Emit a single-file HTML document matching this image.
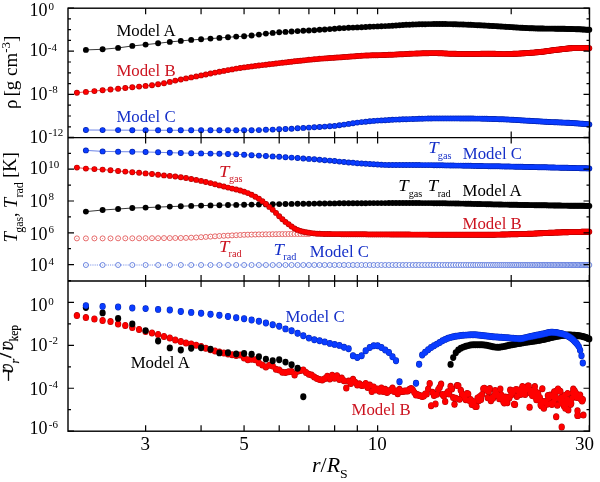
<!DOCTYPE html>
<html><head><meta charset="utf-8"><style>
html,body{margin:0;padding:0;background:#fff;}
body{width:600px;height:482px;position:relative;overflow:hidden;font-family:"Liberation Serif",serif;}
svg{position:absolute;left:0;top:0;}
.t{position:absolute;font-size:16.8px;line-height:1;white-space:nowrap;}
</style></head><body>
<svg width="600" height="482" viewBox="0 0 600 482">
<rect x="0" y="0" width="600" height="482" fill="#fff"/>
<polyline points="85.87,130.00 102.63,130.09 118.06,130.15 132.34,130.19 145.63,130.23 158.07,130.25 169.75,130.27 180.76,130.28 191.18,130.29 201.07,130.29 210.47,130.30 219.43,130.30 228.00,130.30 236.20,130.30 244.07,130.30 251.62,130.23 258.90,130.07 265.90,129.84 272.67,129.59 279.20,129.33 285.52,129.04 291.64,128.69 297.56,128.30 303.32,127.92 308.90,127.57 314.33,127.26 319.61,126.96 324.75,126.65 329.76,126.29 334.63,125.87 339.39,125.29 344.04,124.59 348.57,123.86 353.00,123.18 357.33,122.63 361.57,122.14 365.71,121.68 369.77,121.27 373.74,120.92 377.63,120.64 381.45,120.39 385.19,120.17 388.86,119.96 392.46,119.78 396.00,119.61 399.47,119.47 402.88,119.33 406.23,119.22 409.53,119.11 412.77,119.00 415.95,118.89 419.08,118.79 422.17,118.70 425.20,118.61 428.19,118.54 431.13,118.48 434.03,118.44 436.88,118.41 439.70,118.40 442.47,118.40 445.20,118.40 447.90,118.41 450.56,118.41 453.18,118.42 455.76,118.43 458.32,118.44 460.84,118.45 463.32,118.46 465.78,118.48 468.20,118.49 470.59,118.50 472.96,118.52 475.29,118.55 477.60,118.59 479.88,118.63 482.14,118.68 484.36,118.73 486.57,118.79 488.74,118.85 490.90,118.91 493.03,118.98 495.13,119.04 497.22,119.11 499.28,119.18 501.32,119.24 503.33,119.32 505.33,119.41 507.31,119.50 509.26,119.60 511.20,119.70 513.12,119.80 515.02,119.91 516.90,120.02 518.76,120.13 520.60,120.24 522.43,120.35 524.24,120.46 526.03,120.57 527.81,120.67 529.57,120.78 531.31,120.88 533.04,120.98 534.75,121.08 536.45,121.19 538.13,121.30 539.80,121.40 541.45,121.50 543.09,121.61 544.72,121.70 546.33,121.80 547.93,121.89 549.52,121.97 551.09,122.05 552.65,122.13 554.20,122.20 555.73,122.26 557.26,122.33 558.77,122.39 560.27,122.45 561.76,122.51 563.23,122.57 564.70,122.63 566.15,122.70 567.60,122.77 569.03,122.85 570.45,122.93 571.86,123.01 573.26,123.10 574.66,123.19 576.04,123.29 577.41,123.39 578.77,123.49 580.12,123.59 581.47,123.70 582.80,123.81 584.12,123.92 585.44,124.03 586.75,124.15 588.04,124.27 589.33,124.38" fill="none" stroke="#3355dd" stroke-width="0.9" opacity="0.8"/>
<g fill="#0022b0"><circle cx="85.9" cy="130.0" r="2.95"/><circle cx="102.6" cy="130.1" r="2.95"/><circle cx="118.1" cy="130.1" r="2.95"/><circle cx="132.3" cy="130.2" r="2.95"/><circle cx="145.6" cy="130.2" r="2.95"/><circle cx="158.1" cy="130.3" r="2.95"/><circle cx="169.8" cy="130.3" r="2.95"/><circle cx="180.8" cy="130.3" r="2.95"/><circle cx="191.2" cy="130.3" r="2.95"/><circle cx="201.1" cy="130.3" r="2.95"/><circle cx="210.5" cy="130.3" r="2.95"/><circle cx="219.4" cy="130.3" r="2.95"/><circle cx="228.0" cy="130.3" r="2.95"/><circle cx="236.2" cy="130.3" r="2.95"/><circle cx="244.1" cy="130.3" r="2.95"/><circle cx="251.6" cy="130.2" r="2.95"/><circle cx="258.9" cy="130.1" r="2.95"/><circle cx="265.9" cy="129.8" r="2.95"/><circle cx="272.7" cy="129.6" r="2.95"/><circle cx="279.2" cy="129.3" r="2.95"/><circle cx="285.5" cy="129.0" r="2.95"/><circle cx="291.6" cy="128.7" r="2.95"/><circle cx="297.6" cy="128.3" r="2.95"/><circle cx="303.3" cy="127.9" r="2.95"/><circle cx="308.9" cy="127.6" r="2.95"/><circle cx="314.3" cy="127.3" r="2.95"/><circle cx="319.6" cy="127.0" r="2.95"/><circle cx="324.7" cy="126.6" r="2.95"/><circle cx="329.8" cy="126.3" r="2.95"/><circle cx="334.6" cy="125.9" r="2.95"/><circle cx="339.4" cy="125.3" r="2.95"/><circle cx="344.0" cy="124.6" r="2.95"/><circle cx="348.6" cy="123.9" r="2.95"/><circle cx="353.0" cy="123.2" r="2.95"/><circle cx="357.3" cy="122.6" r="2.95"/><circle cx="361.6" cy="122.1" r="2.95"/><circle cx="365.7" cy="121.7" r="2.95"/><circle cx="369.8" cy="121.3" r="2.95"/><circle cx="373.7" cy="120.9" r="2.95"/><circle cx="377.6" cy="120.6" r="2.95"/><circle cx="381.4" cy="120.4" r="2.95"/><circle cx="385.2" cy="120.2" r="2.95"/><circle cx="388.9" cy="120.0" r="2.95"/><circle cx="392.5" cy="119.8" r="2.95"/><circle cx="396.0" cy="119.6" r="2.95"/><circle cx="399.5" cy="119.5" r="2.95"/><circle cx="402.9" cy="119.3" r="2.95"/><circle cx="406.2" cy="119.2" r="2.95"/><circle cx="409.5" cy="119.1" r="2.95"/><circle cx="412.8" cy="119.0" r="2.95"/><circle cx="416.0" cy="118.9" r="2.95"/><circle cx="419.1" cy="118.8" r="2.95"/><circle cx="422.2" cy="118.7" r="2.95"/><circle cx="425.2" cy="118.6" r="2.95"/><circle cx="428.2" cy="118.5" r="2.95"/><circle cx="431.1" cy="118.5" r="2.95"/><circle cx="434.0" cy="118.4" r="2.95"/><circle cx="436.9" cy="118.4" r="2.95"/><circle cx="439.7" cy="118.4" r="2.95"/><circle cx="442.5" cy="118.4" r="2.95"/><circle cx="445.2" cy="118.4" r="2.95"/><circle cx="447.9" cy="118.4" r="2.95"/><circle cx="450.6" cy="118.4" r="2.95"/><circle cx="453.2" cy="118.4" r="2.95"/><circle cx="455.8" cy="118.4" r="2.95"/><circle cx="458.3" cy="118.4" r="2.95"/><circle cx="460.8" cy="118.5" r="2.95"/><circle cx="463.3" cy="118.5" r="2.95"/><circle cx="465.8" cy="118.5" r="2.95"/><circle cx="468.2" cy="118.5" r="2.95"/><circle cx="470.6" cy="118.5" r="2.95"/><circle cx="473.0" cy="118.5" r="2.95"/><circle cx="475.3" cy="118.6" r="2.95"/><circle cx="477.6" cy="118.6" r="2.95"/><circle cx="479.9" cy="118.6" r="2.95"/><circle cx="482.1" cy="118.7" r="2.95"/><circle cx="484.4" cy="118.7" r="2.95"/><circle cx="486.6" cy="118.8" r="2.95"/><circle cx="488.7" cy="118.9" r="2.95"/><circle cx="490.9" cy="118.9" r="2.95"/><circle cx="493.0" cy="119.0" r="2.95"/><circle cx="495.1" cy="119.0" r="2.95"/><circle cx="497.2" cy="119.1" r="2.95"/><circle cx="499.3" cy="119.2" r="2.95"/><circle cx="501.3" cy="119.2" r="2.95"/><circle cx="503.3" cy="119.3" r="2.95"/><circle cx="505.3" cy="119.4" r="2.95"/><circle cx="507.3" cy="119.5" r="2.95"/><circle cx="509.3" cy="119.6" r="2.95"/><circle cx="511.2" cy="119.7" r="2.95"/><circle cx="513.1" cy="119.8" r="2.95"/><circle cx="515.0" cy="119.9" r="2.95"/><circle cx="516.9" cy="120.0" r="2.95"/><circle cx="518.8" cy="120.1" r="2.95"/><circle cx="520.6" cy="120.2" r="2.95"/><circle cx="522.4" cy="120.4" r="2.95"/><circle cx="524.2" cy="120.5" r="2.95"/><circle cx="526.0" cy="120.6" r="2.95"/><circle cx="527.8" cy="120.7" r="2.95"/><circle cx="529.6" cy="120.8" r="2.95"/><circle cx="531.3" cy="120.9" r="2.95"/><circle cx="533.0" cy="121.0" r="2.95"/><circle cx="534.8" cy="121.1" r="2.95"/><circle cx="536.4" cy="121.2" r="2.95"/><circle cx="538.1" cy="121.3" r="2.95"/><circle cx="539.8" cy="121.4" r="2.95"/><circle cx="541.5" cy="121.5" r="2.95"/><circle cx="543.1" cy="121.6" r="2.95"/><circle cx="544.7" cy="121.7" r="2.95"/><circle cx="546.3" cy="121.8" r="2.95"/><circle cx="547.9" cy="121.9" r="2.95"/><circle cx="549.5" cy="122.0" r="2.95"/><circle cx="551.1" cy="122.1" r="2.95"/><circle cx="552.7" cy="122.1" r="2.95"/><circle cx="554.2" cy="122.2" r="2.95"/><circle cx="555.7" cy="122.3" r="2.95"/><circle cx="557.3" cy="122.3" r="2.95"/><circle cx="558.8" cy="122.4" r="2.95"/><circle cx="560.3" cy="122.4" r="2.95"/><circle cx="561.8" cy="122.5" r="2.95"/><circle cx="563.2" cy="122.6" r="2.95"/><circle cx="564.7" cy="122.6" r="2.95"/><circle cx="566.2" cy="122.7" r="2.95"/><circle cx="567.6" cy="122.8" r="2.95"/><circle cx="569.0" cy="122.8" r="2.95"/><circle cx="570.5" cy="122.9" r="2.95"/><circle cx="571.9" cy="123.0" r="2.95"/><circle cx="573.3" cy="123.1" r="2.95"/><circle cx="574.7" cy="123.2" r="2.95"/><circle cx="576.0" cy="123.3" r="2.95"/><circle cx="577.4" cy="123.4" r="2.95"/><circle cx="578.8" cy="123.5" r="2.95"/><circle cx="580.1" cy="123.6" r="2.95"/><circle cx="581.5" cy="123.7" r="2.95"/><circle cx="582.8" cy="123.8" r="2.95"/><circle cx="584.1" cy="123.9" r="2.95"/><circle cx="585.4" cy="124.0" r="2.95"/><circle cx="586.7" cy="124.1" r="2.95"/><circle cx="588.0" cy="124.3" r="2.95"/><circle cx="589.3" cy="124.4" r="2.95"/></g>
<g fill="#0a3cff"><circle cx="85.9" cy="130.0" r="2.25"/><circle cx="102.6" cy="130.1" r="2.25"/><circle cx="118.1" cy="130.1" r="2.25"/><circle cx="132.3" cy="130.2" r="2.25"/><circle cx="145.6" cy="130.2" r="2.25"/><circle cx="158.1" cy="130.3" r="2.25"/><circle cx="169.8" cy="130.3" r="2.25"/><circle cx="180.8" cy="130.3" r="2.25"/><circle cx="191.2" cy="130.3" r="2.25"/><circle cx="201.1" cy="130.3" r="2.25"/><circle cx="210.5" cy="130.3" r="2.25"/><circle cx="219.4" cy="130.3" r="2.25"/><circle cx="228.0" cy="130.3" r="2.25"/><circle cx="236.2" cy="130.3" r="2.25"/><circle cx="244.1" cy="130.3" r="2.25"/><circle cx="251.6" cy="130.2" r="2.25"/><circle cx="258.9" cy="130.1" r="2.25"/><circle cx="265.9" cy="129.8" r="2.25"/><circle cx="272.7" cy="129.6" r="2.25"/><circle cx="279.2" cy="129.3" r="2.25"/><circle cx="285.5" cy="129.0" r="2.25"/><circle cx="291.6" cy="128.7" r="2.25"/><circle cx="297.6" cy="128.3" r="2.25"/><circle cx="303.3" cy="127.9" r="2.25"/><circle cx="308.9" cy="127.6" r="2.25"/><circle cx="314.3" cy="127.3" r="2.25"/><circle cx="319.6" cy="127.0" r="2.25"/><circle cx="324.7" cy="126.6" r="2.25"/><circle cx="329.8" cy="126.3" r="2.25"/><circle cx="334.6" cy="125.9" r="2.25"/><circle cx="339.4" cy="125.3" r="2.25"/><circle cx="344.0" cy="124.6" r="2.25"/><circle cx="348.6" cy="123.9" r="2.25"/><circle cx="353.0" cy="123.2" r="2.25"/><circle cx="357.3" cy="122.6" r="2.25"/><circle cx="361.6" cy="122.1" r="2.25"/><circle cx="365.7" cy="121.7" r="2.25"/><circle cx="369.8" cy="121.3" r="2.25"/><circle cx="373.7" cy="120.9" r="2.25"/><circle cx="377.6" cy="120.6" r="2.25"/><circle cx="381.4" cy="120.4" r="2.25"/><circle cx="385.2" cy="120.2" r="2.25"/><circle cx="388.9" cy="120.0" r="2.25"/><circle cx="392.5" cy="119.8" r="2.25"/><circle cx="396.0" cy="119.6" r="2.25"/><circle cx="399.5" cy="119.5" r="2.25"/><circle cx="402.9" cy="119.3" r="2.25"/><circle cx="406.2" cy="119.2" r="2.25"/><circle cx="409.5" cy="119.1" r="2.25"/><circle cx="412.8" cy="119.0" r="2.25"/><circle cx="416.0" cy="118.9" r="2.25"/><circle cx="419.1" cy="118.8" r="2.25"/><circle cx="422.2" cy="118.7" r="2.25"/><circle cx="425.2" cy="118.6" r="2.25"/><circle cx="428.2" cy="118.5" r="2.25"/><circle cx="431.1" cy="118.5" r="2.25"/><circle cx="434.0" cy="118.4" r="2.25"/><circle cx="436.9" cy="118.4" r="2.25"/><circle cx="439.7" cy="118.4" r="2.25"/><circle cx="442.5" cy="118.4" r="2.25"/><circle cx="445.2" cy="118.4" r="2.25"/><circle cx="447.9" cy="118.4" r="2.25"/><circle cx="450.6" cy="118.4" r="2.25"/><circle cx="453.2" cy="118.4" r="2.25"/><circle cx="455.8" cy="118.4" r="2.25"/><circle cx="458.3" cy="118.4" r="2.25"/><circle cx="460.8" cy="118.5" r="2.25"/><circle cx="463.3" cy="118.5" r="2.25"/><circle cx="465.8" cy="118.5" r="2.25"/><circle cx="468.2" cy="118.5" r="2.25"/><circle cx="470.6" cy="118.5" r="2.25"/><circle cx="473.0" cy="118.5" r="2.25"/><circle cx="475.3" cy="118.6" r="2.25"/><circle cx="477.6" cy="118.6" r="2.25"/><circle cx="479.9" cy="118.6" r="2.25"/><circle cx="482.1" cy="118.7" r="2.25"/><circle cx="484.4" cy="118.7" r="2.25"/><circle cx="486.6" cy="118.8" r="2.25"/><circle cx="488.7" cy="118.9" r="2.25"/><circle cx="490.9" cy="118.9" r="2.25"/><circle cx="493.0" cy="119.0" r="2.25"/><circle cx="495.1" cy="119.0" r="2.25"/><circle cx="497.2" cy="119.1" r="2.25"/><circle cx="499.3" cy="119.2" r="2.25"/><circle cx="501.3" cy="119.2" r="2.25"/><circle cx="503.3" cy="119.3" r="2.25"/><circle cx="505.3" cy="119.4" r="2.25"/><circle cx="507.3" cy="119.5" r="2.25"/><circle cx="509.3" cy="119.6" r="2.25"/><circle cx="511.2" cy="119.7" r="2.25"/><circle cx="513.1" cy="119.8" r="2.25"/><circle cx="515.0" cy="119.9" r="2.25"/><circle cx="516.9" cy="120.0" r="2.25"/><circle cx="518.8" cy="120.1" r="2.25"/><circle cx="520.6" cy="120.2" r="2.25"/><circle cx="522.4" cy="120.4" r="2.25"/><circle cx="524.2" cy="120.5" r="2.25"/><circle cx="526.0" cy="120.6" r="2.25"/><circle cx="527.8" cy="120.7" r="2.25"/><circle cx="529.6" cy="120.8" r="2.25"/><circle cx="531.3" cy="120.9" r="2.25"/><circle cx="533.0" cy="121.0" r="2.25"/><circle cx="534.8" cy="121.1" r="2.25"/><circle cx="536.4" cy="121.2" r="2.25"/><circle cx="538.1" cy="121.3" r="2.25"/><circle cx="539.8" cy="121.4" r="2.25"/><circle cx="541.5" cy="121.5" r="2.25"/><circle cx="543.1" cy="121.6" r="2.25"/><circle cx="544.7" cy="121.7" r="2.25"/><circle cx="546.3" cy="121.8" r="2.25"/><circle cx="547.9" cy="121.9" r="2.25"/><circle cx="549.5" cy="122.0" r="2.25"/><circle cx="551.1" cy="122.1" r="2.25"/><circle cx="552.7" cy="122.1" r="2.25"/><circle cx="554.2" cy="122.2" r="2.25"/><circle cx="555.7" cy="122.3" r="2.25"/><circle cx="557.3" cy="122.3" r="2.25"/><circle cx="558.8" cy="122.4" r="2.25"/><circle cx="560.3" cy="122.4" r="2.25"/><circle cx="561.8" cy="122.5" r="2.25"/><circle cx="563.2" cy="122.6" r="2.25"/><circle cx="564.7" cy="122.6" r="2.25"/><circle cx="566.2" cy="122.7" r="2.25"/><circle cx="567.6" cy="122.8" r="2.25"/><circle cx="569.0" cy="122.8" r="2.25"/><circle cx="570.5" cy="122.9" r="2.25"/><circle cx="571.9" cy="123.0" r="2.25"/><circle cx="573.3" cy="123.1" r="2.25"/><circle cx="574.7" cy="123.2" r="2.25"/><circle cx="576.0" cy="123.3" r="2.25"/><circle cx="577.4" cy="123.4" r="2.25"/><circle cx="578.8" cy="123.5" r="2.25"/><circle cx="580.1" cy="123.6" r="2.25"/><circle cx="581.5" cy="123.7" r="2.25"/><circle cx="582.8" cy="123.8" r="2.25"/><circle cx="584.1" cy="123.9" r="2.25"/><circle cx="585.4" cy="124.0" r="2.25"/><circle cx="586.7" cy="124.1" r="2.25"/><circle cx="588.0" cy="124.3" r="2.25"/><circle cx="589.3" cy="124.4" r="2.25"/></g>
<polyline points="76.90,92.68 85.87,91.86 94.43,91.05 102.63,90.26 110.50,89.48 118.06,88.72 125.33,88.01 132.34,87.32 139.10,86.61 145.63,85.91 151.95,85.18 158.07,84.34 164.00,83.24 169.75,81.94 175.34,80.64 180.76,79.49 186.04,78.43 191.18,77.41 196.19,76.42 201.07,75.44 205.83,74.48 210.47,73.54 215.00,72.64 219.43,71.78 223.76,70.94 228.00,70.13 232.14,69.36 236.20,68.65 240.17,68.00 244.07,67.42 247.88,66.89 251.62,66.39 255.29,65.92 258.90,65.48 262.43,65.06 265.90,64.66 269.31,64.27 272.67,63.87 275.96,63.49 279.20,63.10 282.38,62.72 285.52,62.36 288.60,62.00 291.64,61.65 294.62,61.32 297.56,61.01 300.46,60.70 303.32,60.40 306.13,60.11 308.90,59.83 311.64,59.56 314.33,59.30 316.99,59.06 319.61,58.83 322.20,58.62 324.75,58.42 327.27,58.23 329.76,58.05 332.21,57.87 334.63,57.70 337.03,57.54 339.39,57.37 341.73,57.21 344.04,57.05 346.32,56.88 348.57,56.71 350.80,56.54 353.00,56.37 355.18,56.20 357.33,56.05 359.46,55.90 361.57,55.77 363.65,55.65 365.71,55.54 367.75,55.46 369.77,55.38 371.76,55.32 373.74,55.26 375.70,55.20 377.63,55.15 379.55,55.11 381.45,55.06 383.33,55.01 385.19,54.96 387.03,54.90 388.86,54.84 390.67,54.77 392.46,54.70 394.24,54.62 396.00,54.53 397.74,54.44 399.47,54.34 401.18,54.25 402.88,54.15 404.56,54.06 406.23,53.96 407.89,53.88 409.53,53.79 411.15,53.71 412.77,53.64 414.36,53.58 415.95,53.52 417.52,53.48 419.08,53.43 420.63,53.38 422.17,53.33 423.69,53.29 425.20,53.25 426.70,53.21 428.19,53.18 429.67,53.15 431.13,53.13 432.59,53.11 434.03,53.10 435.46,53.10 436.88,53.12 438.30,53.15 439.70,53.20 441.09,53.26 442.47,53.32 443.84,53.39 445.20,53.47 446.56,53.54 447.90,53.61 449.23,53.67 450.56,53.72 451.87,53.77 453.18,53.80 454.48,53.82 455.76,53.84 457.05,53.86 458.32,53.88 459.58,53.90 460.84,53.92 462.08,53.93 463.32,53.95 464.55,53.96 465.78,53.97 466.99,53.98 468.20,53.99 469.40,54.00 470.59,54.00 471.78,54.00 472.96,54.00 474.13,53.99 475.29,53.97 476.45,53.95 477.60,53.93 478.75,53.90 479.88,53.87 481.01,53.85 482.14,53.82 483.25,53.79 484.36,53.77 485.47,53.75 486.57,53.73 487.66,53.71 488.74,53.70 489.82,53.70 490.90,53.71 491.96,53.72 493.03,53.75 494.08,53.79 495.13,53.83 496.18,53.88 497.22,53.93 498.25,53.97 499.28,54.01 500.30,54.05 501.32,54.08 502.33,54.09 503.33,54.10 504.33,54.10 505.33,54.09 506.32,54.07 507.31,54.05 508.29,54.02 509.26,53.99 510.23,53.96 511.20,53.92 512.16,53.88 513.12,53.84 514.07,53.79 515.02,53.75 515.96,53.70 516.90,53.65 517.83,53.60 518.76,53.55 519.68,53.50 520.60,53.46 521.52,53.41 522.43,53.36 523.34,53.31 524.24,53.26 525.14,53.21 526.03,53.15 526.92,53.09 527.81,53.03 528.69,52.97 529.57,52.90 530.44,52.84 531.31,52.77 532.18,52.70 533.04,52.63 533.90,52.56 534.75,52.48 535.60,52.41 536.45,52.33 537.29,52.26 538.13,52.18 538.97,52.10 539.80,52.02 540.63,51.94 541.45,51.85 542.28,51.76 543.09,51.66 543.91,51.55 544.72,51.45 545.53,51.34 546.33,51.22 547.13,51.11 547.93,51.00 548.73,50.88 549.52,50.76 550.31,50.65 551.09,50.53 551.87,50.42 552.65,50.31 553.43,50.20 554.20,50.10 554.97,49.99 555.73,49.90 556.50,49.80 557.26,49.71 558.01,49.63 558.77,49.55 559.52,49.47 560.27,49.38 561.01,49.30 561.76,49.21 562.50,49.13 563.23,49.04 563.97,48.95 564.70,48.87 565.43,48.79 566.15,48.70 566.88,48.63 567.60,48.55 568.31,48.48 569.03,48.41 569.74,48.34 570.45,48.28 571.16,48.23 571.86,48.18 572.56,48.13 573.26,48.09 573.96,48.06 574.66,48.03 575.35,48.02 576.04,48.00 576.72,48.00 577.41,48.00 578.09,48.00 578.77,48.00 579.45,48.00 580.12,48.00 580.80,48.01 581.47,48.01 582.13,48.02 582.80,48.02 583.46,48.03 584.12,48.04 584.78,48.05 585.44,48.06 586.09,48.08 586.75,48.10 587.40,48.12 588.04,48.14 588.69,48.16 589.33,48.19" fill="none" stroke="#ee3333" stroke-width="0.9" opacity="1"/>
<g fill="#b80000"><circle cx="76.9" cy="92.7" r="2.95"/><circle cx="85.9" cy="91.9" r="2.95"/><circle cx="94.4" cy="91.1" r="2.95"/><circle cx="102.6" cy="90.3" r="2.95"/><circle cx="110.5" cy="89.5" r="2.95"/><circle cx="118.1" cy="88.7" r="2.95"/><circle cx="125.3" cy="88.0" r="2.95"/><circle cx="132.3" cy="87.3" r="2.95"/><circle cx="139.1" cy="86.6" r="2.95"/><circle cx="145.6" cy="85.9" r="2.95"/><circle cx="152.0" cy="85.2" r="2.95"/><circle cx="158.1" cy="84.3" r="2.95"/><circle cx="164.0" cy="83.2" r="2.95"/><circle cx="169.8" cy="81.9" r="2.95"/><circle cx="175.3" cy="80.6" r="2.95"/><circle cx="180.8" cy="79.5" r="2.95"/><circle cx="186.0" cy="78.4" r="2.95"/><circle cx="191.2" cy="77.4" r="2.95"/><circle cx="196.2" cy="76.4" r="2.95"/><circle cx="201.1" cy="75.4" r="2.95"/><circle cx="205.8" cy="74.5" r="2.95"/><circle cx="210.5" cy="73.5" r="2.95"/><circle cx="215.0" cy="72.6" r="2.95"/><circle cx="219.4" cy="71.8" r="2.95"/><circle cx="223.8" cy="70.9" r="2.95"/><circle cx="228.0" cy="70.1" r="2.95"/><circle cx="232.1" cy="69.4" r="2.95"/><circle cx="236.2" cy="68.6" r="2.95"/><circle cx="240.2" cy="68.0" r="2.95"/><circle cx="244.1" cy="67.4" r="2.95"/><circle cx="247.9" cy="66.9" r="2.95"/><circle cx="251.6" cy="66.4" r="2.95"/><circle cx="255.3" cy="65.9" r="2.95"/><circle cx="258.9" cy="65.5" r="2.95"/><circle cx="262.4" cy="65.1" r="2.95"/><circle cx="265.9" cy="64.7" r="2.95"/><circle cx="269.3" cy="64.3" r="2.95"/><circle cx="272.7" cy="63.9" r="2.95"/><circle cx="276.0" cy="63.5" r="2.95"/><circle cx="279.2" cy="63.1" r="2.95"/><circle cx="282.4" cy="62.7" r="2.95"/><circle cx="285.5" cy="62.4" r="2.95"/><circle cx="288.6" cy="62.0" r="2.95"/><circle cx="291.6" cy="61.7" r="2.95"/><circle cx="294.6" cy="61.3" r="2.95"/><circle cx="297.6" cy="61.0" r="2.95"/><circle cx="300.5" cy="60.7" r="2.95"/><circle cx="303.3" cy="60.4" r="2.95"/><circle cx="306.1" cy="60.1" r="2.95"/><circle cx="308.9" cy="59.8" r="2.95"/><circle cx="311.6" cy="59.6" r="2.95"/><circle cx="314.3" cy="59.3" r="2.95"/><circle cx="317.0" cy="59.1" r="2.95"/><circle cx="319.6" cy="58.8" r="2.95"/><circle cx="322.2" cy="58.6" r="2.95"/><circle cx="324.7" cy="58.4" r="2.95"/><circle cx="327.3" cy="58.2" r="2.95"/><circle cx="329.8" cy="58.0" r="2.95"/><circle cx="332.2" cy="57.9" r="2.95"/><circle cx="334.6" cy="57.7" r="2.95"/><circle cx="337.0" cy="57.5" r="2.95"/><circle cx="339.4" cy="57.4" r="2.95"/><circle cx="341.7" cy="57.2" r="2.95"/><circle cx="344.0" cy="57.0" r="2.95"/><circle cx="346.3" cy="56.9" r="2.95"/><circle cx="348.6" cy="56.7" r="2.95"/><circle cx="350.8" cy="56.5" r="2.95"/><circle cx="353.0" cy="56.4" r="2.95"/><circle cx="355.2" cy="56.2" r="2.95"/><circle cx="357.3" cy="56.0" r="2.95"/><circle cx="359.5" cy="55.9" r="2.95"/><circle cx="361.6" cy="55.8" r="2.95"/><circle cx="363.6" cy="55.6" r="2.95"/><circle cx="365.7" cy="55.5" r="2.95"/><circle cx="367.7" cy="55.5" r="2.95"/><circle cx="369.8" cy="55.4" r="2.95"/><circle cx="371.8" cy="55.3" r="2.95"/><circle cx="373.7" cy="55.3" r="2.95"/><circle cx="375.7" cy="55.2" r="2.95"/><circle cx="377.6" cy="55.2" r="2.95"/><circle cx="379.6" cy="55.1" r="2.95"/><circle cx="381.4" cy="55.1" r="2.95"/><circle cx="383.3" cy="55.0" r="2.95"/><circle cx="385.2" cy="55.0" r="2.95"/><circle cx="387.0" cy="54.9" r="2.95"/><circle cx="388.9" cy="54.8" r="2.95"/><circle cx="390.7" cy="54.8" r="2.95"/><circle cx="392.5" cy="54.7" r="2.95"/><circle cx="394.2" cy="54.6" r="2.95"/><circle cx="396.0" cy="54.5" r="2.95"/><circle cx="397.7" cy="54.4" r="2.95"/><circle cx="399.5" cy="54.3" r="2.95"/><circle cx="401.2" cy="54.2" r="2.95"/><circle cx="402.9" cy="54.2" r="2.95"/><circle cx="404.6" cy="54.1" r="2.95"/><circle cx="406.2" cy="54.0" r="2.95"/><circle cx="407.9" cy="53.9" r="2.95"/><circle cx="409.5" cy="53.8" r="2.95"/><circle cx="411.2" cy="53.7" r="2.95"/><circle cx="412.8" cy="53.6" r="2.95"/><circle cx="414.4" cy="53.6" r="2.95"/><circle cx="416.0" cy="53.5" r="2.95"/><circle cx="417.5" cy="53.5" r="2.95"/><circle cx="419.1" cy="53.4" r="2.95"/><circle cx="420.6" cy="53.4" r="2.95"/><circle cx="422.2" cy="53.3" r="2.95"/><circle cx="423.7" cy="53.3" r="2.95"/><circle cx="425.2" cy="53.2" r="2.95"/><circle cx="426.7" cy="53.2" r="2.95"/><circle cx="428.2" cy="53.2" r="2.95"/><circle cx="429.7" cy="53.1" r="2.95"/><circle cx="431.1" cy="53.1" r="2.95"/><circle cx="432.6" cy="53.1" r="2.95"/><circle cx="434.0" cy="53.1" r="2.95"/><circle cx="435.5" cy="53.1" r="2.95"/><circle cx="436.9" cy="53.1" r="2.95"/><circle cx="438.3" cy="53.2" r="2.95"/><circle cx="439.7" cy="53.2" r="2.95"/><circle cx="441.1" cy="53.3" r="2.95"/><circle cx="442.5" cy="53.3" r="2.95"/><circle cx="443.8" cy="53.4" r="2.95"/><circle cx="445.2" cy="53.5" r="2.95"/><circle cx="446.6" cy="53.5" r="2.95"/><circle cx="447.9" cy="53.6" r="2.95"/><circle cx="449.2" cy="53.7" r="2.95"/><circle cx="450.6" cy="53.7" r="2.95"/><circle cx="451.9" cy="53.8" r="2.95"/><circle cx="453.2" cy="53.8" r="2.95"/><circle cx="454.5" cy="53.8" r="2.95"/><circle cx="455.8" cy="53.8" r="2.95"/><circle cx="457.0" cy="53.9" r="2.95"/><circle cx="458.3" cy="53.9" r="2.95"/><circle cx="459.6" cy="53.9" r="2.95"/><circle cx="460.8" cy="53.9" r="2.95"/><circle cx="462.1" cy="53.9" r="2.95"/><circle cx="463.3" cy="53.9" r="2.95"/><circle cx="464.6" cy="54.0" r="2.95"/><circle cx="465.8" cy="54.0" r="2.95"/><circle cx="467.0" cy="54.0" r="2.95"/><circle cx="468.2" cy="54.0" r="2.95"/><circle cx="469.4" cy="54.0" r="2.95"/><circle cx="470.6" cy="54.0" r="2.95"/><circle cx="471.8" cy="54.0" r="2.95"/><circle cx="473.0" cy="54.0" r="2.95"/><circle cx="474.1" cy="54.0" r="2.95"/><circle cx="475.3" cy="54.0" r="2.95"/><circle cx="476.5" cy="53.9" r="2.95"/><circle cx="477.6" cy="53.9" r="2.95"/><circle cx="478.7" cy="53.9" r="2.95"/><circle cx="479.9" cy="53.9" r="2.95"/><circle cx="481.0" cy="53.8" r="2.95"/><circle cx="482.1" cy="53.8" r="2.95"/><circle cx="483.3" cy="53.8" r="2.95"/><circle cx="484.4" cy="53.8" r="2.95"/><circle cx="485.5" cy="53.7" r="2.95"/><circle cx="486.6" cy="53.7" r="2.95"/><circle cx="487.7" cy="53.7" r="2.95"/><circle cx="488.7" cy="53.7" r="2.95"/><circle cx="489.8" cy="53.7" r="2.95"/><circle cx="490.9" cy="53.7" r="2.95"/><circle cx="492.0" cy="53.7" r="2.95"/><circle cx="493.0" cy="53.8" r="2.95"/><circle cx="494.1" cy="53.8" r="2.95"/><circle cx="495.1" cy="53.8" r="2.95"/><circle cx="496.2" cy="53.9" r="2.95"/><circle cx="497.2" cy="53.9" r="2.95"/><circle cx="498.2" cy="54.0" r="2.95"/><circle cx="499.3" cy="54.0" r="2.95"/><circle cx="500.3" cy="54.0" r="2.95"/><circle cx="501.3" cy="54.1" r="2.95"/><circle cx="502.3" cy="54.1" r="2.95"/><circle cx="503.3" cy="54.1" r="2.95"/><circle cx="504.3" cy="54.1" r="2.95"/><circle cx="505.3" cy="54.1" r="2.95"/><circle cx="506.3" cy="54.1" r="2.95"/><circle cx="507.3" cy="54.0" r="2.95"/><circle cx="508.3" cy="54.0" r="2.95"/><circle cx="509.3" cy="54.0" r="2.95"/><circle cx="510.2" cy="54.0" r="2.95"/><circle cx="511.2" cy="53.9" r="2.95"/><circle cx="512.2" cy="53.9" r="2.95"/><circle cx="513.1" cy="53.8" r="2.95"/><circle cx="514.1" cy="53.8" r="2.95"/><circle cx="515.0" cy="53.7" r="2.95"/><circle cx="516.0" cy="53.7" r="2.95"/><circle cx="516.9" cy="53.7" r="2.95"/><circle cx="517.8" cy="53.6" r="2.95"/><circle cx="518.8" cy="53.6" r="2.95"/><circle cx="519.7" cy="53.5" r="2.95"/><circle cx="520.6" cy="53.5" r="2.95"/><circle cx="521.5" cy="53.4" r="2.95"/><circle cx="522.4" cy="53.4" r="2.95"/><circle cx="523.3" cy="53.3" r="2.95"/><circle cx="524.2" cy="53.3" r="2.95"/><circle cx="525.1" cy="53.2" r="2.95"/><circle cx="526.0" cy="53.1" r="2.95"/><circle cx="526.9" cy="53.1" r="2.95"/><circle cx="527.8" cy="53.0" r="2.95"/><circle cx="528.7" cy="53.0" r="2.95"/><circle cx="529.6" cy="52.9" r="2.95"/><circle cx="530.4" cy="52.8" r="2.95"/><circle cx="531.3" cy="52.8" r="2.95"/><circle cx="532.2" cy="52.7" r="2.95"/><circle cx="533.0" cy="52.6" r="2.95"/><circle cx="533.9" cy="52.6" r="2.95"/><circle cx="534.8" cy="52.5" r="2.95"/><circle cx="535.6" cy="52.4" r="2.95"/><circle cx="536.4" cy="52.3" r="2.95"/><circle cx="537.3" cy="52.3" r="2.95"/><circle cx="538.1" cy="52.2" r="2.95"/><circle cx="539.0" cy="52.1" r="2.95"/><circle cx="539.8" cy="52.0" r="2.95"/><circle cx="540.6" cy="51.9" r="2.95"/><circle cx="541.5" cy="51.8" r="2.95"/><circle cx="542.3" cy="51.8" r="2.95"/><circle cx="543.1" cy="51.7" r="2.95"/><circle cx="543.9" cy="51.6" r="2.95"/><circle cx="544.7" cy="51.4" r="2.95"/><circle cx="545.5" cy="51.3" r="2.95"/><circle cx="546.3" cy="51.2" r="2.95"/><circle cx="547.1" cy="51.1" r="2.95"/><circle cx="547.9" cy="51.0" r="2.95"/><circle cx="548.7" cy="50.9" r="2.95"/><circle cx="549.5" cy="50.8" r="2.95"/><circle cx="550.3" cy="50.6" r="2.95"/><circle cx="551.1" cy="50.5" r="2.95"/><circle cx="551.9" cy="50.4" r="2.95"/><circle cx="552.7" cy="50.3" r="2.95"/><circle cx="553.4" cy="50.2" r="2.95"/><circle cx="554.2" cy="50.1" r="2.95"/><circle cx="555.0" cy="50.0" r="2.95"/><circle cx="555.7" cy="49.9" r="2.95"/><circle cx="556.5" cy="49.8" r="2.95"/><circle cx="557.3" cy="49.7" r="2.95"/><circle cx="558.0" cy="49.6" r="2.95"/><circle cx="558.8" cy="49.6" r="2.95"/><circle cx="559.5" cy="49.5" r="2.95"/><circle cx="560.3" cy="49.4" r="2.95"/><circle cx="561.0" cy="49.3" r="2.95"/><circle cx="561.8" cy="49.2" r="2.95"/><circle cx="562.5" cy="49.1" r="2.95"/><circle cx="563.2" cy="49.0" r="2.95"/><circle cx="564.0" cy="49.0" r="2.95"/><circle cx="564.7" cy="48.9" r="2.95"/><circle cx="565.4" cy="48.8" r="2.95"/><circle cx="566.2" cy="48.7" r="2.95"/><circle cx="566.9" cy="48.6" r="2.95"/><circle cx="567.6" cy="48.5" r="2.95"/><circle cx="568.3" cy="48.5" r="2.95"/><circle cx="569.0" cy="48.4" r="2.95"/><circle cx="569.7" cy="48.3" r="2.95"/><circle cx="570.5" cy="48.3" r="2.95"/><circle cx="571.2" cy="48.2" r="2.95"/><circle cx="571.9" cy="48.2" r="2.95"/><circle cx="572.6" cy="48.1" r="2.95"/><circle cx="573.3" cy="48.1" r="2.95"/><circle cx="574.0" cy="48.1" r="2.95"/><circle cx="574.7" cy="48.0" r="2.95"/><circle cx="575.3" cy="48.0" r="2.95"/><circle cx="576.0" cy="48.0" r="2.95"/><circle cx="576.7" cy="48.0" r="2.95"/><circle cx="577.4" cy="48.0" r="2.95"/><circle cx="578.1" cy="48.0" r="2.95"/><circle cx="578.8" cy="48.0" r="2.95"/><circle cx="579.4" cy="48.0" r="2.95"/><circle cx="580.1" cy="48.0" r="2.95"/><circle cx="580.8" cy="48.0" r="2.95"/><circle cx="581.5" cy="48.0" r="2.95"/><circle cx="582.1" cy="48.0" r="2.95"/><circle cx="582.8" cy="48.0" r="2.95"/><circle cx="583.5" cy="48.0" r="2.95"/><circle cx="584.1" cy="48.0" r="2.95"/><circle cx="584.8" cy="48.1" r="2.95"/><circle cx="585.4" cy="48.1" r="2.95"/><circle cx="586.1" cy="48.1" r="2.95"/><circle cx="586.7" cy="48.1" r="2.95"/><circle cx="587.4" cy="48.1" r="2.95"/><circle cx="588.0" cy="48.1" r="2.95"/><circle cx="588.7" cy="48.2" r="2.95"/><circle cx="589.3" cy="48.2" r="2.95"/></g>
<g fill="#ff0000"><circle cx="76.9" cy="92.7" r="2.25"/><circle cx="85.9" cy="91.9" r="2.25"/><circle cx="94.4" cy="91.1" r="2.25"/><circle cx="102.6" cy="90.3" r="2.25"/><circle cx="110.5" cy="89.5" r="2.25"/><circle cx="118.1" cy="88.7" r="2.25"/><circle cx="125.3" cy="88.0" r="2.25"/><circle cx="132.3" cy="87.3" r="2.25"/><circle cx="139.1" cy="86.6" r="2.25"/><circle cx="145.6" cy="85.9" r="2.25"/><circle cx="152.0" cy="85.2" r="2.25"/><circle cx="158.1" cy="84.3" r="2.25"/><circle cx="164.0" cy="83.2" r="2.25"/><circle cx="169.8" cy="81.9" r="2.25"/><circle cx="175.3" cy="80.6" r="2.25"/><circle cx="180.8" cy="79.5" r="2.25"/><circle cx="186.0" cy="78.4" r="2.25"/><circle cx="191.2" cy="77.4" r="2.25"/><circle cx="196.2" cy="76.4" r="2.25"/><circle cx="201.1" cy="75.4" r="2.25"/><circle cx="205.8" cy="74.5" r="2.25"/><circle cx="210.5" cy="73.5" r="2.25"/><circle cx="215.0" cy="72.6" r="2.25"/><circle cx="219.4" cy="71.8" r="2.25"/><circle cx="223.8" cy="70.9" r="2.25"/><circle cx="228.0" cy="70.1" r="2.25"/><circle cx="232.1" cy="69.4" r="2.25"/><circle cx="236.2" cy="68.6" r="2.25"/><circle cx="240.2" cy="68.0" r="2.25"/><circle cx="244.1" cy="67.4" r="2.25"/><circle cx="247.9" cy="66.9" r="2.25"/><circle cx="251.6" cy="66.4" r="2.25"/><circle cx="255.3" cy="65.9" r="2.25"/><circle cx="258.9" cy="65.5" r="2.25"/><circle cx="262.4" cy="65.1" r="2.25"/><circle cx="265.9" cy="64.7" r="2.25"/><circle cx="269.3" cy="64.3" r="2.25"/><circle cx="272.7" cy="63.9" r="2.25"/><circle cx="276.0" cy="63.5" r="2.25"/><circle cx="279.2" cy="63.1" r="2.25"/><circle cx="282.4" cy="62.7" r="2.25"/><circle cx="285.5" cy="62.4" r="2.25"/><circle cx="288.6" cy="62.0" r="2.25"/><circle cx="291.6" cy="61.7" r="2.25"/><circle cx="294.6" cy="61.3" r="2.25"/><circle cx="297.6" cy="61.0" r="2.25"/><circle cx="300.5" cy="60.7" r="2.25"/><circle cx="303.3" cy="60.4" r="2.25"/><circle cx="306.1" cy="60.1" r="2.25"/><circle cx="308.9" cy="59.8" r="2.25"/><circle cx="311.6" cy="59.6" r="2.25"/><circle cx="314.3" cy="59.3" r="2.25"/><circle cx="317.0" cy="59.1" r="2.25"/><circle cx="319.6" cy="58.8" r="2.25"/><circle cx="322.2" cy="58.6" r="2.25"/><circle cx="324.7" cy="58.4" r="2.25"/><circle cx="327.3" cy="58.2" r="2.25"/><circle cx="329.8" cy="58.0" r="2.25"/><circle cx="332.2" cy="57.9" r="2.25"/><circle cx="334.6" cy="57.7" r="2.25"/><circle cx="337.0" cy="57.5" r="2.25"/><circle cx="339.4" cy="57.4" r="2.25"/><circle cx="341.7" cy="57.2" r="2.25"/><circle cx="344.0" cy="57.0" r="2.25"/><circle cx="346.3" cy="56.9" r="2.25"/><circle cx="348.6" cy="56.7" r="2.25"/><circle cx="350.8" cy="56.5" r="2.25"/><circle cx="353.0" cy="56.4" r="2.25"/><circle cx="355.2" cy="56.2" r="2.25"/><circle cx="357.3" cy="56.0" r="2.25"/><circle cx="359.5" cy="55.9" r="2.25"/><circle cx="361.6" cy="55.8" r="2.25"/><circle cx="363.6" cy="55.6" r="2.25"/><circle cx="365.7" cy="55.5" r="2.25"/><circle cx="367.7" cy="55.5" r="2.25"/><circle cx="369.8" cy="55.4" r="2.25"/><circle cx="371.8" cy="55.3" r="2.25"/><circle cx="373.7" cy="55.3" r="2.25"/><circle cx="375.7" cy="55.2" r="2.25"/><circle cx="377.6" cy="55.2" r="2.25"/><circle cx="379.6" cy="55.1" r="2.25"/><circle cx="381.4" cy="55.1" r="2.25"/><circle cx="383.3" cy="55.0" r="2.25"/><circle cx="385.2" cy="55.0" r="2.25"/><circle cx="387.0" cy="54.9" r="2.25"/><circle cx="388.9" cy="54.8" r="2.25"/><circle cx="390.7" cy="54.8" r="2.25"/><circle cx="392.5" cy="54.7" r="2.25"/><circle cx="394.2" cy="54.6" r="2.25"/><circle cx="396.0" cy="54.5" r="2.25"/><circle cx="397.7" cy="54.4" r="2.25"/><circle cx="399.5" cy="54.3" r="2.25"/><circle cx="401.2" cy="54.2" r="2.25"/><circle cx="402.9" cy="54.2" r="2.25"/><circle cx="404.6" cy="54.1" r="2.25"/><circle cx="406.2" cy="54.0" r="2.25"/><circle cx="407.9" cy="53.9" r="2.25"/><circle cx="409.5" cy="53.8" r="2.25"/><circle cx="411.2" cy="53.7" r="2.25"/><circle cx="412.8" cy="53.6" r="2.25"/><circle cx="414.4" cy="53.6" r="2.25"/><circle cx="416.0" cy="53.5" r="2.25"/><circle cx="417.5" cy="53.5" r="2.25"/><circle cx="419.1" cy="53.4" r="2.25"/><circle cx="420.6" cy="53.4" r="2.25"/><circle cx="422.2" cy="53.3" r="2.25"/><circle cx="423.7" cy="53.3" r="2.25"/><circle cx="425.2" cy="53.2" r="2.25"/><circle cx="426.7" cy="53.2" r="2.25"/><circle cx="428.2" cy="53.2" r="2.25"/><circle cx="429.7" cy="53.1" r="2.25"/><circle cx="431.1" cy="53.1" r="2.25"/><circle cx="432.6" cy="53.1" r="2.25"/><circle cx="434.0" cy="53.1" r="2.25"/><circle cx="435.5" cy="53.1" r="2.25"/><circle cx="436.9" cy="53.1" r="2.25"/><circle cx="438.3" cy="53.2" r="2.25"/><circle cx="439.7" cy="53.2" r="2.25"/><circle cx="441.1" cy="53.3" r="2.25"/><circle cx="442.5" cy="53.3" r="2.25"/><circle cx="443.8" cy="53.4" r="2.25"/><circle cx="445.2" cy="53.5" r="2.25"/><circle cx="446.6" cy="53.5" r="2.25"/><circle cx="447.9" cy="53.6" r="2.25"/><circle cx="449.2" cy="53.7" r="2.25"/><circle cx="450.6" cy="53.7" r="2.25"/><circle cx="451.9" cy="53.8" r="2.25"/><circle cx="453.2" cy="53.8" r="2.25"/><circle cx="454.5" cy="53.8" r="2.25"/><circle cx="455.8" cy="53.8" r="2.25"/><circle cx="457.0" cy="53.9" r="2.25"/><circle cx="458.3" cy="53.9" r="2.25"/><circle cx="459.6" cy="53.9" r="2.25"/><circle cx="460.8" cy="53.9" r="2.25"/><circle cx="462.1" cy="53.9" r="2.25"/><circle cx="463.3" cy="53.9" r="2.25"/><circle cx="464.6" cy="54.0" r="2.25"/><circle cx="465.8" cy="54.0" r="2.25"/><circle cx="467.0" cy="54.0" r="2.25"/><circle cx="468.2" cy="54.0" r="2.25"/><circle cx="469.4" cy="54.0" r="2.25"/><circle cx="470.6" cy="54.0" r="2.25"/><circle cx="471.8" cy="54.0" r="2.25"/><circle cx="473.0" cy="54.0" r="2.25"/><circle cx="474.1" cy="54.0" r="2.25"/><circle cx="475.3" cy="54.0" r="2.25"/><circle cx="476.5" cy="53.9" r="2.25"/><circle cx="477.6" cy="53.9" r="2.25"/><circle cx="478.7" cy="53.9" r="2.25"/><circle cx="479.9" cy="53.9" r="2.25"/><circle cx="481.0" cy="53.8" r="2.25"/><circle cx="482.1" cy="53.8" r="2.25"/><circle cx="483.3" cy="53.8" r="2.25"/><circle cx="484.4" cy="53.8" r="2.25"/><circle cx="485.5" cy="53.7" r="2.25"/><circle cx="486.6" cy="53.7" r="2.25"/><circle cx="487.7" cy="53.7" r="2.25"/><circle cx="488.7" cy="53.7" r="2.25"/><circle cx="489.8" cy="53.7" r="2.25"/><circle cx="490.9" cy="53.7" r="2.25"/><circle cx="492.0" cy="53.7" r="2.25"/><circle cx="493.0" cy="53.8" r="2.25"/><circle cx="494.1" cy="53.8" r="2.25"/><circle cx="495.1" cy="53.8" r="2.25"/><circle cx="496.2" cy="53.9" r="2.25"/><circle cx="497.2" cy="53.9" r="2.25"/><circle cx="498.2" cy="54.0" r="2.25"/><circle cx="499.3" cy="54.0" r="2.25"/><circle cx="500.3" cy="54.0" r="2.25"/><circle cx="501.3" cy="54.1" r="2.25"/><circle cx="502.3" cy="54.1" r="2.25"/><circle cx="503.3" cy="54.1" r="2.25"/><circle cx="504.3" cy="54.1" r="2.25"/><circle cx="505.3" cy="54.1" r="2.25"/><circle cx="506.3" cy="54.1" r="2.25"/><circle cx="507.3" cy="54.0" r="2.25"/><circle cx="508.3" cy="54.0" r="2.25"/><circle cx="509.3" cy="54.0" r="2.25"/><circle cx="510.2" cy="54.0" r="2.25"/><circle cx="511.2" cy="53.9" r="2.25"/><circle cx="512.2" cy="53.9" r="2.25"/><circle cx="513.1" cy="53.8" r="2.25"/><circle cx="514.1" cy="53.8" r="2.25"/><circle cx="515.0" cy="53.7" r="2.25"/><circle cx="516.0" cy="53.7" r="2.25"/><circle cx="516.9" cy="53.7" r="2.25"/><circle cx="517.8" cy="53.6" r="2.25"/><circle cx="518.8" cy="53.6" r="2.25"/><circle cx="519.7" cy="53.5" r="2.25"/><circle cx="520.6" cy="53.5" r="2.25"/><circle cx="521.5" cy="53.4" r="2.25"/><circle cx="522.4" cy="53.4" r="2.25"/><circle cx="523.3" cy="53.3" r="2.25"/><circle cx="524.2" cy="53.3" r="2.25"/><circle cx="525.1" cy="53.2" r="2.25"/><circle cx="526.0" cy="53.1" r="2.25"/><circle cx="526.9" cy="53.1" r="2.25"/><circle cx="527.8" cy="53.0" r="2.25"/><circle cx="528.7" cy="53.0" r="2.25"/><circle cx="529.6" cy="52.9" r="2.25"/><circle cx="530.4" cy="52.8" r="2.25"/><circle cx="531.3" cy="52.8" r="2.25"/><circle cx="532.2" cy="52.7" r="2.25"/><circle cx="533.0" cy="52.6" r="2.25"/><circle cx="533.9" cy="52.6" r="2.25"/><circle cx="534.8" cy="52.5" r="2.25"/><circle cx="535.6" cy="52.4" r="2.25"/><circle cx="536.4" cy="52.3" r="2.25"/><circle cx="537.3" cy="52.3" r="2.25"/><circle cx="538.1" cy="52.2" r="2.25"/><circle cx="539.0" cy="52.1" r="2.25"/><circle cx="539.8" cy="52.0" r="2.25"/><circle cx="540.6" cy="51.9" r="2.25"/><circle cx="541.5" cy="51.8" r="2.25"/><circle cx="542.3" cy="51.8" r="2.25"/><circle cx="543.1" cy="51.7" r="2.25"/><circle cx="543.9" cy="51.6" r="2.25"/><circle cx="544.7" cy="51.4" r="2.25"/><circle cx="545.5" cy="51.3" r="2.25"/><circle cx="546.3" cy="51.2" r="2.25"/><circle cx="547.1" cy="51.1" r="2.25"/><circle cx="547.9" cy="51.0" r="2.25"/><circle cx="548.7" cy="50.9" r="2.25"/><circle cx="549.5" cy="50.8" r="2.25"/><circle cx="550.3" cy="50.6" r="2.25"/><circle cx="551.1" cy="50.5" r="2.25"/><circle cx="551.9" cy="50.4" r="2.25"/><circle cx="552.7" cy="50.3" r="2.25"/><circle cx="553.4" cy="50.2" r="2.25"/><circle cx="554.2" cy="50.1" r="2.25"/><circle cx="555.0" cy="50.0" r="2.25"/><circle cx="555.7" cy="49.9" r="2.25"/><circle cx="556.5" cy="49.8" r="2.25"/><circle cx="557.3" cy="49.7" r="2.25"/><circle cx="558.0" cy="49.6" r="2.25"/><circle cx="558.8" cy="49.6" r="2.25"/><circle cx="559.5" cy="49.5" r="2.25"/><circle cx="560.3" cy="49.4" r="2.25"/><circle cx="561.0" cy="49.3" r="2.25"/><circle cx="561.8" cy="49.2" r="2.25"/><circle cx="562.5" cy="49.1" r="2.25"/><circle cx="563.2" cy="49.0" r="2.25"/><circle cx="564.0" cy="49.0" r="2.25"/><circle cx="564.7" cy="48.9" r="2.25"/><circle cx="565.4" cy="48.8" r="2.25"/><circle cx="566.2" cy="48.7" r="2.25"/><circle cx="566.9" cy="48.6" r="2.25"/><circle cx="567.6" cy="48.5" r="2.25"/><circle cx="568.3" cy="48.5" r="2.25"/><circle cx="569.0" cy="48.4" r="2.25"/><circle cx="569.7" cy="48.3" r="2.25"/><circle cx="570.5" cy="48.3" r="2.25"/><circle cx="571.2" cy="48.2" r="2.25"/><circle cx="571.9" cy="48.2" r="2.25"/><circle cx="572.6" cy="48.1" r="2.25"/><circle cx="573.3" cy="48.1" r="2.25"/><circle cx="574.0" cy="48.1" r="2.25"/><circle cx="574.7" cy="48.0" r="2.25"/><circle cx="575.3" cy="48.0" r="2.25"/><circle cx="576.0" cy="48.0" r="2.25"/><circle cx="576.7" cy="48.0" r="2.25"/><circle cx="577.4" cy="48.0" r="2.25"/><circle cx="578.1" cy="48.0" r="2.25"/><circle cx="578.8" cy="48.0" r="2.25"/><circle cx="579.4" cy="48.0" r="2.25"/><circle cx="580.1" cy="48.0" r="2.25"/><circle cx="580.8" cy="48.0" r="2.25"/><circle cx="581.5" cy="48.0" r="2.25"/><circle cx="582.1" cy="48.0" r="2.25"/><circle cx="582.8" cy="48.0" r="2.25"/><circle cx="583.5" cy="48.0" r="2.25"/><circle cx="584.1" cy="48.0" r="2.25"/><circle cx="584.8" cy="48.1" r="2.25"/><circle cx="585.4" cy="48.1" r="2.25"/><circle cx="586.1" cy="48.1" r="2.25"/><circle cx="586.7" cy="48.1" r="2.25"/><circle cx="587.4" cy="48.1" r="2.25"/><circle cx="588.0" cy="48.1" r="2.25"/><circle cx="588.7" cy="48.2" r="2.25"/><circle cx="589.3" cy="48.2" r="2.25"/></g>
<polyline points="85.87,49.90 102.63,49.30 118.06,47.93 132.34,45.94 145.63,44.64 158.07,43.33 169.75,41.93 180.76,40.92 191.18,39.94 201.07,39.34 210.47,38.64 219.43,37.94 228.00,37.32 236.20,36.64 244.07,36.17 251.62,35.47 258.90,34.59 265.90,33.64 272.67,32.86 279.20,32.33 285.52,31.89 291.64,31.52 297.56,31.15 303.32,30.80 308.90,30.47 314.33,30.16 319.61,29.83 324.75,29.46 329.76,29.07 334.63,28.69 339.39,28.35 344.04,28.06 348.57,27.82 353.00,27.62 357.33,27.42 361.57,27.24 365.71,27.05 369.77,26.85 373.74,26.65 377.63,26.45 381.45,26.25 385.19,26.05 388.86,25.86 392.46,25.67 396.00,25.46 399.47,25.25 402.88,25.04 406.23,24.85 409.53,24.67 412.77,24.53 415.95,24.42 419.08,24.34 422.17,24.26 425.20,24.19 428.19,24.13 431.13,24.08 434.03,24.04 436.88,24.01 439.70,24.00 442.47,24.01 445.20,24.04 447.90,24.09 450.56,24.14 453.18,24.21 455.76,24.28 458.32,24.35 460.84,24.42 463.32,24.51 465.78,24.60 468.20,24.71 470.59,24.82 472.96,24.94 475.29,25.06 477.60,25.18 479.88,25.29 482.14,25.41 484.36,25.52 486.57,25.64 488.74,25.76 490.90,25.88 493.03,26.00 495.13,26.12 497.22,26.24 499.28,26.36 501.32,26.48 503.33,26.60 505.33,26.73 507.31,26.86 509.26,27.00 511.20,27.14 513.12,27.27 515.02,27.40 516.90,27.53 518.76,27.64 520.60,27.74 522.43,27.84 524.24,27.92 526.03,28.01 527.81,28.09 529.57,28.17 531.31,28.24 533.04,28.31 534.75,28.37 536.45,28.42 538.13,28.46 539.80,28.50 541.45,28.52 543.09,28.54 544.72,28.56 546.33,28.58 547.93,28.59 549.52,28.61 551.09,28.62 552.65,28.63 554.20,28.65 555.73,28.67 557.26,28.68 558.77,28.71 560.27,28.73 561.76,28.76 563.23,28.80 564.70,28.83 566.15,28.87 567.60,28.91 569.03,28.95 570.45,28.99 571.86,29.04 573.26,29.08 574.66,29.13 576.04,29.18 577.41,29.23 578.77,29.28 580.12,29.33 581.47,29.39 582.80,29.45 584.12,29.52 585.44,29.58 586.75,29.65 588.04,29.72 589.33,29.79" fill="none" stroke="#222" stroke-width="0.9" opacity="1"/>
<g fill="#000000"><circle cx="85.9" cy="49.9" r="2.95"/><circle cx="102.6" cy="49.3" r="2.95"/><circle cx="118.1" cy="47.9" r="2.95"/><circle cx="132.3" cy="45.9" r="2.95"/><circle cx="145.6" cy="44.6" r="2.95"/><circle cx="158.1" cy="43.3" r="2.95"/><circle cx="169.8" cy="41.9" r="2.95"/><circle cx="180.8" cy="40.9" r="2.95"/><circle cx="191.2" cy="39.9" r="2.95"/><circle cx="201.1" cy="39.3" r="2.95"/><circle cx="210.5" cy="38.6" r="2.95"/><circle cx="219.4" cy="37.9" r="2.95"/><circle cx="228.0" cy="37.3" r="2.95"/><circle cx="236.2" cy="36.6" r="2.95"/><circle cx="244.1" cy="36.2" r="2.95"/><circle cx="251.6" cy="35.5" r="2.95"/><circle cx="258.9" cy="34.6" r="2.95"/><circle cx="265.9" cy="33.6" r="2.95"/><circle cx="272.7" cy="32.9" r="2.95"/><circle cx="279.2" cy="32.3" r="2.95"/><circle cx="285.5" cy="31.9" r="2.95"/><circle cx="291.6" cy="31.5" r="2.95"/><circle cx="297.6" cy="31.1" r="2.95"/><circle cx="303.3" cy="30.8" r="2.95"/><circle cx="308.9" cy="30.5" r="2.95"/><circle cx="314.3" cy="30.2" r="2.95"/><circle cx="319.6" cy="29.8" r="2.95"/><circle cx="324.7" cy="29.5" r="2.95"/><circle cx="329.8" cy="29.1" r="2.95"/><circle cx="334.6" cy="28.7" r="2.95"/><circle cx="339.4" cy="28.3" r="2.95"/><circle cx="344.0" cy="28.1" r="2.95"/><circle cx="348.6" cy="27.8" r="2.95"/><circle cx="353.0" cy="27.6" r="2.95"/><circle cx="357.3" cy="27.4" r="2.95"/><circle cx="361.6" cy="27.2" r="2.95"/><circle cx="365.7" cy="27.0" r="2.95"/><circle cx="369.8" cy="26.8" r="2.95"/><circle cx="373.7" cy="26.6" r="2.95"/><circle cx="377.6" cy="26.4" r="2.95"/><circle cx="381.4" cy="26.2" r="2.95"/><circle cx="385.2" cy="26.1" r="2.95"/><circle cx="388.9" cy="25.9" r="2.95"/><circle cx="392.5" cy="25.7" r="2.95"/><circle cx="396.0" cy="25.5" r="2.95"/><circle cx="399.5" cy="25.2" r="2.95"/><circle cx="402.9" cy="25.0" r="2.95"/><circle cx="406.2" cy="24.8" r="2.95"/><circle cx="409.5" cy="24.7" r="2.95"/><circle cx="412.8" cy="24.5" r="2.95"/><circle cx="416.0" cy="24.4" r="2.95"/><circle cx="419.1" cy="24.3" r="2.95"/><circle cx="422.2" cy="24.3" r="2.95"/><circle cx="425.2" cy="24.2" r="2.95"/><circle cx="428.2" cy="24.1" r="2.95"/><circle cx="431.1" cy="24.1" r="2.95"/><circle cx="434.0" cy="24.0" r="2.95"/><circle cx="436.9" cy="24.0" r="2.95"/><circle cx="439.7" cy="24.0" r="2.95"/><circle cx="442.5" cy="24.0" r="2.95"/><circle cx="445.2" cy="24.0" r="2.95"/><circle cx="447.9" cy="24.1" r="2.95"/><circle cx="450.6" cy="24.1" r="2.95"/><circle cx="453.2" cy="24.2" r="2.95"/><circle cx="455.8" cy="24.3" r="2.95"/><circle cx="458.3" cy="24.4" r="2.95"/><circle cx="460.8" cy="24.4" r="2.95"/><circle cx="463.3" cy="24.5" r="2.95"/><circle cx="465.8" cy="24.6" r="2.95"/><circle cx="468.2" cy="24.7" r="2.95"/><circle cx="470.6" cy="24.8" r="2.95"/><circle cx="473.0" cy="24.9" r="2.95"/><circle cx="475.3" cy="25.1" r="2.95"/><circle cx="477.6" cy="25.2" r="2.95"/><circle cx="479.9" cy="25.3" r="2.95"/><circle cx="482.1" cy="25.4" r="2.95"/><circle cx="484.4" cy="25.5" r="2.95"/><circle cx="486.6" cy="25.6" r="2.95"/><circle cx="488.7" cy="25.8" r="2.95"/><circle cx="490.9" cy="25.9" r="2.95"/><circle cx="493.0" cy="26.0" r="2.95"/><circle cx="495.1" cy="26.1" r="2.95"/><circle cx="497.2" cy="26.2" r="2.95"/><circle cx="499.3" cy="26.4" r="2.95"/><circle cx="501.3" cy="26.5" r="2.95"/><circle cx="503.3" cy="26.6" r="2.95"/><circle cx="505.3" cy="26.7" r="2.95"/><circle cx="507.3" cy="26.9" r="2.95"/><circle cx="509.3" cy="27.0" r="2.95"/><circle cx="511.2" cy="27.1" r="2.95"/><circle cx="513.1" cy="27.3" r="2.95"/><circle cx="515.0" cy="27.4" r="2.95"/><circle cx="516.9" cy="27.5" r="2.95"/><circle cx="518.8" cy="27.6" r="2.95"/><circle cx="520.6" cy="27.7" r="2.95"/><circle cx="522.4" cy="27.8" r="2.95"/><circle cx="524.2" cy="27.9" r="2.95"/><circle cx="526.0" cy="28.0" r="2.95"/><circle cx="527.8" cy="28.1" r="2.95"/><circle cx="529.6" cy="28.2" r="2.95"/><circle cx="531.3" cy="28.2" r="2.95"/><circle cx="533.0" cy="28.3" r="2.95"/><circle cx="534.8" cy="28.4" r="2.95"/><circle cx="536.4" cy="28.4" r="2.95"/><circle cx="538.1" cy="28.5" r="2.95"/><circle cx="539.8" cy="28.5" r="2.95"/><circle cx="541.5" cy="28.5" r="2.95"/><circle cx="543.1" cy="28.5" r="2.95"/><circle cx="544.7" cy="28.6" r="2.95"/><circle cx="546.3" cy="28.6" r="2.95"/><circle cx="547.9" cy="28.6" r="2.95"/><circle cx="549.5" cy="28.6" r="2.95"/><circle cx="551.1" cy="28.6" r="2.95"/><circle cx="552.7" cy="28.6" r="2.95"/><circle cx="554.2" cy="28.6" r="2.95"/><circle cx="555.7" cy="28.7" r="2.95"/><circle cx="557.3" cy="28.7" r="2.95"/><circle cx="558.8" cy="28.7" r="2.95"/><circle cx="560.3" cy="28.7" r="2.95"/><circle cx="561.8" cy="28.8" r="2.95"/><circle cx="563.2" cy="28.8" r="2.95"/><circle cx="564.7" cy="28.8" r="2.95"/><circle cx="566.2" cy="28.9" r="2.95"/><circle cx="567.6" cy="28.9" r="2.95"/><circle cx="569.0" cy="28.9" r="2.95"/><circle cx="570.5" cy="29.0" r="2.95"/><circle cx="571.9" cy="29.0" r="2.95"/><circle cx="573.3" cy="29.1" r="2.95"/><circle cx="574.7" cy="29.1" r="2.95"/><circle cx="576.0" cy="29.2" r="2.95"/><circle cx="577.4" cy="29.2" r="2.95"/><circle cx="578.8" cy="29.3" r="2.95"/><circle cx="580.1" cy="29.3" r="2.95"/><circle cx="581.5" cy="29.4" r="2.95"/><circle cx="582.8" cy="29.5" r="2.95"/><circle cx="584.1" cy="29.5" r="2.95"/><circle cx="585.4" cy="29.6" r="2.95"/><circle cx="586.7" cy="29.7" r="2.95"/><circle cx="588.0" cy="29.7" r="2.95"/><circle cx="589.3" cy="29.8" r="2.95"/></g>
<polyline points="85.87,265.00 102.63,265.00 118.06,265.00 132.34,265.00 145.63,265.00 158.07,265.00 169.75,265.00 180.76,265.00 191.18,265.00 201.07,265.00 210.47,265.00 219.43,265.00 228.00,265.00 236.20,265.00 244.07,265.00 251.62,265.00 258.90,265.00 265.90,265.00 272.67,265.00 279.20,265.00 285.52,265.00 291.64,265.00 297.56,265.00 303.32,265.00 308.90,265.00 314.33,265.00 319.61,265.00 324.75,265.00 329.76,265.00 334.63,265.00 339.39,265.00 344.04,265.00 348.57,265.00 353.00,265.00 357.33,265.00 361.57,265.00 365.71,265.00 369.77,265.00 373.74,265.00 377.63,265.00 381.45,265.00 385.19,265.00 388.86,265.00 392.46,265.00 396.00,265.00 399.47,265.00 402.88,265.00 406.23,265.00 409.53,265.00 412.77,265.00 415.95,265.00 419.08,265.00 422.17,265.00 425.20,265.00 428.19,265.00 431.13,265.00 434.03,265.00 436.88,265.00 439.70,265.00 442.47,265.00 445.20,265.00 447.90,265.00 450.56,265.00 453.18,265.00 455.76,265.00 458.32,265.00 460.84,265.00 463.32,265.00 465.78,265.00 468.20,265.00 470.59,265.00 472.96,265.00 475.29,265.00 477.60,265.00 479.88,265.00 482.14,265.00 484.36,265.00 486.57,265.00 488.74,265.00 490.90,265.00 493.03,265.00 495.13,265.00 497.22,265.00 499.28,265.00 501.32,265.00 503.33,265.00 505.33,265.00 507.31,265.00 509.26,265.00 511.20,265.00 513.12,265.00 515.02,265.00 516.90,265.00 518.76,265.00 520.60,265.00 522.43,265.00 524.24,265.00 526.03,265.00 527.81,265.00 529.57,265.00 531.31,265.00 533.04,265.00 534.75,265.00 536.45,265.00 538.13,265.00 539.80,265.00 541.45,265.00 543.09,265.00 544.72,265.00 546.33,265.00 547.93,265.00 549.52,265.00 551.09,265.00 552.65,265.00 554.20,265.00 555.73,265.00 557.26,265.00 558.77,265.00 560.27,265.00 561.76,265.00 563.23,265.00 564.70,265.00 566.15,265.00 567.60,265.00 569.03,265.00 570.45,265.00 571.86,265.00 573.26,265.00 574.66,265.00 576.04,265.00 577.41,265.00 578.77,265.00 580.12,265.00 581.47,265.00 582.80,265.00 584.12,265.00 585.44,265.00 586.75,265.00 588.04,265.00 589.33,265.00" fill="none" stroke="#4466dd" stroke-width="0.8" opacity="1" stroke-dasharray="1,1.2"/>
<g fill="#fff" stroke="#4a6ad8" stroke-width="0.8"><circle cx="85.9" cy="265.0" r="2.5"/><circle cx="102.6" cy="265.0" r="2.5"/><circle cx="118.1" cy="265.0" r="2.5"/><circle cx="132.3" cy="265.0" r="2.5"/><circle cx="145.6" cy="265.0" r="2.5"/><circle cx="158.1" cy="265.0" r="2.5"/><circle cx="169.8" cy="265.0" r="2.5"/><circle cx="180.8" cy="265.0" r="2.5"/><circle cx="191.2" cy="265.0" r="2.5"/><circle cx="201.1" cy="265.0" r="2.5"/><circle cx="210.5" cy="265.0" r="2.5"/><circle cx="219.4" cy="265.0" r="2.5"/><circle cx="228.0" cy="265.0" r="2.5"/><circle cx="236.2" cy="265.0" r="2.5"/><circle cx="244.1" cy="265.0" r="2.5"/><circle cx="251.6" cy="265.0" r="2.5"/><circle cx="258.9" cy="265.0" r="2.5"/><circle cx="265.9" cy="265.0" r="2.5"/><circle cx="272.7" cy="265.0" r="2.5"/><circle cx="279.2" cy="265.0" r="2.5"/><circle cx="285.5" cy="265.0" r="2.5"/><circle cx="291.6" cy="265.0" r="2.5"/><circle cx="297.6" cy="265.0" r="2.5"/><circle cx="303.3" cy="265.0" r="2.5"/><circle cx="308.9" cy="265.0" r="2.5"/><circle cx="314.3" cy="265.0" r="2.5"/><circle cx="319.6" cy="265.0" r="2.5"/><circle cx="324.7" cy="265.0" r="2.5"/><circle cx="329.8" cy="265.0" r="2.5"/><circle cx="334.6" cy="265.0" r="2.5"/><circle cx="339.4" cy="265.0" r="2.5"/><circle cx="344.0" cy="265.0" r="2.5"/><circle cx="348.6" cy="265.0" r="2.5"/><circle cx="353.0" cy="265.0" r="2.5"/><circle cx="357.3" cy="265.0" r="2.5"/><circle cx="361.6" cy="265.0" r="2.5"/><circle cx="365.7" cy="265.0" r="2.5"/><circle cx="369.8" cy="265.0" r="2.5"/><circle cx="373.7" cy="265.0" r="2.5"/><circle cx="377.6" cy="265.0" r="2.5"/><circle cx="381.4" cy="265.0" r="2.5"/><circle cx="385.2" cy="265.0" r="2.5"/><circle cx="388.9" cy="265.0" r="2.5"/><circle cx="392.5" cy="265.0" r="2.5"/><circle cx="396.0" cy="265.0" r="2.5"/><circle cx="399.5" cy="265.0" r="2.5"/><circle cx="402.9" cy="265.0" r="2.5"/><circle cx="406.2" cy="265.0" r="2.5"/><circle cx="409.5" cy="265.0" r="2.5"/><circle cx="412.8" cy="265.0" r="2.5"/><circle cx="416.0" cy="265.0" r="2.5"/><circle cx="419.1" cy="265.0" r="2.5"/><circle cx="422.2" cy="265.0" r="2.5"/><circle cx="425.2" cy="265.0" r="2.5"/><circle cx="428.2" cy="265.0" r="2.5"/><circle cx="431.1" cy="265.0" r="2.5"/><circle cx="434.0" cy="265.0" r="2.5"/><circle cx="436.9" cy="265.0" r="2.5"/><circle cx="439.7" cy="265.0" r="2.5"/><circle cx="442.5" cy="265.0" r="2.5"/><circle cx="445.2" cy="265.0" r="2.5"/><circle cx="447.9" cy="265.0" r="2.5"/><circle cx="450.6" cy="265.0" r="2.5"/><circle cx="453.2" cy="265.0" r="2.5"/><circle cx="455.8" cy="265.0" r="2.5"/><circle cx="458.3" cy="265.0" r="2.5"/><circle cx="460.8" cy="265.0" r="2.5"/><circle cx="463.3" cy="265.0" r="2.5"/><circle cx="465.8" cy="265.0" r="2.5"/><circle cx="468.2" cy="265.0" r="2.5"/><circle cx="470.6" cy="265.0" r="2.5"/><circle cx="473.0" cy="265.0" r="2.5"/><circle cx="475.3" cy="265.0" r="2.5"/><circle cx="477.6" cy="265.0" r="2.5"/><circle cx="479.9" cy="265.0" r="2.5"/><circle cx="482.1" cy="265.0" r="2.5"/><circle cx="484.4" cy="265.0" r="2.5"/><circle cx="486.6" cy="265.0" r="2.5"/><circle cx="488.7" cy="265.0" r="2.5"/><circle cx="490.9" cy="265.0" r="2.5"/><circle cx="493.0" cy="265.0" r="2.5"/><circle cx="495.1" cy="265.0" r="2.5"/><circle cx="497.2" cy="265.0" r="2.5"/><circle cx="499.3" cy="265.0" r="2.5"/><circle cx="501.3" cy="265.0" r="2.5"/><circle cx="503.3" cy="265.0" r="2.5"/><circle cx="505.3" cy="265.0" r="2.5"/><circle cx="507.3" cy="265.0" r="2.5"/><circle cx="509.3" cy="265.0" r="2.5"/><circle cx="511.2" cy="265.0" r="2.5"/><circle cx="513.1" cy="265.0" r="2.5"/><circle cx="515.0" cy="265.0" r="2.5"/><circle cx="516.9" cy="265.0" r="2.5"/><circle cx="518.8" cy="265.0" r="2.5"/><circle cx="520.6" cy="265.0" r="2.5"/><circle cx="522.4" cy="265.0" r="2.5"/><circle cx="524.2" cy="265.0" r="2.5"/><circle cx="526.0" cy="265.0" r="2.5"/><circle cx="527.8" cy="265.0" r="2.5"/><circle cx="529.6" cy="265.0" r="2.5"/><circle cx="531.3" cy="265.0" r="2.5"/><circle cx="533.0" cy="265.0" r="2.5"/><circle cx="534.8" cy="265.0" r="2.5"/><circle cx="536.4" cy="265.0" r="2.5"/><circle cx="538.1" cy="265.0" r="2.5"/><circle cx="539.8" cy="265.0" r="2.5"/><circle cx="541.5" cy="265.0" r="2.5"/><circle cx="543.1" cy="265.0" r="2.5"/><circle cx="544.7" cy="265.0" r="2.5"/><circle cx="546.3" cy="265.0" r="2.5"/><circle cx="547.9" cy="265.0" r="2.5"/><circle cx="549.5" cy="265.0" r="2.5"/><circle cx="551.1" cy="265.0" r="2.5"/><circle cx="552.7" cy="265.0" r="2.5"/><circle cx="554.2" cy="265.0" r="2.5"/><circle cx="555.7" cy="265.0" r="2.5"/><circle cx="557.3" cy="265.0" r="2.5"/><circle cx="558.8" cy="265.0" r="2.5"/><circle cx="560.3" cy="265.0" r="2.5"/><circle cx="561.8" cy="265.0" r="2.5"/><circle cx="563.2" cy="265.0" r="2.5"/><circle cx="564.7" cy="265.0" r="2.5"/><circle cx="566.2" cy="265.0" r="2.5"/><circle cx="567.6" cy="265.0" r="2.5"/><circle cx="569.0" cy="265.0" r="2.5"/><circle cx="570.5" cy="265.0" r="2.5"/><circle cx="571.9" cy="265.0" r="2.5"/><circle cx="573.3" cy="265.0" r="2.5"/><circle cx="574.7" cy="265.0" r="2.5"/><circle cx="576.0" cy="265.0" r="2.5"/><circle cx="577.4" cy="265.0" r="2.5"/><circle cx="578.8" cy="265.0" r="2.5"/><circle cx="580.1" cy="265.0" r="2.5"/><circle cx="581.5" cy="265.0" r="2.5"/><circle cx="582.8" cy="265.0" r="2.5"/><circle cx="584.1" cy="265.0" r="2.5"/><circle cx="585.4" cy="265.0" r="2.5"/><circle cx="586.7" cy="265.0" r="2.5"/><circle cx="588.0" cy="265.0" r="2.5"/><circle cx="589.3" cy="265.0" r="2.5"/></g>
<g fill="#6a86e0"><circle cx="85.9" cy="265.0" r="0.5"/><circle cx="102.6" cy="265.0" r="0.5"/><circle cx="118.1" cy="265.0" r="0.5"/><circle cx="132.3" cy="265.0" r="0.5"/><circle cx="145.6" cy="265.0" r="0.5"/><circle cx="158.1" cy="265.0" r="0.5"/><circle cx="169.8" cy="265.0" r="0.5"/><circle cx="180.8" cy="265.0" r="0.5"/><circle cx="191.2" cy="265.0" r="0.5"/><circle cx="201.1" cy="265.0" r="0.5"/><circle cx="210.5" cy="265.0" r="0.5"/><circle cx="219.4" cy="265.0" r="0.5"/><circle cx="228.0" cy="265.0" r="0.5"/><circle cx="236.2" cy="265.0" r="0.5"/><circle cx="244.1" cy="265.0" r="0.5"/><circle cx="251.6" cy="265.0" r="0.5"/><circle cx="258.9" cy="265.0" r="0.5"/><circle cx="265.9" cy="265.0" r="0.5"/><circle cx="272.7" cy="265.0" r="0.5"/><circle cx="279.2" cy="265.0" r="0.5"/><circle cx="285.5" cy="265.0" r="0.5"/><circle cx="291.6" cy="265.0" r="0.5"/><circle cx="297.6" cy="265.0" r="0.5"/><circle cx="303.3" cy="265.0" r="0.5"/><circle cx="308.9" cy="265.0" r="0.5"/><circle cx="314.3" cy="265.0" r="0.5"/><circle cx="319.6" cy="265.0" r="0.5"/><circle cx="324.7" cy="265.0" r="0.5"/><circle cx="329.8" cy="265.0" r="0.5"/><circle cx="334.6" cy="265.0" r="0.5"/><circle cx="339.4" cy="265.0" r="0.5"/><circle cx="344.0" cy="265.0" r="0.5"/><circle cx="348.6" cy="265.0" r="0.5"/><circle cx="353.0" cy="265.0" r="0.5"/><circle cx="357.3" cy="265.0" r="0.5"/><circle cx="361.6" cy="265.0" r="0.5"/><circle cx="365.7" cy="265.0" r="0.5"/><circle cx="369.8" cy="265.0" r="0.5"/><circle cx="373.7" cy="265.0" r="0.5"/><circle cx="377.6" cy="265.0" r="0.5"/><circle cx="381.4" cy="265.0" r="0.5"/><circle cx="385.2" cy="265.0" r="0.5"/><circle cx="388.9" cy="265.0" r="0.5"/><circle cx="392.5" cy="265.0" r="0.5"/><circle cx="396.0" cy="265.0" r="0.5"/><circle cx="399.5" cy="265.0" r="0.5"/><circle cx="402.9" cy="265.0" r="0.5"/><circle cx="406.2" cy="265.0" r="0.5"/><circle cx="409.5" cy="265.0" r="0.5"/><circle cx="412.8" cy="265.0" r="0.5"/><circle cx="416.0" cy="265.0" r="0.5"/><circle cx="419.1" cy="265.0" r="0.5"/><circle cx="422.2" cy="265.0" r="0.5"/><circle cx="425.2" cy="265.0" r="0.5"/><circle cx="428.2" cy="265.0" r="0.5"/><circle cx="431.1" cy="265.0" r="0.5"/><circle cx="434.0" cy="265.0" r="0.5"/><circle cx="436.9" cy="265.0" r="0.5"/><circle cx="439.7" cy="265.0" r="0.5"/><circle cx="442.5" cy="265.0" r="0.5"/><circle cx="445.2" cy="265.0" r="0.5"/><circle cx="447.9" cy="265.0" r="0.5"/><circle cx="450.6" cy="265.0" r="0.5"/><circle cx="453.2" cy="265.0" r="0.5"/><circle cx="455.8" cy="265.0" r="0.5"/><circle cx="458.3" cy="265.0" r="0.5"/><circle cx="460.8" cy="265.0" r="0.5"/><circle cx="463.3" cy="265.0" r="0.5"/><circle cx="465.8" cy="265.0" r="0.5"/><circle cx="468.2" cy="265.0" r="0.5"/><circle cx="470.6" cy="265.0" r="0.5"/><circle cx="473.0" cy="265.0" r="0.5"/><circle cx="475.3" cy="265.0" r="0.5"/><circle cx="477.6" cy="265.0" r="0.5"/><circle cx="479.9" cy="265.0" r="0.5"/><circle cx="482.1" cy="265.0" r="0.5"/><circle cx="484.4" cy="265.0" r="0.5"/><circle cx="486.6" cy="265.0" r="0.5"/><circle cx="488.7" cy="265.0" r="0.5"/><circle cx="490.9" cy="265.0" r="0.5"/><circle cx="493.0" cy="265.0" r="0.5"/><circle cx="495.1" cy="265.0" r="0.5"/><circle cx="497.2" cy="265.0" r="0.5"/><circle cx="499.3" cy="265.0" r="0.5"/><circle cx="501.3" cy="265.0" r="0.5"/><circle cx="503.3" cy="265.0" r="0.5"/><circle cx="505.3" cy="265.0" r="0.5"/><circle cx="507.3" cy="265.0" r="0.5"/><circle cx="509.3" cy="265.0" r="0.5"/><circle cx="511.2" cy="265.0" r="0.5"/><circle cx="513.1" cy="265.0" r="0.5"/><circle cx="515.0" cy="265.0" r="0.5"/><circle cx="516.9" cy="265.0" r="0.5"/><circle cx="518.8" cy="265.0" r="0.5"/><circle cx="520.6" cy="265.0" r="0.5"/><circle cx="522.4" cy="265.0" r="0.5"/><circle cx="524.2" cy="265.0" r="0.5"/><circle cx="526.0" cy="265.0" r="0.5"/><circle cx="527.8" cy="265.0" r="0.5"/><circle cx="529.6" cy="265.0" r="0.5"/><circle cx="531.3" cy="265.0" r="0.5"/><circle cx="533.0" cy="265.0" r="0.5"/><circle cx="534.8" cy="265.0" r="0.5"/><circle cx="536.4" cy="265.0" r="0.5"/><circle cx="538.1" cy="265.0" r="0.5"/><circle cx="539.8" cy="265.0" r="0.5"/><circle cx="541.5" cy="265.0" r="0.5"/><circle cx="543.1" cy="265.0" r="0.5"/><circle cx="544.7" cy="265.0" r="0.5"/><circle cx="546.3" cy="265.0" r="0.5"/><circle cx="547.9" cy="265.0" r="0.5"/><circle cx="549.5" cy="265.0" r="0.5"/><circle cx="551.1" cy="265.0" r="0.5"/><circle cx="552.7" cy="265.0" r="0.5"/><circle cx="554.2" cy="265.0" r="0.5"/><circle cx="555.7" cy="265.0" r="0.5"/><circle cx="557.3" cy="265.0" r="0.5"/><circle cx="558.8" cy="265.0" r="0.5"/><circle cx="560.3" cy="265.0" r="0.5"/><circle cx="561.8" cy="265.0" r="0.5"/><circle cx="563.2" cy="265.0" r="0.5"/><circle cx="564.7" cy="265.0" r="0.5"/><circle cx="566.2" cy="265.0" r="0.5"/><circle cx="567.6" cy="265.0" r="0.5"/><circle cx="569.0" cy="265.0" r="0.5"/><circle cx="570.5" cy="265.0" r="0.5"/><circle cx="571.9" cy="265.0" r="0.5"/><circle cx="573.3" cy="265.0" r="0.5"/><circle cx="574.7" cy="265.0" r="0.5"/><circle cx="576.0" cy="265.0" r="0.5"/><circle cx="577.4" cy="265.0" r="0.5"/><circle cx="578.8" cy="265.0" r="0.5"/><circle cx="580.1" cy="265.0" r="0.5"/><circle cx="581.5" cy="265.0" r="0.5"/><circle cx="582.8" cy="265.0" r="0.5"/><circle cx="584.1" cy="265.0" r="0.5"/><circle cx="585.4" cy="265.0" r="0.5"/><circle cx="586.7" cy="265.0" r="0.5"/><circle cx="588.0" cy="265.0" r="0.5"/><circle cx="589.3" cy="265.0" r="0.5"/></g>
<g fill="#fff" stroke="#e04545" stroke-width="0.8"><circle cx="76.9" cy="238.4" r="2.5"/><circle cx="85.9" cy="238.4" r="2.5"/><circle cx="94.4" cy="238.4" r="2.5"/><circle cx="102.6" cy="238.4" r="2.5"/><circle cx="110.5" cy="238.4" r="2.5"/><circle cx="118.1" cy="238.3" r="2.5"/><circle cx="125.3" cy="238.3" r="2.5"/><circle cx="132.3" cy="238.3" r="2.5"/><circle cx="139.1" cy="238.3" r="2.5"/><circle cx="145.6" cy="238.2" r="2.5"/><circle cx="152.0" cy="238.2" r="2.5"/><circle cx="158.1" cy="238.2" r="2.5"/><circle cx="164.0" cy="238.1" r="2.5"/><circle cx="169.8" cy="238.1" r="2.5"/><circle cx="175.3" cy="238.0" r="2.5"/><circle cx="180.8" cy="238.0" r="2.5"/><circle cx="186.0" cy="237.9" r="2.5"/><circle cx="191.2" cy="237.7" r="2.5"/><circle cx="196.2" cy="237.5" r="2.5"/><circle cx="201.1" cy="237.2" r="2.5"/><circle cx="205.8" cy="236.9" r="2.5"/><circle cx="210.5" cy="236.6" r="2.5"/><circle cx="215.0" cy="236.3" r="2.5"/><circle cx="219.4" cy="236.0" r="2.5"/><circle cx="223.8" cy="235.8" r="2.5"/><circle cx="228.0" cy="235.6" r="2.5"/><circle cx="232.1" cy="235.4" r="2.5"/><circle cx="236.2" cy="235.2" r="2.5"/><circle cx="240.2" cy="235.0" r="2.5"/><circle cx="244.1" cy="234.8" r="2.5"/><circle cx="247.9" cy="234.7" r="2.5"/><circle cx="251.6" cy="234.6" r="2.5"/><circle cx="255.3" cy="234.5" r="2.5"/><circle cx="258.9" cy="234.4" r="2.5"/><circle cx="262.4" cy="234.4" r="2.5"/><circle cx="265.9" cy="234.3" r="2.5"/><circle cx="269.3" cy="234.3" r="2.5"/><circle cx="272.7" cy="234.2" r="2.5"/><circle cx="276.0" cy="234.2" r="2.5"/><circle cx="279.2" cy="234.1" r="2.5"/><circle cx="282.4" cy="234.1" r="2.5"/><circle cx="285.5" cy="234.1" r="2.5"/><circle cx="288.6" cy="234.0" r="2.5"/><circle cx="291.6" cy="234.0" r="2.5"/><circle cx="294.6" cy="234.0" r="2.5"/><circle cx="297.6" cy="234.0" r="2.5"/><circle cx="300.5" cy="234.0" r="2.5"/><circle cx="303.3" cy="234.0" r="2.5"/><circle cx="306.1" cy="234.0" r="2.5"/><circle cx="308.9" cy="234.0" r="2.5"/></g>
<g fill="#e87070"><circle cx="76.9" cy="238.4" r="0.5"/><circle cx="85.9" cy="238.4" r="0.5"/><circle cx="94.4" cy="238.4" r="0.5"/><circle cx="102.6" cy="238.4" r="0.5"/><circle cx="110.5" cy="238.4" r="0.5"/><circle cx="118.1" cy="238.3" r="0.5"/><circle cx="125.3" cy="238.3" r="0.5"/><circle cx="132.3" cy="238.3" r="0.5"/><circle cx="139.1" cy="238.3" r="0.5"/><circle cx="145.6" cy="238.2" r="0.5"/><circle cx="152.0" cy="238.2" r="0.5"/><circle cx="158.1" cy="238.2" r="0.5"/><circle cx="164.0" cy="238.1" r="0.5"/><circle cx="169.8" cy="238.1" r="0.5"/><circle cx="175.3" cy="238.0" r="0.5"/><circle cx="180.8" cy="238.0" r="0.5"/><circle cx="186.0" cy="237.9" r="0.5"/><circle cx="191.2" cy="237.7" r="0.5"/><circle cx="196.2" cy="237.5" r="0.5"/><circle cx="201.1" cy="237.2" r="0.5"/><circle cx="205.8" cy="236.9" r="0.5"/><circle cx="210.5" cy="236.6" r="0.5"/><circle cx="215.0" cy="236.3" r="0.5"/><circle cx="219.4" cy="236.0" r="0.5"/><circle cx="223.8" cy="235.8" r="0.5"/><circle cx="228.0" cy="235.6" r="0.5"/><circle cx="232.1" cy="235.4" r="0.5"/><circle cx="236.2" cy="235.2" r="0.5"/><circle cx="240.2" cy="235.0" r="0.5"/><circle cx="244.1" cy="234.8" r="0.5"/><circle cx="247.9" cy="234.7" r="0.5"/><circle cx="251.6" cy="234.6" r="0.5"/><circle cx="255.3" cy="234.5" r="0.5"/><circle cx="258.9" cy="234.4" r="0.5"/><circle cx="262.4" cy="234.4" r="0.5"/><circle cx="265.9" cy="234.3" r="0.5"/><circle cx="269.3" cy="234.3" r="0.5"/><circle cx="272.7" cy="234.2" r="0.5"/><circle cx="276.0" cy="234.2" r="0.5"/><circle cx="279.2" cy="234.1" r="0.5"/><circle cx="282.4" cy="234.1" r="0.5"/><circle cx="285.5" cy="234.1" r="0.5"/><circle cx="288.6" cy="234.0" r="0.5"/><circle cx="291.6" cy="234.0" r="0.5"/><circle cx="294.6" cy="234.0" r="0.5"/><circle cx="297.6" cy="234.0" r="0.5"/><circle cx="300.5" cy="234.0" r="0.5"/><circle cx="303.3" cy="234.0" r="0.5"/><circle cx="306.1" cy="234.0" r="0.5"/><circle cx="308.9" cy="234.0" r="0.5"/></g>
<polyline points="85.87,150.39 102.63,151.39 118.06,151.66 132.34,151.81 145.63,151.99 158.07,152.31 169.75,152.68 180.76,152.99 191.18,153.22 201.07,153.40 210.47,153.57 219.43,153.77 228.00,154.00 236.20,154.32 244.07,154.72 251.62,155.15 258.90,155.57 265.90,155.97 272.67,156.36 279.20,156.76 285.52,157.16 291.64,157.57 297.56,158.01 303.32,158.46 308.90,158.91 314.33,159.34 319.61,159.74 324.75,160.15 329.76,160.58 334.63,161.05 339.39,161.55 344.04,162.04 348.57,162.48 353.00,162.84 357.33,163.17 361.57,163.47 365.71,163.74 369.77,163.99 373.74,164.24 377.63,164.50 381.45,164.73 385.19,164.91 388.86,164.99 392.46,165.00 396.00,165.00 399.47,165.00 402.88,165.00 406.23,165.00 409.53,165.00 412.77,165.00 415.95,165.01 419.08,165.03 422.17,165.05 425.20,165.08 428.19,165.11 431.13,165.14 434.03,165.18 436.88,165.22 439.70,165.27 442.47,165.31 445.20,165.36 447.90,165.40 450.56,165.45 453.18,165.50 455.76,165.55 458.32,165.60 460.84,165.65 463.32,165.69 465.78,165.74 468.20,165.79 470.59,165.83 472.96,165.88 475.29,165.92 477.60,165.96 479.88,166.00 482.14,166.04 484.36,166.07 486.57,166.11 488.74,166.15 490.90,166.19 493.03,166.23 495.13,166.27 497.22,166.31 499.28,166.35 501.32,166.39 503.33,166.43 505.33,166.47 507.31,166.51 509.26,166.55 511.20,166.59 513.12,166.62 515.02,166.66 516.90,166.70 518.76,166.74 520.60,166.78 522.43,166.82 524.24,166.86 526.03,166.90 527.81,166.93 529.57,166.97 531.31,167.01 533.04,167.05 534.75,167.08 536.45,167.12 538.13,167.16 539.80,167.20 541.45,167.23 543.09,167.27 544.72,167.30 546.33,167.34 547.93,167.38 549.52,167.41 551.09,167.45 552.65,167.49 554.20,167.52 555.73,167.56 557.26,167.59 558.77,167.63 560.27,167.67 561.76,167.70 563.23,167.74 564.70,167.77 566.15,167.81 567.60,167.84 569.03,167.88 570.45,167.91 571.86,167.95 573.26,167.98 574.66,168.02 576.04,168.05 577.41,168.09 578.77,168.12 580.12,168.16 581.47,168.19 582.80,168.23 584.12,168.26 585.44,168.29 586.75,168.33 588.04,168.36 589.33,168.40" fill="none" stroke="#3355dd" stroke-width="0.9" opacity="0.8"/>
<g fill="#0022b0"><circle cx="85.9" cy="150.4" r="2.95"/><circle cx="102.6" cy="151.4" r="2.95"/><circle cx="118.1" cy="151.7" r="2.95"/><circle cx="132.3" cy="151.8" r="2.95"/><circle cx="145.6" cy="152.0" r="2.95"/><circle cx="158.1" cy="152.3" r="2.95"/><circle cx="169.8" cy="152.7" r="2.95"/><circle cx="180.8" cy="153.0" r="2.95"/><circle cx="191.2" cy="153.2" r="2.95"/><circle cx="201.1" cy="153.4" r="2.95"/><circle cx="210.5" cy="153.6" r="2.95"/><circle cx="219.4" cy="153.8" r="2.95"/><circle cx="228.0" cy="154.0" r="2.95"/><circle cx="236.2" cy="154.3" r="2.95"/><circle cx="244.1" cy="154.7" r="2.95"/><circle cx="251.6" cy="155.2" r="2.95"/><circle cx="258.9" cy="155.6" r="2.95"/><circle cx="265.9" cy="156.0" r="2.95"/><circle cx="272.7" cy="156.4" r="2.95"/><circle cx="279.2" cy="156.8" r="2.95"/><circle cx="285.5" cy="157.2" r="2.95"/><circle cx="291.6" cy="157.6" r="2.95"/><circle cx="297.6" cy="158.0" r="2.95"/><circle cx="303.3" cy="158.5" r="2.95"/><circle cx="308.9" cy="158.9" r="2.95"/><circle cx="314.3" cy="159.3" r="2.95"/><circle cx="319.6" cy="159.7" r="2.95"/><circle cx="324.7" cy="160.2" r="2.95"/><circle cx="329.8" cy="160.6" r="2.95"/><circle cx="334.6" cy="161.0" r="2.95"/><circle cx="339.4" cy="161.6" r="2.95"/><circle cx="344.0" cy="162.0" r="2.95"/><circle cx="348.6" cy="162.5" r="2.95"/><circle cx="353.0" cy="162.8" r="2.95"/><circle cx="357.3" cy="163.2" r="2.95"/><circle cx="361.6" cy="163.5" r="2.95"/><circle cx="365.7" cy="163.7" r="2.95"/><circle cx="369.8" cy="164.0" r="2.95"/><circle cx="373.7" cy="164.2" r="2.95"/><circle cx="377.6" cy="164.5" r="2.95"/><circle cx="381.4" cy="164.7" r="2.95"/><circle cx="385.2" cy="164.9" r="2.95"/><circle cx="388.9" cy="165.0" r="2.95"/><circle cx="392.5" cy="165.0" r="2.95"/><circle cx="396.0" cy="165.0" r="2.95"/><circle cx="399.5" cy="165.0" r="2.95"/><circle cx="402.9" cy="165.0" r="2.95"/><circle cx="406.2" cy="165.0" r="2.95"/><circle cx="409.5" cy="165.0" r="2.95"/><circle cx="412.8" cy="165.0" r="2.95"/><circle cx="416.0" cy="165.0" r="2.95"/><circle cx="419.1" cy="165.0" r="2.95"/><circle cx="422.2" cy="165.1" r="2.95"/><circle cx="425.2" cy="165.1" r="2.95"/><circle cx="428.2" cy="165.1" r="2.95"/><circle cx="431.1" cy="165.1" r="2.95"/><circle cx="434.0" cy="165.2" r="2.95"/><circle cx="436.9" cy="165.2" r="2.95"/><circle cx="439.7" cy="165.3" r="2.95"/><circle cx="442.5" cy="165.3" r="2.95"/><circle cx="445.2" cy="165.4" r="2.95"/><circle cx="447.9" cy="165.4" r="2.95"/><circle cx="450.6" cy="165.5" r="2.95"/><circle cx="453.2" cy="165.5" r="2.95"/><circle cx="455.8" cy="165.6" r="2.95"/><circle cx="458.3" cy="165.6" r="2.95"/><circle cx="460.8" cy="165.6" r="2.95"/><circle cx="463.3" cy="165.7" r="2.95"/><circle cx="465.8" cy="165.7" r="2.95"/><circle cx="468.2" cy="165.8" r="2.95"/><circle cx="470.6" cy="165.8" r="2.95"/><circle cx="473.0" cy="165.9" r="2.95"/><circle cx="475.3" cy="165.9" r="2.95"/><circle cx="477.6" cy="166.0" r="2.95"/><circle cx="479.9" cy="166.0" r="2.95"/><circle cx="482.1" cy="166.0" r="2.95"/><circle cx="484.4" cy="166.1" r="2.95"/><circle cx="486.6" cy="166.1" r="2.95"/><circle cx="488.7" cy="166.2" r="2.95"/><circle cx="490.9" cy="166.2" r="2.95"/><circle cx="493.0" cy="166.2" r="2.95"/><circle cx="495.1" cy="166.3" r="2.95"/><circle cx="497.2" cy="166.3" r="2.95"/><circle cx="499.3" cy="166.3" r="2.95"/><circle cx="501.3" cy="166.4" r="2.95"/><circle cx="503.3" cy="166.4" r="2.95"/><circle cx="505.3" cy="166.5" r="2.95"/><circle cx="507.3" cy="166.5" r="2.95"/><circle cx="509.3" cy="166.5" r="2.95"/><circle cx="511.2" cy="166.6" r="2.95"/><circle cx="513.1" cy="166.6" r="2.95"/><circle cx="515.0" cy="166.7" r="2.95"/><circle cx="516.9" cy="166.7" r="2.95"/><circle cx="518.8" cy="166.7" r="2.95"/><circle cx="520.6" cy="166.8" r="2.95"/><circle cx="522.4" cy="166.8" r="2.95"/><circle cx="524.2" cy="166.9" r="2.95"/><circle cx="526.0" cy="166.9" r="2.95"/><circle cx="527.8" cy="166.9" r="2.95"/><circle cx="529.6" cy="167.0" r="2.95"/><circle cx="531.3" cy="167.0" r="2.95"/><circle cx="533.0" cy="167.0" r="2.95"/><circle cx="534.8" cy="167.1" r="2.95"/><circle cx="536.4" cy="167.1" r="2.95"/><circle cx="538.1" cy="167.2" r="2.95"/><circle cx="539.8" cy="167.2" r="2.95"/><circle cx="541.5" cy="167.2" r="2.95"/><circle cx="543.1" cy="167.3" r="2.95"/><circle cx="544.7" cy="167.3" r="2.95"/><circle cx="546.3" cy="167.3" r="2.95"/><circle cx="547.9" cy="167.4" r="2.95"/><circle cx="549.5" cy="167.4" r="2.95"/><circle cx="551.1" cy="167.5" r="2.95"/><circle cx="552.7" cy="167.5" r="2.95"/><circle cx="554.2" cy="167.5" r="2.95"/><circle cx="555.7" cy="167.6" r="2.95"/><circle cx="557.3" cy="167.6" r="2.95"/><circle cx="558.8" cy="167.6" r="2.95"/><circle cx="560.3" cy="167.7" r="2.95"/><circle cx="561.8" cy="167.7" r="2.95"/><circle cx="563.2" cy="167.7" r="2.95"/><circle cx="564.7" cy="167.8" r="2.95"/><circle cx="566.2" cy="167.8" r="2.95"/><circle cx="567.6" cy="167.8" r="2.95"/><circle cx="569.0" cy="167.9" r="2.95"/><circle cx="570.5" cy="167.9" r="2.95"/><circle cx="571.9" cy="167.9" r="2.95"/><circle cx="573.3" cy="168.0" r="2.95"/><circle cx="574.7" cy="168.0" r="2.95"/><circle cx="576.0" cy="168.1" r="2.95"/><circle cx="577.4" cy="168.1" r="2.95"/><circle cx="578.8" cy="168.1" r="2.95"/><circle cx="580.1" cy="168.2" r="2.95"/><circle cx="581.5" cy="168.2" r="2.95"/><circle cx="582.8" cy="168.2" r="2.95"/><circle cx="584.1" cy="168.3" r="2.95"/><circle cx="585.4" cy="168.3" r="2.95"/><circle cx="586.7" cy="168.3" r="2.95"/><circle cx="588.0" cy="168.4" r="2.95"/><circle cx="589.3" cy="168.4" r="2.95"/></g>
<g fill="#0a3cff"><circle cx="85.9" cy="150.4" r="2.25"/><circle cx="102.6" cy="151.4" r="2.25"/><circle cx="118.1" cy="151.7" r="2.25"/><circle cx="132.3" cy="151.8" r="2.25"/><circle cx="145.6" cy="152.0" r="2.25"/><circle cx="158.1" cy="152.3" r="2.25"/><circle cx="169.8" cy="152.7" r="2.25"/><circle cx="180.8" cy="153.0" r="2.25"/><circle cx="191.2" cy="153.2" r="2.25"/><circle cx="201.1" cy="153.4" r="2.25"/><circle cx="210.5" cy="153.6" r="2.25"/><circle cx="219.4" cy="153.8" r="2.25"/><circle cx="228.0" cy="154.0" r="2.25"/><circle cx="236.2" cy="154.3" r="2.25"/><circle cx="244.1" cy="154.7" r="2.25"/><circle cx="251.6" cy="155.2" r="2.25"/><circle cx="258.9" cy="155.6" r="2.25"/><circle cx="265.9" cy="156.0" r="2.25"/><circle cx="272.7" cy="156.4" r="2.25"/><circle cx="279.2" cy="156.8" r="2.25"/><circle cx="285.5" cy="157.2" r="2.25"/><circle cx="291.6" cy="157.6" r="2.25"/><circle cx="297.6" cy="158.0" r="2.25"/><circle cx="303.3" cy="158.5" r="2.25"/><circle cx="308.9" cy="158.9" r="2.25"/><circle cx="314.3" cy="159.3" r="2.25"/><circle cx="319.6" cy="159.7" r="2.25"/><circle cx="324.7" cy="160.2" r="2.25"/><circle cx="329.8" cy="160.6" r="2.25"/><circle cx="334.6" cy="161.0" r="2.25"/><circle cx="339.4" cy="161.6" r="2.25"/><circle cx="344.0" cy="162.0" r="2.25"/><circle cx="348.6" cy="162.5" r="2.25"/><circle cx="353.0" cy="162.8" r="2.25"/><circle cx="357.3" cy="163.2" r="2.25"/><circle cx="361.6" cy="163.5" r="2.25"/><circle cx="365.7" cy="163.7" r="2.25"/><circle cx="369.8" cy="164.0" r="2.25"/><circle cx="373.7" cy="164.2" r="2.25"/><circle cx="377.6" cy="164.5" r="2.25"/><circle cx="381.4" cy="164.7" r="2.25"/><circle cx="385.2" cy="164.9" r="2.25"/><circle cx="388.9" cy="165.0" r="2.25"/><circle cx="392.5" cy="165.0" r="2.25"/><circle cx="396.0" cy="165.0" r="2.25"/><circle cx="399.5" cy="165.0" r="2.25"/><circle cx="402.9" cy="165.0" r="2.25"/><circle cx="406.2" cy="165.0" r="2.25"/><circle cx="409.5" cy="165.0" r="2.25"/><circle cx="412.8" cy="165.0" r="2.25"/><circle cx="416.0" cy="165.0" r="2.25"/><circle cx="419.1" cy="165.0" r="2.25"/><circle cx="422.2" cy="165.1" r="2.25"/><circle cx="425.2" cy="165.1" r="2.25"/><circle cx="428.2" cy="165.1" r="2.25"/><circle cx="431.1" cy="165.1" r="2.25"/><circle cx="434.0" cy="165.2" r="2.25"/><circle cx="436.9" cy="165.2" r="2.25"/><circle cx="439.7" cy="165.3" r="2.25"/><circle cx="442.5" cy="165.3" r="2.25"/><circle cx="445.2" cy="165.4" r="2.25"/><circle cx="447.9" cy="165.4" r="2.25"/><circle cx="450.6" cy="165.5" r="2.25"/><circle cx="453.2" cy="165.5" r="2.25"/><circle cx="455.8" cy="165.6" r="2.25"/><circle cx="458.3" cy="165.6" r="2.25"/><circle cx="460.8" cy="165.6" r="2.25"/><circle cx="463.3" cy="165.7" r="2.25"/><circle cx="465.8" cy="165.7" r="2.25"/><circle cx="468.2" cy="165.8" r="2.25"/><circle cx="470.6" cy="165.8" r="2.25"/><circle cx="473.0" cy="165.9" r="2.25"/><circle cx="475.3" cy="165.9" r="2.25"/><circle cx="477.6" cy="166.0" r="2.25"/><circle cx="479.9" cy="166.0" r="2.25"/><circle cx="482.1" cy="166.0" r="2.25"/><circle cx="484.4" cy="166.1" r="2.25"/><circle cx="486.6" cy="166.1" r="2.25"/><circle cx="488.7" cy="166.2" r="2.25"/><circle cx="490.9" cy="166.2" r="2.25"/><circle cx="493.0" cy="166.2" r="2.25"/><circle cx="495.1" cy="166.3" r="2.25"/><circle cx="497.2" cy="166.3" r="2.25"/><circle cx="499.3" cy="166.3" r="2.25"/><circle cx="501.3" cy="166.4" r="2.25"/><circle cx="503.3" cy="166.4" r="2.25"/><circle cx="505.3" cy="166.5" r="2.25"/><circle cx="507.3" cy="166.5" r="2.25"/><circle cx="509.3" cy="166.5" r="2.25"/><circle cx="511.2" cy="166.6" r="2.25"/><circle cx="513.1" cy="166.6" r="2.25"/><circle cx="515.0" cy="166.7" r="2.25"/><circle cx="516.9" cy="166.7" r="2.25"/><circle cx="518.8" cy="166.7" r="2.25"/><circle cx="520.6" cy="166.8" r="2.25"/><circle cx="522.4" cy="166.8" r="2.25"/><circle cx="524.2" cy="166.9" r="2.25"/><circle cx="526.0" cy="166.9" r="2.25"/><circle cx="527.8" cy="166.9" r="2.25"/><circle cx="529.6" cy="167.0" r="2.25"/><circle cx="531.3" cy="167.0" r="2.25"/><circle cx="533.0" cy="167.0" r="2.25"/><circle cx="534.8" cy="167.1" r="2.25"/><circle cx="536.4" cy="167.1" r="2.25"/><circle cx="538.1" cy="167.2" r="2.25"/><circle cx="539.8" cy="167.2" r="2.25"/><circle cx="541.5" cy="167.2" r="2.25"/><circle cx="543.1" cy="167.3" r="2.25"/><circle cx="544.7" cy="167.3" r="2.25"/><circle cx="546.3" cy="167.3" r="2.25"/><circle cx="547.9" cy="167.4" r="2.25"/><circle cx="549.5" cy="167.4" r="2.25"/><circle cx="551.1" cy="167.5" r="2.25"/><circle cx="552.7" cy="167.5" r="2.25"/><circle cx="554.2" cy="167.5" r="2.25"/><circle cx="555.7" cy="167.6" r="2.25"/><circle cx="557.3" cy="167.6" r="2.25"/><circle cx="558.8" cy="167.6" r="2.25"/><circle cx="560.3" cy="167.7" r="2.25"/><circle cx="561.8" cy="167.7" r="2.25"/><circle cx="563.2" cy="167.7" r="2.25"/><circle cx="564.7" cy="167.8" r="2.25"/><circle cx="566.2" cy="167.8" r="2.25"/><circle cx="567.6" cy="167.8" r="2.25"/><circle cx="569.0" cy="167.9" r="2.25"/><circle cx="570.5" cy="167.9" r="2.25"/><circle cx="571.9" cy="167.9" r="2.25"/><circle cx="573.3" cy="168.0" r="2.25"/><circle cx="574.7" cy="168.0" r="2.25"/><circle cx="576.0" cy="168.1" r="2.25"/><circle cx="577.4" cy="168.1" r="2.25"/><circle cx="578.8" cy="168.1" r="2.25"/><circle cx="580.1" cy="168.2" r="2.25"/><circle cx="581.5" cy="168.2" r="2.25"/><circle cx="582.8" cy="168.2" r="2.25"/><circle cx="584.1" cy="168.3" r="2.25"/><circle cx="585.4" cy="168.3" r="2.25"/><circle cx="586.7" cy="168.3" r="2.25"/><circle cx="588.0" cy="168.4" r="2.25"/><circle cx="589.3" cy="168.4" r="2.25"/></g>
<polyline points="85.87,211.61 102.63,210.03 118.06,209.00 132.34,208.03 145.63,207.61 158.07,207.10 169.75,206.61 180.76,206.21 191.18,205.87 201.07,205.60 210.47,205.38 219.43,205.20 228.00,205.04 236.20,204.90 244.07,204.76 251.62,204.63 258.90,204.50 265.90,204.37 272.67,204.24 279.20,204.11 285.52,203.99 291.64,203.89 297.56,203.81 303.32,203.73 308.90,203.66 314.33,203.60 319.61,203.54 324.75,203.49 329.76,203.44 334.63,203.39 339.39,203.35 344.04,203.31 348.57,203.27 353.00,203.24 357.33,203.22 361.57,203.19 365.71,203.17 369.77,203.14 373.74,203.12 377.63,203.10 381.45,203.08 385.19,203.06 388.86,203.05 392.46,203.03 396.00,203.02 399.47,203.01 402.88,203.01 406.23,203.00 409.53,203.00 412.77,203.00 415.95,203.01 419.08,203.03 422.17,203.05 425.20,203.08 428.19,203.11 431.13,203.15 434.03,203.18 436.88,203.22 439.70,203.26 442.47,203.30 445.20,203.33 447.90,203.37 450.56,203.41 453.18,203.45 455.76,203.49 458.32,203.54 460.84,203.59 463.32,203.64 465.78,203.69 468.20,203.75 470.59,203.80 472.96,203.86 475.29,203.92 477.60,203.98 479.88,204.03 482.14,204.09 484.36,204.14 486.57,204.20 488.74,204.25 490.90,204.30 493.03,204.35 495.13,204.40 497.22,204.44 499.28,204.49 501.32,204.53 503.33,204.57 505.33,204.61 507.31,204.64 509.26,204.68 511.20,204.72 513.12,204.76 515.02,204.79 516.90,204.83 518.76,204.87 520.60,204.90 522.43,204.93 524.24,204.97 526.03,205.00 527.81,205.03 529.57,205.06 531.31,205.10 533.04,205.13 534.75,205.16 536.45,205.18 538.13,205.21 539.80,205.24 541.45,205.27 543.09,205.29 544.72,205.32 546.33,205.34 547.93,205.37 549.52,205.39 551.09,205.42 552.65,205.44 554.20,205.46 555.73,205.48 557.26,205.50 558.77,205.53 560.27,205.55 561.76,205.57 563.23,205.59 564.70,205.61 566.15,205.63 567.60,205.64 569.03,205.66 570.45,205.68 571.86,205.70 573.26,205.72 574.66,205.73 576.04,205.75 577.41,205.77 578.77,205.78 580.12,205.80 581.47,205.81 582.80,205.83 584.12,205.84 585.44,205.86 586.75,205.87 588.04,205.88 589.33,205.90" fill="none" stroke="#222" stroke-width="0.9" opacity="1"/>
<g fill="#000000"><circle cx="85.9" cy="211.6" r="2.95"/><circle cx="102.6" cy="210.0" r="2.95"/><circle cx="118.1" cy="209.0" r="2.95"/><circle cx="132.3" cy="208.0" r="2.95"/><circle cx="145.6" cy="207.6" r="2.95"/><circle cx="158.1" cy="207.1" r="2.95"/><circle cx="169.8" cy="206.6" r="2.95"/><circle cx="180.8" cy="206.2" r="2.95"/><circle cx="191.2" cy="205.9" r="2.95"/><circle cx="201.1" cy="205.6" r="2.95"/><circle cx="210.5" cy="205.4" r="2.95"/><circle cx="219.4" cy="205.2" r="2.95"/><circle cx="228.0" cy="205.0" r="2.95"/><circle cx="236.2" cy="204.9" r="2.95"/><circle cx="244.1" cy="204.8" r="2.95"/><circle cx="251.6" cy="204.6" r="2.95"/><circle cx="258.9" cy="204.5" r="2.95"/><circle cx="265.9" cy="204.4" r="2.95"/><circle cx="272.7" cy="204.2" r="2.95"/><circle cx="279.2" cy="204.1" r="2.95"/><circle cx="285.5" cy="204.0" r="2.95"/><circle cx="291.6" cy="203.9" r="2.95"/><circle cx="297.6" cy="203.8" r="2.95"/><circle cx="303.3" cy="203.7" r="2.95"/><circle cx="308.9" cy="203.7" r="2.95"/><circle cx="314.3" cy="203.6" r="2.95"/><circle cx="319.6" cy="203.5" r="2.95"/><circle cx="324.7" cy="203.5" r="2.95"/><circle cx="329.8" cy="203.4" r="2.95"/><circle cx="334.6" cy="203.4" r="2.95"/><circle cx="339.4" cy="203.3" r="2.95"/><circle cx="344.0" cy="203.3" r="2.95"/><circle cx="348.6" cy="203.3" r="2.95"/><circle cx="353.0" cy="203.2" r="2.95"/><circle cx="357.3" cy="203.2" r="2.95"/><circle cx="361.6" cy="203.2" r="2.95"/><circle cx="365.7" cy="203.2" r="2.95"/><circle cx="369.8" cy="203.1" r="2.95"/><circle cx="373.7" cy="203.1" r="2.95"/><circle cx="377.6" cy="203.1" r="2.95"/><circle cx="381.4" cy="203.1" r="2.95"/><circle cx="385.2" cy="203.1" r="2.95"/><circle cx="388.9" cy="203.0" r="2.95"/><circle cx="392.5" cy="203.0" r="2.95"/><circle cx="396.0" cy="203.0" r="2.95"/><circle cx="399.5" cy="203.0" r="2.95"/><circle cx="402.9" cy="203.0" r="2.95"/><circle cx="406.2" cy="203.0" r="2.95"/><circle cx="409.5" cy="203.0" r="2.95"/><circle cx="412.8" cy="203.0" r="2.95"/><circle cx="416.0" cy="203.0" r="2.95"/><circle cx="419.1" cy="203.0" r="2.95"/><circle cx="422.2" cy="203.1" r="2.95"/><circle cx="425.2" cy="203.1" r="2.95"/><circle cx="428.2" cy="203.1" r="2.95"/><circle cx="431.1" cy="203.1" r="2.95"/><circle cx="434.0" cy="203.2" r="2.95"/><circle cx="436.9" cy="203.2" r="2.95"/><circle cx="439.7" cy="203.3" r="2.95"/><circle cx="442.5" cy="203.3" r="2.95"/><circle cx="445.2" cy="203.3" r="2.95"/><circle cx="447.9" cy="203.4" r="2.95"/><circle cx="450.6" cy="203.4" r="2.95"/><circle cx="453.2" cy="203.4" r="2.95"/><circle cx="455.8" cy="203.5" r="2.95"/><circle cx="458.3" cy="203.5" r="2.95"/><circle cx="460.8" cy="203.6" r="2.95"/><circle cx="463.3" cy="203.6" r="2.95"/><circle cx="465.8" cy="203.7" r="2.95"/><circle cx="468.2" cy="203.7" r="2.95"/><circle cx="470.6" cy="203.8" r="2.95"/><circle cx="473.0" cy="203.9" r="2.95"/><circle cx="475.3" cy="203.9" r="2.95"/><circle cx="477.6" cy="204.0" r="2.95"/><circle cx="479.9" cy="204.0" r="2.95"/><circle cx="482.1" cy="204.1" r="2.95"/><circle cx="484.4" cy="204.1" r="2.95"/><circle cx="486.6" cy="204.2" r="2.95"/><circle cx="488.7" cy="204.3" r="2.95"/><circle cx="490.9" cy="204.3" r="2.95"/><circle cx="493.0" cy="204.4" r="2.95"/><circle cx="495.1" cy="204.4" r="2.95"/><circle cx="497.2" cy="204.4" r="2.95"/><circle cx="499.3" cy="204.5" r="2.95"/><circle cx="501.3" cy="204.5" r="2.95"/><circle cx="503.3" cy="204.6" r="2.95"/><circle cx="505.3" cy="204.6" r="2.95"/><circle cx="507.3" cy="204.6" r="2.95"/><circle cx="509.3" cy="204.7" r="2.95"/><circle cx="511.2" cy="204.7" r="2.95"/><circle cx="513.1" cy="204.8" r="2.95"/><circle cx="515.0" cy="204.8" r="2.95"/><circle cx="516.9" cy="204.8" r="2.95"/><circle cx="518.8" cy="204.9" r="2.95"/><circle cx="520.6" cy="204.9" r="2.95"/><circle cx="522.4" cy="204.9" r="2.95"/><circle cx="524.2" cy="205.0" r="2.95"/><circle cx="526.0" cy="205.0" r="2.95"/><circle cx="527.8" cy="205.0" r="2.95"/><circle cx="529.6" cy="205.1" r="2.95"/><circle cx="531.3" cy="205.1" r="2.95"/><circle cx="533.0" cy="205.1" r="2.95"/><circle cx="534.8" cy="205.2" r="2.95"/><circle cx="536.4" cy="205.2" r="2.95"/><circle cx="538.1" cy="205.2" r="2.95"/><circle cx="539.8" cy="205.2" r="2.95"/><circle cx="541.5" cy="205.3" r="2.95"/><circle cx="543.1" cy="205.3" r="2.95"/><circle cx="544.7" cy="205.3" r="2.95"/><circle cx="546.3" cy="205.3" r="2.95"/><circle cx="547.9" cy="205.4" r="2.95"/><circle cx="549.5" cy="205.4" r="2.95"/><circle cx="551.1" cy="205.4" r="2.95"/><circle cx="552.7" cy="205.4" r="2.95"/><circle cx="554.2" cy="205.5" r="2.95"/><circle cx="555.7" cy="205.5" r="2.95"/><circle cx="557.3" cy="205.5" r="2.95"/><circle cx="558.8" cy="205.5" r="2.95"/><circle cx="560.3" cy="205.5" r="2.95"/><circle cx="561.8" cy="205.6" r="2.95"/><circle cx="563.2" cy="205.6" r="2.95"/><circle cx="564.7" cy="205.6" r="2.95"/><circle cx="566.2" cy="205.6" r="2.95"/><circle cx="567.6" cy="205.6" r="2.95"/><circle cx="569.0" cy="205.7" r="2.95"/><circle cx="570.5" cy="205.7" r="2.95"/><circle cx="571.9" cy="205.7" r="2.95"/><circle cx="573.3" cy="205.7" r="2.95"/><circle cx="574.7" cy="205.7" r="2.95"/><circle cx="576.0" cy="205.7" r="2.95"/><circle cx="577.4" cy="205.8" r="2.95"/><circle cx="578.8" cy="205.8" r="2.95"/><circle cx="580.1" cy="205.8" r="2.95"/><circle cx="581.5" cy="205.8" r="2.95"/><circle cx="582.8" cy="205.8" r="2.95"/><circle cx="584.1" cy="205.8" r="2.95"/><circle cx="585.4" cy="205.9" r="2.95"/><circle cx="586.7" cy="205.9" r="2.95"/><circle cx="588.0" cy="205.9" r="2.95"/><circle cx="589.3" cy="205.9" r="2.95"/></g>
<polyline points="76.90,167.59 85.87,168.59 94.43,169.11 102.63,169.57 110.50,170.27 118.06,171.01 125.33,171.63 132.34,172.20 139.10,172.77 145.63,173.36 151.95,174.01 158.07,174.69 164.00,175.36 169.75,175.95 175.34,176.52 180.76,177.17 186.04,178.02 191.18,178.98 196.19,179.94 201.07,180.95 205.83,182.01 210.47,183.11 215.00,184.23 219.43,185.37 223.76,186.52 228.00,187.62 232.14,188.60 236.20,189.52 240.17,190.55 244.07,191.75 247.88,193.13 251.62,194.74 255.29,196.67 258.90,198.85 262.43,201.21 265.90,203.96 269.31,206.87 272.67,209.84 275.96,212.93 279.20,216.27 282.38,219.30 285.52,221.88 288.60,224.23 291.64,226.55 294.62,228.50 297.56,229.87 300.46,230.93 303.32,231.72 306.13,232.35 308.90,232.78 311.64,233.12 314.33,233.42 316.99,233.67 319.61,233.83 322.20,233.91 324.75,233.95 327.27,233.99 329.76,234.03 332.21,234.06 334.63,234.09 337.03,234.12 339.39,234.15 341.73,234.17 344.04,234.20 346.32,234.22 348.57,234.24 350.80,234.26 353.00,234.27 355.18,234.29 357.33,234.30 359.46,234.31 361.57,234.33 363.65,234.34 365.71,234.35 367.75,234.36 369.77,234.37 371.76,234.38 373.74,234.39 375.70,234.40 377.63,234.40 379.55,234.41 381.45,234.42 383.33,234.43 385.19,234.43 387.03,234.44 388.86,234.45 390.67,234.46 392.46,234.46 394.24,234.47 396.00,234.48 397.74,234.49 399.47,234.50 401.18,234.51 402.88,234.51 404.56,234.52 406.23,234.53 407.89,234.54 409.53,234.55 411.15,234.56 412.77,234.57 414.36,234.57 415.95,234.58 417.52,234.59 419.08,234.60 420.63,234.61 422.17,234.61 423.69,234.62 425.20,234.63 426.70,234.64 428.19,234.65 429.67,234.65 431.13,234.66 432.59,234.67 434.03,234.67 435.46,234.68 436.88,234.69 438.30,234.69 439.70,234.70 441.09,234.71 442.47,234.71 443.84,234.72 445.20,234.72 446.56,234.73 447.90,234.73 449.23,234.74 450.56,234.74 451.87,234.75 453.18,234.75 454.48,234.76 455.76,234.76 457.05,234.76 458.32,234.77 459.58,234.77 460.84,234.77 462.08,234.78 463.32,234.78 464.55,234.78 465.78,234.79 466.99,234.79 468.20,234.79 469.40,234.79 470.59,234.79 471.78,234.79 472.96,234.80 474.13,234.80 475.29,234.80 476.45,234.80 477.60,234.80 478.75,234.80 479.88,234.80 481.01,234.80 482.14,234.80 483.25,234.79 484.36,234.79 485.47,234.78 486.57,234.77 487.66,234.76 488.74,234.75 489.82,234.74 490.90,234.73 491.96,234.71 493.03,234.70 494.08,234.68 495.13,234.66 496.18,234.65 497.22,234.63 498.25,234.61 499.28,234.59 500.30,234.57 501.32,234.55 502.33,234.53 503.33,234.50 504.33,234.48 505.33,234.46 506.32,234.44 507.31,234.41 508.29,234.39 509.26,234.37 510.23,234.34 511.20,234.32 512.16,234.30 513.12,234.27 514.07,234.25 515.02,234.22 515.96,234.20 516.90,234.18 517.83,234.15 518.76,234.13 519.68,234.11 520.60,234.08 521.52,234.06 522.43,234.03 523.34,234.00 524.24,233.97 525.14,233.94 526.03,233.91 526.92,233.88 527.81,233.84 528.69,233.81 529.57,233.77 530.44,233.73 531.31,233.69 532.18,233.65 533.04,233.62 533.90,233.57 534.75,233.53 535.60,233.49 536.45,233.45 537.29,233.41 538.13,233.37 538.97,233.33 539.80,233.29 540.63,233.24 541.45,233.20 542.28,233.16 543.09,233.12 543.91,233.08 544.72,233.04 545.53,233.00 546.33,232.96 547.13,232.92 547.93,232.88 548.73,232.85 549.52,232.81 550.31,232.77 551.09,232.74 551.87,232.70 552.65,232.67 553.43,232.64 554.20,232.61 554.97,232.58 555.73,232.55 556.50,232.52 557.26,232.49 558.01,232.46 558.77,232.44 559.52,232.41 560.27,232.39 561.01,232.37 561.76,232.35 562.50,232.33 563.23,232.30 563.97,232.28 564.70,232.26 565.43,232.24 566.15,232.22 566.88,232.20 567.60,232.18 568.31,232.16 569.03,232.14 569.74,232.12 570.45,232.11 571.16,232.09 571.86,232.07 572.56,232.05 573.26,232.03 573.96,232.02 574.66,232.00 575.35,231.98 576.04,231.97 576.72,231.95 577.41,231.93 578.09,231.92 578.77,231.90 579.45,231.89 580.12,231.87 580.80,231.86 581.47,231.85 582.13,231.83 582.80,231.82 583.46,231.81 584.12,231.79 584.78,231.78 585.44,231.77 586.09,231.76 586.75,231.75 587.40,231.73 588.04,231.72 588.69,231.71 589.33,231.70" fill="none" stroke="#ee3333" stroke-width="0.9" opacity="1"/>
<g fill="#b80000"><circle cx="76.9" cy="167.6" r="2.95"/><circle cx="85.9" cy="168.6" r="2.95"/><circle cx="94.4" cy="169.1" r="2.95"/><circle cx="102.6" cy="169.6" r="2.95"/><circle cx="110.5" cy="170.3" r="2.95"/><circle cx="118.1" cy="171.0" r="2.95"/><circle cx="125.3" cy="171.6" r="2.95"/><circle cx="132.3" cy="172.2" r="2.95"/><circle cx="139.1" cy="172.8" r="2.95"/><circle cx="145.6" cy="173.4" r="2.95"/><circle cx="152.0" cy="174.0" r="2.95"/><circle cx="158.1" cy="174.7" r="2.95"/><circle cx="164.0" cy="175.4" r="2.95"/><circle cx="169.8" cy="175.9" r="2.95"/><circle cx="175.3" cy="176.5" r="2.95"/><circle cx="180.8" cy="177.2" r="2.95"/><circle cx="186.0" cy="178.0" r="2.95"/><circle cx="191.2" cy="179.0" r="2.95"/><circle cx="196.2" cy="179.9" r="2.95"/><circle cx="201.1" cy="180.9" r="2.95"/><circle cx="205.8" cy="182.0" r="2.95"/><circle cx="210.5" cy="183.1" r="2.95"/><circle cx="215.0" cy="184.2" r="2.95"/><circle cx="219.4" cy="185.4" r="2.95"/><circle cx="223.8" cy="186.5" r="2.95"/><circle cx="228.0" cy="187.6" r="2.95"/><circle cx="232.1" cy="188.6" r="2.95"/><circle cx="236.2" cy="189.5" r="2.95"/><circle cx="240.2" cy="190.5" r="2.95"/><circle cx="244.1" cy="191.8" r="2.95"/><circle cx="247.9" cy="193.1" r="2.95"/><circle cx="251.6" cy="194.7" r="2.95"/><circle cx="255.3" cy="196.7" r="2.95"/><circle cx="258.9" cy="198.8" r="2.95"/><circle cx="262.4" cy="201.2" r="2.95"/><circle cx="265.9" cy="204.0" r="2.95"/><circle cx="269.3" cy="206.9" r="2.95"/><circle cx="272.7" cy="209.8" r="2.95"/><circle cx="276.0" cy="212.9" r="2.95"/><circle cx="279.2" cy="216.3" r="2.95"/><circle cx="282.4" cy="219.3" r="2.95"/><circle cx="285.5" cy="221.9" r="2.95"/><circle cx="288.6" cy="224.2" r="2.95"/><circle cx="291.6" cy="226.5" r="2.95"/><circle cx="294.6" cy="228.5" r="2.95"/><circle cx="297.6" cy="229.9" r="2.95"/><circle cx="300.5" cy="230.9" r="2.95"/><circle cx="303.3" cy="231.7" r="2.95"/><circle cx="306.1" cy="232.3" r="2.95"/><circle cx="308.9" cy="232.8" r="2.95"/><circle cx="311.6" cy="233.1" r="2.95"/><circle cx="314.3" cy="233.4" r="2.95"/><circle cx="317.0" cy="233.7" r="2.95"/><circle cx="319.6" cy="233.8" r="2.95"/><circle cx="322.2" cy="233.9" r="2.95"/><circle cx="324.7" cy="234.0" r="2.95"/><circle cx="327.3" cy="234.0" r="2.95"/><circle cx="329.8" cy="234.0" r="2.95"/><circle cx="332.2" cy="234.1" r="2.95"/><circle cx="334.6" cy="234.1" r="2.95"/><circle cx="337.0" cy="234.1" r="2.95"/><circle cx="339.4" cy="234.1" r="2.95"/><circle cx="341.7" cy="234.2" r="2.95"/><circle cx="344.0" cy="234.2" r="2.95"/><circle cx="346.3" cy="234.2" r="2.95"/><circle cx="348.6" cy="234.2" r="2.95"/><circle cx="350.8" cy="234.3" r="2.95"/><circle cx="353.0" cy="234.3" r="2.95"/><circle cx="355.2" cy="234.3" r="2.95"/><circle cx="357.3" cy="234.3" r="2.95"/><circle cx="359.5" cy="234.3" r="2.95"/><circle cx="361.6" cy="234.3" r="2.95"/><circle cx="363.6" cy="234.3" r="2.95"/><circle cx="365.7" cy="234.3" r="2.95"/><circle cx="367.7" cy="234.4" r="2.95"/><circle cx="369.8" cy="234.4" r="2.95"/><circle cx="371.8" cy="234.4" r="2.95"/><circle cx="373.7" cy="234.4" r="2.95"/><circle cx="375.7" cy="234.4" r="2.95"/><circle cx="377.6" cy="234.4" r="2.95"/><circle cx="379.6" cy="234.4" r="2.95"/><circle cx="381.4" cy="234.4" r="2.95"/><circle cx="383.3" cy="234.4" r="2.95"/><circle cx="385.2" cy="234.4" r="2.95"/><circle cx="387.0" cy="234.4" r="2.95"/><circle cx="388.9" cy="234.4" r="2.95"/><circle cx="390.7" cy="234.5" r="2.95"/><circle cx="392.5" cy="234.5" r="2.95"/><circle cx="394.2" cy="234.5" r="2.95"/><circle cx="396.0" cy="234.5" r="2.95"/><circle cx="397.7" cy="234.5" r="2.95"/><circle cx="399.5" cy="234.5" r="2.95"/><circle cx="401.2" cy="234.5" r="2.95"/><circle cx="402.9" cy="234.5" r="2.95"/><circle cx="404.6" cy="234.5" r="2.95"/><circle cx="406.2" cy="234.5" r="2.95"/><circle cx="407.9" cy="234.5" r="2.95"/><circle cx="409.5" cy="234.5" r="2.95"/><circle cx="411.2" cy="234.6" r="2.95"/><circle cx="412.8" cy="234.6" r="2.95"/><circle cx="414.4" cy="234.6" r="2.95"/><circle cx="416.0" cy="234.6" r="2.95"/><circle cx="417.5" cy="234.6" r="2.95"/><circle cx="419.1" cy="234.6" r="2.95"/><circle cx="420.6" cy="234.6" r="2.95"/><circle cx="422.2" cy="234.6" r="2.95"/><circle cx="423.7" cy="234.6" r="2.95"/><circle cx="425.2" cy="234.6" r="2.95"/><circle cx="426.7" cy="234.6" r="2.95"/><circle cx="428.2" cy="234.6" r="2.95"/><circle cx="429.7" cy="234.7" r="2.95"/><circle cx="431.1" cy="234.7" r="2.95"/><circle cx="432.6" cy="234.7" r="2.95"/><circle cx="434.0" cy="234.7" r="2.95"/><circle cx="435.5" cy="234.7" r="2.95"/><circle cx="436.9" cy="234.7" r="2.95"/><circle cx="438.3" cy="234.7" r="2.95"/><circle cx="439.7" cy="234.7" r="2.95"/><circle cx="441.1" cy="234.7" r="2.95"/><circle cx="442.5" cy="234.7" r="2.95"/><circle cx="443.8" cy="234.7" r="2.95"/><circle cx="445.2" cy="234.7" r="2.95"/><circle cx="446.6" cy="234.7" r="2.95"/><circle cx="447.9" cy="234.7" r="2.95"/><circle cx="449.2" cy="234.7" r="2.95"/><circle cx="450.6" cy="234.7" r="2.95"/><circle cx="451.9" cy="234.7" r="2.95"/><circle cx="453.2" cy="234.8" r="2.95"/><circle cx="454.5" cy="234.8" r="2.95"/><circle cx="455.8" cy="234.8" r="2.95"/><circle cx="457.0" cy="234.8" r="2.95"/><circle cx="458.3" cy="234.8" r="2.95"/><circle cx="459.6" cy="234.8" r="2.95"/><circle cx="460.8" cy="234.8" r="2.95"/><circle cx="462.1" cy="234.8" r="2.95"/><circle cx="463.3" cy="234.8" r="2.95"/><circle cx="464.6" cy="234.8" r="2.95"/><circle cx="465.8" cy="234.8" r="2.95"/><circle cx="467.0" cy="234.8" r="2.95"/><circle cx="468.2" cy="234.8" r="2.95"/><circle cx="469.4" cy="234.8" r="2.95"/><circle cx="470.6" cy="234.8" r="2.95"/><circle cx="471.8" cy="234.8" r="2.95"/><circle cx="473.0" cy="234.8" r="2.95"/><circle cx="474.1" cy="234.8" r="2.95"/><circle cx="475.3" cy="234.8" r="2.95"/><circle cx="476.5" cy="234.8" r="2.95"/><circle cx="477.6" cy="234.8" r="2.95"/><circle cx="478.7" cy="234.8" r="2.95"/><circle cx="479.9" cy="234.8" r="2.95"/><circle cx="481.0" cy="234.8" r="2.95"/><circle cx="482.1" cy="234.8" r="2.95"/><circle cx="483.3" cy="234.8" r="2.95"/><circle cx="484.4" cy="234.8" r="2.95"/><circle cx="485.5" cy="234.8" r="2.95"/><circle cx="486.6" cy="234.8" r="2.95"/><circle cx="487.7" cy="234.8" r="2.95"/><circle cx="488.7" cy="234.8" r="2.95"/><circle cx="489.8" cy="234.7" r="2.95"/><circle cx="490.9" cy="234.7" r="2.95"/><circle cx="492.0" cy="234.7" r="2.95"/><circle cx="493.0" cy="234.7" r="2.95"/><circle cx="494.1" cy="234.7" r="2.95"/><circle cx="495.1" cy="234.7" r="2.95"/><circle cx="496.2" cy="234.6" r="2.95"/><circle cx="497.2" cy="234.6" r="2.95"/><circle cx="498.2" cy="234.6" r="2.95"/><circle cx="499.3" cy="234.6" r="2.95"/><circle cx="500.3" cy="234.6" r="2.95"/><circle cx="501.3" cy="234.5" r="2.95"/><circle cx="502.3" cy="234.5" r="2.95"/><circle cx="503.3" cy="234.5" r="2.95"/><circle cx="504.3" cy="234.5" r="2.95"/><circle cx="505.3" cy="234.5" r="2.95"/><circle cx="506.3" cy="234.4" r="2.95"/><circle cx="507.3" cy="234.4" r="2.95"/><circle cx="508.3" cy="234.4" r="2.95"/><circle cx="509.3" cy="234.4" r="2.95"/><circle cx="510.2" cy="234.3" r="2.95"/><circle cx="511.2" cy="234.3" r="2.95"/><circle cx="512.2" cy="234.3" r="2.95"/><circle cx="513.1" cy="234.3" r="2.95"/><circle cx="514.1" cy="234.2" r="2.95"/><circle cx="515.0" cy="234.2" r="2.95"/><circle cx="516.0" cy="234.2" r="2.95"/><circle cx="516.9" cy="234.2" r="2.95"/><circle cx="517.8" cy="234.2" r="2.95"/><circle cx="518.8" cy="234.1" r="2.95"/><circle cx="519.7" cy="234.1" r="2.95"/><circle cx="520.6" cy="234.1" r="2.95"/><circle cx="521.5" cy="234.1" r="2.95"/><circle cx="522.4" cy="234.0" r="2.95"/><circle cx="523.3" cy="234.0" r="2.95"/><circle cx="524.2" cy="234.0" r="2.95"/><circle cx="525.1" cy="233.9" r="2.95"/><circle cx="526.0" cy="233.9" r="2.95"/><circle cx="526.9" cy="233.9" r="2.95"/><circle cx="527.8" cy="233.8" r="2.95"/><circle cx="528.7" cy="233.8" r="2.95"/><circle cx="529.6" cy="233.8" r="2.95"/><circle cx="530.4" cy="233.7" r="2.95"/><circle cx="531.3" cy="233.7" r="2.95"/><circle cx="532.2" cy="233.7" r="2.95"/><circle cx="533.0" cy="233.6" r="2.95"/><circle cx="533.9" cy="233.6" r="2.95"/><circle cx="534.8" cy="233.5" r="2.95"/><circle cx="535.6" cy="233.5" r="2.95"/><circle cx="536.4" cy="233.5" r="2.95"/><circle cx="537.3" cy="233.4" r="2.95"/><circle cx="538.1" cy="233.4" r="2.95"/><circle cx="539.0" cy="233.3" r="2.95"/><circle cx="539.8" cy="233.3" r="2.95"/><circle cx="540.6" cy="233.2" r="2.95"/><circle cx="541.5" cy="233.2" r="2.95"/><circle cx="542.3" cy="233.2" r="2.95"/><circle cx="543.1" cy="233.1" r="2.95"/><circle cx="543.9" cy="233.1" r="2.95"/><circle cx="544.7" cy="233.0" r="2.95"/><circle cx="545.5" cy="233.0" r="2.95"/><circle cx="546.3" cy="233.0" r="2.95"/><circle cx="547.1" cy="232.9" r="2.95"/><circle cx="547.9" cy="232.9" r="2.95"/><circle cx="548.7" cy="232.8" r="2.95"/><circle cx="549.5" cy="232.8" r="2.95"/><circle cx="550.3" cy="232.8" r="2.95"/><circle cx="551.1" cy="232.7" r="2.95"/><circle cx="551.9" cy="232.7" r="2.95"/><circle cx="552.7" cy="232.7" r="2.95"/><circle cx="553.4" cy="232.6" r="2.95"/><circle cx="554.2" cy="232.6" r="2.95"/><circle cx="555.0" cy="232.6" r="2.95"/><circle cx="555.7" cy="232.5" r="2.95"/><circle cx="556.5" cy="232.5" r="2.95"/><circle cx="557.3" cy="232.5" r="2.95"/><circle cx="558.0" cy="232.5" r="2.95"/><circle cx="558.8" cy="232.4" r="2.95"/><circle cx="559.5" cy="232.4" r="2.95"/><circle cx="560.3" cy="232.4" r="2.95"/><circle cx="561.0" cy="232.4" r="2.95"/><circle cx="561.8" cy="232.3" r="2.95"/><circle cx="562.5" cy="232.3" r="2.95"/><circle cx="563.2" cy="232.3" r="2.95"/><circle cx="564.0" cy="232.3" r="2.95"/><circle cx="564.7" cy="232.3" r="2.95"/><circle cx="565.4" cy="232.2" r="2.95"/><circle cx="566.2" cy="232.2" r="2.95"/><circle cx="566.9" cy="232.2" r="2.95"/><circle cx="567.6" cy="232.2" r="2.95"/><circle cx="568.3" cy="232.2" r="2.95"/><circle cx="569.0" cy="232.1" r="2.95"/><circle cx="569.7" cy="232.1" r="2.95"/><circle cx="570.5" cy="232.1" r="2.95"/><circle cx="571.2" cy="232.1" r="2.95"/><circle cx="571.9" cy="232.1" r="2.95"/><circle cx="572.6" cy="232.1" r="2.95"/><circle cx="573.3" cy="232.0" r="2.95"/><circle cx="574.0" cy="232.0" r="2.95"/><circle cx="574.7" cy="232.0" r="2.95"/><circle cx="575.3" cy="232.0" r="2.95"/><circle cx="576.0" cy="232.0" r="2.95"/><circle cx="576.7" cy="232.0" r="2.95"/><circle cx="577.4" cy="231.9" r="2.95"/><circle cx="578.1" cy="231.9" r="2.95"/><circle cx="578.8" cy="231.9" r="2.95"/><circle cx="579.4" cy="231.9" r="2.95"/><circle cx="580.1" cy="231.9" r="2.95"/><circle cx="580.8" cy="231.9" r="2.95"/><circle cx="581.5" cy="231.8" r="2.95"/><circle cx="582.1" cy="231.8" r="2.95"/><circle cx="582.8" cy="231.8" r="2.95"/><circle cx="583.5" cy="231.8" r="2.95"/><circle cx="584.1" cy="231.8" r="2.95"/><circle cx="584.8" cy="231.8" r="2.95"/><circle cx="585.4" cy="231.8" r="2.95"/><circle cx="586.1" cy="231.8" r="2.95"/><circle cx="586.7" cy="231.7" r="2.95"/><circle cx="587.4" cy="231.7" r="2.95"/><circle cx="588.0" cy="231.7" r="2.95"/><circle cx="588.7" cy="231.7" r="2.95"/><circle cx="589.3" cy="231.7" r="2.95"/></g>
<g fill="#ff0000"><circle cx="76.9" cy="167.6" r="2.25"/><circle cx="85.9" cy="168.6" r="2.25"/><circle cx="94.4" cy="169.1" r="2.25"/><circle cx="102.6" cy="169.6" r="2.25"/><circle cx="110.5" cy="170.3" r="2.25"/><circle cx="118.1" cy="171.0" r="2.25"/><circle cx="125.3" cy="171.6" r="2.25"/><circle cx="132.3" cy="172.2" r="2.25"/><circle cx="139.1" cy="172.8" r="2.25"/><circle cx="145.6" cy="173.4" r="2.25"/><circle cx="152.0" cy="174.0" r="2.25"/><circle cx="158.1" cy="174.7" r="2.25"/><circle cx="164.0" cy="175.4" r="2.25"/><circle cx="169.8" cy="175.9" r="2.25"/><circle cx="175.3" cy="176.5" r="2.25"/><circle cx="180.8" cy="177.2" r="2.25"/><circle cx="186.0" cy="178.0" r="2.25"/><circle cx="191.2" cy="179.0" r="2.25"/><circle cx="196.2" cy="179.9" r="2.25"/><circle cx="201.1" cy="180.9" r="2.25"/><circle cx="205.8" cy="182.0" r="2.25"/><circle cx="210.5" cy="183.1" r="2.25"/><circle cx="215.0" cy="184.2" r="2.25"/><circle cx="219.4" cy="185.4" r="2.25"/><circle cx="223.8" cy="186.5" r="2.25"/><circle cx="228.0" cy="187.6" r="2.25"/><circle cx="232.1" cy="188.6" r="2.25"/><circle cx="236.2" cy="189.5" r="2.25"/><circle cx="240.2" cy="190.5" r="2.25"/><circle cx="244.1" cy="191.8" r="2.25"/><circle cx="247.9" cy="193.1" r="2.25"/><circle cx="251.6" cy="194.7" r="2.25"/><circle cx="255.3" cy="196.7" r="2.25"/><circle cx="258.9" cy="198.8" r="2.25"/><circle cx="262.4" cy="201.2" r="2.25"/><circle cx="265.9" cy="204.0" r="2.25"/><circle cx="269.3" cy="206.9" r="2.25"/><circle cx="272.7" cy="209.8" r="2.25"/><circle cx="276.0" cy="212.9" r="2.25"/><circle cx="279.2" cy="216.3" r="2.25"/><circle cx="282.4" cy="219.3" r="2.25"/><circle cx="285.5" cy="221.9" r="2.25"/><circle cx="288.6" cy="224.2" r="2.25"/><circle cx="291.6" cy="226.5" r="2.25"/><circle cx="294.6" cy="228.5" r="2.25"/><circle cx="297.6" cy="229.9" r="2.25"/><circle cx="300.5" cy="230.9" r="2.25"/><circle cx="303.3" cy="231.7" r="2.25"/><circle cx="306.1" cy="232.3" r="2.25"/><circle cx="308.9" cy="232.8" r="2.25"/><circle cx="311.6" cy="233.1" r="2.25"/><circle cx="314.3" cy="233.4" r="2.25"/><circle cx="317.0" cy="233.7" r="2.25"/><circle cx="319.6" cy="233.8" r="2.25"/><circle cx="322.2" cy="233.9" r="2.25"/><circle cx="324.7" cy="234.0" r="2.25"/><circle cx="327.3" cy="234.0" r="2.25"/><circle cx="329.8" cy="234.0" r="2.25"/><circle cx="332.2" cy="234.1" r="2.25"/><circle cx="334.6" cy="234.1" r="2.25"/><circle cx="337.0" cy="234.1" r="2.25"/><circle cx="339.4" cy="234.1" r="2.25"/><circle cx="341.7" cy="234.2" r="2.25"/><circle cx="344.0" cy="234.2" r="2.25"/><circle cx="346.3" cy="234.2" r="2.25"/><circle cx="348.6" cy="234.2" r="2.25"/><circle cx="350.8" cy="234.3" r="2.25"/><circle cx="353.0" cy="234.3" r="2.25"/><circle cx="355.2" cy="234.3" r="2.25"/><circle cx="357.3" cy="234.3" r="2.25"/><circle cx="359.5" cy="234.3" r="2.25"/><circle cx="361.6" cy="234.3" r="2.25"/><circle cx="363.6" cy="234.3" r="2.25"/><circle cx="365.7" cy="234.3" r="2.25"/><circle cx="367.7" cy="234.4" r="2.25"/><circle cx="369.8" cy="234.4" r="2.25"/><circle cx="371.8" cy="234.4" r="2.25"/><circle cx="373.7" cy="234.4" r="2.25"/><circle cx="375.7" cy="234.4" r="2.25"/><circle cx="377.6" cy="234.4" r="2.25"/><circle cx="379.6" cy="234.4" r="2.25"/><circle cx="381.4" cy="234.4" r="2.25"/><circle cx="383.3" cy="234.4" r="2.25"/><circle cx="385.2" cy="234.4" r="2.25"/><circle cx="387.0" cy="234.4" r="2.25"/><circle cx="388.9" cy="234.4" r="2.25"/><circle cx="390.7" cy="234.5" r="2.25"/><circle cx="392.5" cy="234.5" r="2.25"/><circle cx="394.2" cy="234.5" r="2.25"/><circle cx="396.0" cy="234.5" r="2.25"/><circle cx="397.7" cy="234.5" r="2.25"/><circle cx="399.5" cy="234.5" r="2.25"/><circle cx="401.2" cy="234.5" r="2.25"/><circle cx="402.9" cy="234.5" r="2.25"/><circle cx="404.6" cy="234.5" r="2.25"/><circle cx="406.2" cy="234.5" r="2.25"/><circle cx="407.9" cy="234.5" r="2.25"/><circle cx="409.5" cy="234.5" r="2.25"/><circle cx="411.2" cy="234.6" r="2.25"/><circle cx="412.8" cy="234.6" r="2.25"/><circle cx="414.4" cy="234.6" r="2.25"/><circle cx="416.0" cy="234.6" r="2.25"/><circle cx="417.5" cy="234.6" r="2.25"/><circle cx="419.1" cy="234.6" r="2.25"/><circle cx="420.6" cy="234.6" r="2.25"/><circle cx="422.2" cy="234.6" r="2.25"/><circle cx="423.7" cy="234.6" r="2.25"/><circle cx="425.2" cy="234.6" r="2.25"/><circle cx="426.7" cy="234.6" r="2.25"/><circle cx="428.2" cy="234.6" r="2.25"/><circle cx="429.7" cy="234.7" r="2.25"/><circle cx="431.1" cy="234.7" r="2.25"/><circle cx="432.6" cy="234.7" r="2.25"/><circle cx="434.0" cy="234.7" r="2.25"/><circle cx="435.5" cy="234.7" r="2.25"/><circle cx="436.9" cy="234.7" r="2.25"/><circle cx="438.3" cy="234.7" r="2.25"/><circle cx="439.7" cy="234.7" r="2.25"/><circle cx="441.1" cy="234.7" r="2.25"/><circle cx="442.5" cy="234.7" r="2.25"/><circle cx="443.8" cy="234.7" r="2.25"/><circle cx="445.2" cy="234.7" r="2.25"/><circle cx="446.6" cy="234.7" r="2.25"/><circle cx="447.9" cy="234.7" r="2.25"/><circle cx="449.2" cy="234.7" r="2.25"/><circle cx="450.6" cy="234.7" r="2.25"/><circle cx="451.9" cy="234.7" r="2.25"/><circle cx="453.2" cy="234.8" r="2.25"/><circle cx="454.5" cy="234.8" r="2.25"/><circle cx="455.8" cy="234.8" r="2.25"/><circle cx="457.0" cy="234.8" r="2.25"/><circle cx="458.3" cy="234.8" r="2.25"/><circle cx="459.6" cy="234.8" r="2.25"/><circle cx="460.8" cy="234.8" r="2.25"/><circle cx="462.1" cy="234.8" r="2.25"/><circle cx="463.3" cy="234.8" r="2.25"/><circle cx="464.6" cy="234.8" r="2.25"/><circle cx="465.8" cy="234.8" r="2.25"/><circle cx="467.0" cy="234.8" r="2.25"/><circle cx="468.2" cy="234.8" r="2.25"/><circle cx="469.4" cy="234.8" r="2.25"/><circle cx="470.6" cy="234.8" r="2.25"/><circle cx="471.8" cy="234.8" r="2.25"/><circle cx="473.0" cy="234.8" r="2.25"/><circle cx="474.1" cy="234.8" r="2.25"/><circle cx="475.3" cy="234.8" r="2.25"/><circle cx="476.5" cy="234.8" r="2.25"/><circle cx="477.6" cy="234.8" r="2.25"/><circle cx="478.7" cy="234.8" r="2.25"/><circle cx="479.9" cy="234.8" r="2.25"/><circle cx="481.0" cy="234.8" r="2.25"/><circle cx="482.1" cy="234.8" r="2.25"/><circle cx="483.3" cy="234.8" r="2.25"/><circle cx="484.4" cy="234.8" r="2.25"/><circle cx="485.5" cy="234.8" r="2.25"/><circle cx="486.6" cy="234.8" r="2.25"/><circle cx="487.7" cy="234.8" r="2.25"/><circle cx="488.7" cy="234.8" r="2.25"/><circle cx="489.8" cy="234.7" r="2.25"/><circle cx="490.9" cy="234.7" r="2.25"/><circle cx="492.0" cy="234.7" r="2.25"/><circle cx="493.0" cy="234.7" r="2.25"/><circle cx="494.1" cy="234.7" r="2.25"/><circle cx="495.1" cy="234.7" r="2.25"/><circle cx="496.2" cy="234.6" r="2.25"/><circle cx="497.2" cy="234.6" r="2.25"/><circle cx="498.2" cy="234.6" r="2.25"/><circle cx="499.3" cy="234.6" r="2.25"/><circle cx="500.3" cy="234.6" r="2.25"/><circle cx="501.3" cy="234.5" r="2.25"/><circle cx="502.3" cy="234.5" r="2.25"/><circle cx="503.3" cy="234.5" r="2.25"/><circle cx="504.3" cy="234.5" r="2.25"/><circle cx="505.3" cy="234.5" r="2.25"/><circle cx="506.3" cy="234.4" r="2.25"/><circle cx="507.3" cy="234.4" r="2.25"/><circle cx="508.3" cy="234.4" r="2.25"/><circle cx="509.3" cy="234.4" r="2.25"/><circle cx="510.2" cy="234.3" r="2.25"/><circle cx="511.2" cy="234.3" r="2.25"/><circle cx="512.2" cy="234.3" r="2.25"/><circle cx="513.1" cy="234.3" r="2.25"/><circle cx="514.1" cy="234.2" r="2.25"/><circle cx="515.0" cy="234.2" r="2.25"/><circle cx="516.0" cy="234.2" r="2.25"/><circle cx="516.9" cy="234.2" r="2.25"/><circle cx="517.8" cy="234.2" r="2.25"/><circle cx="518.8" cy="234.1" r="2.25"/><circle cx="519.7" cy="234.1" r="2.25"/><circle cx="520.6" cy="234.1" r="2.25"/><circle cx="521.5" cy="234.1" r="2.25"/><circle cx="522.4" cy="234.0" r="2.25"/><circle cx="523.3" cy="234.0" r="2.25"/><circle cx="524.2" cy="234.0" r="2.25"/><circle cx="525.1" cy="233.9" r="2.25"/><circle cx="526.0" cy="233.9" r="2.25"/><circle cx="526.9" cy="233.9" r="2.25"/><circle cx="527.8" cy="233.8" r="2.25"/><circle cx="528.7" cy="233.8" r="2.25"/><circle cx="529.6" cy="233.8" r="2.25"/><circle cx="530.4" cy="233.7" r="2.25"/><circle cx="531.3" cy="233.7" r="2.25"/><circle cx="532.2" cy="233.7" r="2.25"/><circle cx="533.0" cy="233.6" r="2.25"/><circle cx="533.9" cy="233.6" r="2.25"/><circle cx="534.8" cy="233.5" r="2.25"/><circle cx="535.6" cy="233.5" r="2.25"/><circle cx="536.4" cy="233.5" r="2.25"/><circle cx="537.3" cy="233.4" r="2.25"/><circle cx="538.1" cy="233.4" r="2.25"/><circle cx="539.0" cy="233.3" r="2.25"/><circle cx="539.8" cy="233.3" r="2.25"/><circle cx="540.6" cy="233.2" r="2.25"/><circle cx="541.5" cy="233.2" r="2.25"/><circle cx="542.3" cy="233.2" r="2.25"/><circle cx="543.1" cy="233.1" r="2.25"/><circle cx="543.9" cy="233.1" r="2.25"/><circle cx="544.7" cy="233.0" r="2.25"/><circle cx="545.5" cy="233.0" r="2.25"/><circle cx="546.3" cy="233.0" r="2.25"/><circle cx="547.1" cy="232.9" r="2.25"/><circle cx="547.9" cy="232.9" r="2.25"/><circle cx="548.7" cy="232.8" r="2.25"/><circle cx="549.5" cy="232.8" r="2.25"/><circle cx="550.3" cy="232.8" r="2.25"/><circle cx="551.1" cy="232.7" r="2.25"/><circle cx="551.9" cy="232.7" r="2.25"/><circle cx="552.7" cy="232.7" r="2.25"/><circle cx="553.4" cy="232.6" r="2.25"/><circle cx="554.2" cy="232.6" r="2.25"/><circle cx="555.0" cy="232.6" r="2.25"/><circle cx="555.7" cy="232.5" r="2.25"/><circle cx="556.5" cy="232.5" r="2.25"/><circle cx="557.3" cy="232.5" r="2.25"/><circle cx="558.0" cy="232.5" r="2.25"/><circle cx="558.8" cy="232.4" r="2.25"/><circle cx="559.5" cy="232.4" r="2.25"/><circle cx="560.3" cy="232.4" r="2.25"/><circle cx="561.0" cy="232.4" r="2.25"/><circle cx="561.8" cy="232.3" r="2.25"/><circle cx="562.5" cy="232.3" r="2.25"/><circle cx="563.2" cy="232.3" r="2.25"/><circle cx="564.0" cy="232.3" r="2.25"/><circle cx="564.7" cy="232.3" r="2.25"/><circle cx="565.4" cy="232.2" r="2.25"/><circle cx="566.2" cy="232.2" r="2.25"/><circle cx="566.9" cy="232.2" r="2.25"/><circle cx="567.6" cy="232.2" r="2.25"/><circle cx="568.3" cy="232.2" r="2.25"/><circle cx="569.0" cy="232.1" r="2.25"/><circle cx="569.7" cy="232.1" r="2.25"/><circle cx="570.5" cy="232.1" r="2.25"/><circle cx="571.2" cy="232.1" r="2.25"/><circle cx="571.9" cy="232.1" r="2.25"/><circle cx="572.6" cy="232.1" r="2.25"/><circle cx="573.3" cy="232.0" r="2.25"/><circle cx="574.0" cy="232.0" r="2.25"/><circle cx="574.7" cy="232.0" r="2.25"/><circle cx="575.3" cy="232.0" r="2.25"/><circle cx="576.0" cy="232.0" r="2.25"/><circle cx="576.7" cy="232.0" r="2.25"/><circle cx="577.4" cy="231.9" r="2.25"/><circle cx="578.1" cy="231.9" r="2.25"/><circle cx="578.8" cy="231.9" r="2.25"/><circle cx="579.4" cy="231.9" r="2.25"/><circle cx="580.1" cy="231.9" r="2.25"/><circle cx="580.8" cy="231.9" r="2.25"/><circle cx="581.5" cy="231.8" r="2.25"/><circle cx="582.1" cy="231.8" r="2.25"/><circle cx="582.8" cy="231.8" r="2.25"/><circle cx="583.5" cy="231.8" r="2.25"/><circle cx="584.1" cy="231.8" r="2.25"/><circle cx="584.8" cy="231.8" r="2.25"/><circle cx="585.4" cy="231.8" r="2.25"/><circle cx="586.1" cy="231.8" r="2.25"/><circle cx="586.7" cy="231.7" r="2.25"/><circle cx="587.4" cy="231.7" r="2.25"/><circle cx="588.0" cy="231.7" r="2.25"/><circle cx="588.7" cy="231.7" r="2.25"/><circle cx="589.3" cy="231.7" r="2.25"/></g>
<g fill="#b80000"><ellipse cx="76.9" cy="315.6" rx="3.15" ry="3.50"/><ellipse cx="85.9" cy="317.6" rx="3.15" ry="3.50"/><ellipse cx="94.4" cy="319.0" rx="3.15" ry="3.50"/><ellipse cx="102.6" cy="320.5" rx="3.15" ry="3.50"/><ellipse cx="110.5" cy="321.6" rx="3.15" ry="3.50"/><ellipse cx="118.1" cy="324.0" rx="3.15" ry="3.50"/><ellipse cx="125.3" cy="325.4" rx="3.15" ry="3.50"/><ellipse cx="132.3" cy="327.5" rx="3.15" ry="3.50"/><ellipse cx="139.1" cy="329.4" rx="3.15" ry="3.50"/><ellipse cx="145.6" cy="331.4" rx="3.15" ry="3.50"/><ellipse cx="152.0" cy="333.0" rx="3.15" ry="3.50"/><ellipse cx="158.1" cy="334.4" rx="3.15" ry="3.50"/><ellipse cx="164.0" cy="336.4" rx="3.15" ry="3.50"/><ellipse cx="169.8" cy="337.9" rx="3.15" ry="3.50"/><ellipse cx="175.3" cy="339.9" rx="3.15" ry="3.50"/><ellipse cx="180.8" cy="341.6" rx="3.15" ry="3.50"/><ellipse cx="186.0" cy="342.9" rx="3.15" ry="3.50"/><ellipse cx="191.2" cy="344.0" rx="3.15" ry="3.50"/><ellipse cx="196.2" cy="345.2" rx="3.15" ry="3.50"/><ellipse cx="201.1" cy="346.5" rx="3.15" ry="3.50"/><ellipse cx="205.8" cy="348.3" rx="3.15" ry="3.50"/><ellipse cx="210.5" cy="349.7" rx="3.15" ry="3.50"/><ellipse cx="215.0" cy="350.9" rx="3.15" ry="3.50"/><ellipse cx="219.4" cy="352.0" rx="3.15" ry="3.50"/><ellipse cx="223.8" cy="353.0" rx="3.15" ry="3.50"/><ellipse cx="228.0" cy="353.9" rx="3.15" ry="3.50"/><ellipse cx="232.1" cy="354.7" rx="3.15" ry="3.50"/><ellipse cx="236.2" cy="355.6" rx="3.15" ry="3.50"/><ellipse cx="240.2" cy="355.1" rx="3.15" ry="3.50"/><ellipse cx="244.1" cy="358.0" rx="3.15" ry="3.50"/><ellipse cx="247.9" cy="359.8" rx="3.15" ry="3.50"/><ellipse cx="251.6" cy="359.2" rx="3.15" ry="3.50"/><ellipse cx="255.3" cy="359.8" rx="3.15" ry="3.50"/><ellipse cx="258.9" cy="362.9" rx="3.15" ry="3.50"/><ellipse cx="262.4" cy="365.0" rx="3.15" ry="3.50"/><ellipse cx="265.9" cy="366.9" rx="3.15" ry="3.50"/><ellipse cx="269.3" cy="365.2" rx="3.15" ry="3.50"/><ellipse cx="272.7" cy="366.0" rx="3.15" ry="3.50"/><ellipse cx="276.0" cy="369.3" rx="3.15" ry="3.50"/><ellipse cx="279.2" cy="370.0" rx="3.15" ry="3.50"/><ellipse cx="282.4" cy="372.3" rx="3.15" ry="3.50"/><ellipse cx="285.5" cy="372.6" rx="3.15" ry="3.50"/><ellipse cx="288.6" cy="371.8" rx="3.15" ry="3.50"/><ellipse cx="291.6" cy="371.6" rx="3.15" ry="3.50"/><ellipse cx="294.6" cy="374.9" rx="3.15" ry="3.50"/><ellipse cx="297.6" cy="371.2" rx="3.15" ry="3.50"/><ellipse cx="300.5" cy="370.4" rx="3.15" ry="3.50"/><ellipse cx="303.3" cy="369.9" rx="3.15" ry="3.50"/><ellipse cx="306.1" cy="372.4" rx="3.15" ry="3.50"/><ellipse cx="308.9" cy="374.3" rx="3.15" ry="3.50"/><ellipse cx="311.6" cy="375.1" rx="3.15" ry="3.50"/><ellipse cx="314.3" cy="377.0" rx="3.15" ry="3.50"/><ellipse cx="317.0" cy="378.6" rx="3.15" ry="3.50"/><ellipse cx="319.6" cy="379.5" rx="3.15" ry="3.50"/><ellipse cx="322.2" cy="379.9" rx="3.15" ry="3.50"/><ellipse cx="324.7" cy="378.7" rx="3.15" ry="3.50"/><ellipse cx="327.3" cy="376.2" rx="3.15" ry="3.50"/><ellipse cx="329.8" cy="379.1" rx="3.15" ry="3.50"/><ellipse cx="332.2" cy="375.2" rx="3.15" ry="3.50"/><ellipse cx="334.6" cy="378.2" rx="3.15" ry="3.50"/><ellipse cx="337.0" cy="375.7" rx="3.15" ry="3.50"/><ellipse cx="339.4" cy="379.4" rx="3.15" ry="3.50"/><ellipse cx="341.7" cy="378.1" rx="3.15" ry="3.50"/><ellipse cx="344.0" cy="380.7" rx="3.15" ry="3.50"/><ellipse cx="346.3" cy="388.0" rx="3.15" ry="3.50"/><ellipse cx="348.6" cy="381.1" rx="3.15" ry="3.50"/><ellipse cx="350.8" cy="383.5" rx="3.15" ry="3.50"/><ellipse cx="353.0" cy="379.3" rx="3.15" ry="3.50"/><ellipse cx="355.2" cy="382.2" rx="3.15" ry="3.50"/><ellipse cx="357.3" cy="384.9" rx="3.15" ry="3.50"/><ellipse cx="359.5" cy="383.8" rx="3.15" ry="3.50"/><ellipse cx="361.6" cy="385.4" rx="3.15" ry="3.50"/><ellipse cx="363.6" cy="385.3" rx="3.15" ry="3.50"/><ellipse cx="365.7" cy="383.4" rx="3.15" ry="3.50"/><ellipse cx="367.7" cy="387.5" rx="3.15" ry="3.50"/><ellipse cx="369.8" cy="385.1" rx="3.15" ry="3.50"/><ellipse cx="371.8" cy="391.6" rx="3.15" ry="3.50"/><ellipse cx="373.7" cy="386.9" rx="3.15" ry="3.50"/><ellipse cx="375.7" cy="390.0" rx="3.15" ry="3.50"/><ellipse cx="377.6" cy="388.9" rx="3.15" ry="3.50"/><ellipse cx="379.6" cy="391.3" rx="3.15" ry="3.50"/><ellipse cx="381.4" cy="388.0" rx="3.15" ry="3.50"/><ellipse cx="383.3" cy="391.6" rx="3.15" ry="3.50"/><ellipse cx="385.2" cy="389.3" rx="3.15" ry="3.50"/><ellipse cx="387.0" cy="392.4" rx="3.15" ry="3.50"/><ellipse cx="388.9" cy="391.0" rx="3.15" ry="3.50"/><ellipse cx="390.7" cy="390.1" rx="3.15" ry="3.50"/><ellipse cx="392.5" cy="388.1" rx="3.15" ry="3.50"/><ellipse cx="394.2" cy="391.6" rx="3.15" ry="3.50"/><ellipse cx="396.0" cy="391.0" rx="3.15" ry="3.50"/><ellipse cx="397.7" cy="393.7" rx="3.15" ry="3.50"/><ellipse cx="399.5" cy="389.3" rx="3.15" ry="3.50"/><ellipse cx="401.2" cy="391.4" rx="3.15" ry="3.50"/><ellipse cx="402.9" cy="391.4" rx="3.15" ry="3.50"/><ellipse cx="404.6" cy="391.0" rx="3.15" ry="3.50"/><ellipse cx="406.2" cy="390.9" rx="3.15" ry="3.50"/><ellipse cx="407.9" cy="390.9" rx="3.15" ry="3.50"/><ellipse cx="409.5" cy="389.3" rx="3.15" ry="3.50"/><ellipse cx="411.2" cy="388.6" rx="3.15" ry="3.50"/><ellipse cx="412.8" cy="390.1" rx="3.15" ry="3.50"/><ellipse cx="414.4" cy="392.5" rx="3.15" ry="3.50"/><ellipse cx="416.0" cy="395.0" rx="3.15" ry="3.50"/><ellipse cx="417.5" cy="394.6" rx="3.15" ry="3.50"/><ellipse cx="419.1" cy="395.5" rx="3.15" ry="3.50"/><ellipse cx="420.6" cy="395.8" rx="3.15" ry="3.50"/><ellipse cx="422.2" cy="396.4" rx="3.15" ry="3.50"/><ellipse cx="423.7" cy="396.0" rx="3.15" ry="3.50"/><ellipse cx="425.2" cy="394.0" rx="3.15" ry="3.50"/><ellipse cx="426.7" cy="394.1" rx="3.15" ry="3.50"/><ellipse cx="428.2" cy="389.0" rx="3.15" ry="3.50"/><ellipse cx="429.7" cy="383.5" rx="3.15" ry="3.50"/><ellipse cx="431.1" cy="405.7" rx="3.15" ry="3.50"/><ellipse cx="432.6" cy="392.3" rx="3.15" ry="3.50"/><ellipse cx="434.0" cy="395.4" rx="3.15" ry="3.50"/><ellipse cx="435.5" cy="404.0" rx="3.15" ry="3.50"/><ellipse cx="436.9" cy="394.3" rx="3.15" ry="3.50"/><ellipse cx="438.3" cy="389.4" rx="3.15" ry="3.50"/><ellipse cx="439.7" cy="387.3" rx="3.15" ry="3.50"/><ellipse cx="441.1" cy="384.1" rx="3.15" ry="3.50"/><ellipse cx="442.5" cy="394.5" rx="3.15" ry="3.50"/><ellipse cx="443.8" cy="396.1" rx="3.15" ry="3.50"/><ellipse cx="445.2" cy="401.6" rx="3.15" ry="3.50"/><ellipse cx="446.6" cy="393.4" rx="3.15" ry="3.50"/><ellipse cx="447.9" cy="391.7" rx="3.15" ry="3.50"/><ellipse cx="449.2" cy="394.1" rx="3.15" ry="3.50"/><ellipse cx="450.6" cy="386.3" rx="3.15" ry="3.50"/><ellipse cx="451.9" cy="388.9" rx="3.15" ry="3.50"/><ellipse cx="453.2" cy="397.6" rx="3.15" ry="3.50"/><ellipse cx="454.5" cy="404.3" rx="3.15" ry="3.50"/><ellipse cx="455.8" cy="398.2" rx="3.15" ry="3.50"/><ellipse cx="457.0" cy="385.6" rx="3.15" ry="3.50"/><ellipse cx="458.3" cy="385.8" rx="3.15" ry="3.50"/><ellipse cx="459.6" cy="399.3" rx="3.15" ry="3.50"/><ellipse cx="460.8" cy="390.3" rx="3.15" ry="3.50"/><ellipse cx="462.1" cy="394.2" rx="3.15" ry="3.50"/><ellipse cx="463.3" cy="395.1" rx="3.15" ry="3.50"/><ellipse cx="464.6" cy="397.7" rx="3.15" ry="3.50"/><ellipse cx="465.8" cy="399.7" rx="3.15" ry="3.50"/><ellipse cx="467.0" cy="393.6" rx="3.15" ry="3.50"/><ellipse cx="468.2" cy="393.9" rx="3.15" ry="3.50"/><ellipse cx="469.4" cy="400.4" rx="3.15" ry="3.50"/><ellipse cx="470.6" cy="399.4" rx="3.15" ry="3.50"/><ellipse cx="471.8" cy="404.4" rx="3.15" ry="3.50"/><ellipse cx="473.0" cy="401.8" rx="3.15" ry="3.50"/><ellipse cx="474.1" cy="401.9" rx="3.15" ry="3.50"/><ellipse cx="475.3" cy="406.5" rx="3.15" ry="3.50"/><ellipse cx="476.5" cy="406.6" rx="3.15" ry="3.50"/><ellipse cx="477.6" cy="397.9" rx="3.15" ry="3.50"/><ellipse cx="478.7" cy="400.7" rx="3.15" ry="3.50"/><ellipse cx="479.9" cy="396.4" rx="3.15" ry="3.50"/><ellipse cx="481.0" cy="399.4" rx="3.15" ry="3.50"/><ellipse cx="482.1" cy="394.4" rx="3.15" ry="3.50"/><ellipse cx="483.3" cy="388.7" rx="3.15" ry="3.50"/><ellipse cx="484.4" cy="388.2" rx="3.15" ry="3.50"/><ellipse cx="485.5" cy="389.3" rx="3.15" ry="3.50"/><ellipse cx="486.6" cy="390.2" rx="3.15" ry="3.50"/><ellipse cx="487.7" cy="397.8" rx="3.15" ry="3.50"/><ellipse cx="488.7" cy="391.7" rx="3.15" ry="3.50"/><ellipse cx="489.8" cy="388.6" rx="3.15" ry="3.50"/><ellipse cx="490.9" cy="400.7" rx="3.15" ry="3.50"/><ellipse cx="492.0" cy="397.6" rx="3.15" ry="3.50"/><ellipse cx="493.0" cy="398.2" rx="3.15" ry="3.50"/><ellipse cx="494.1" cy="395.6" rx="3.15" ry="3.50"/><ellipse cx="495.1" cy="390.4" rx="3.15" ry="3.50"/><ellipse cx="496.2" cy="392.4" rx="3.15" ry="3.50"/><ellipse cx="497.2" cy="394.4" rx="3.15" ry="3.50"/><ellipse cx="498.2" cy="395.8" rx="3.15" ry="3.50"/><ellipse cx="499.3" cy="398.7" rx="3.15" ry="3.50"/><ellipse cx="500.3" cy="389.0" rx="3.15" ry="3.50"/><ellipse cx="501.3" cy="395.0" rx="3.15" ry="3.50"/><ellipse cx="502.3" cy="397.0" rx="3.15" ry="3.50"/><ellipse cx="503.3" cy="401.4" rx="3.15" ry="3.50"/><ellipse cx="504.3" cy="402.9" rx="3.15" ry="3.50"/><ellipse cx="505.3" cy="397.1" rx="3.15" ry="3.50"/><ellipse cx="506.3" cy="400.2" rx="3.15" ry="3.50"/><ellipse cx="507.3" cy="402.8" rx="3.15" ry="3.50"/><ellipse cx="508.3" cy="397.3" rx="3.15" ry="3.50"/><ellipse cx="509.3" cy="397.9" rx="3.15" ry="3.50"/><ellipse cx="510.2" cy="390.1" rx="3.15" ry="3.50"/><ellipse cx="511.2" cy="395.0" rx="3.15" ry="3.50"/><ellipse cx="512.2" cy="390.7" rx="3.15" ry="3.50"/><ellipse cx="513.1" cy="392.2" rx="3.15" ry="3.50"/><ellipse cx="514.1" cy="404.2" rx="3.15" ry="3.50"/><ellipse cx="515.0" cy="404.5" rx="3.15" ry="3.50"/><ellipse cx="516.0" cy="389.5" rx="3.15" ry="3.50"/><ellipse cx="516.9" cy="396.4" rx="3.15" ry="3.50"/><ellipse cx="517.8" cy="389.9" rx="3.15" ry="3.50"/><ellipse cx="518.8" cy="391.5" rx="3.15" ry="3.50"/><ellipse cx="519.7" cy="393.2" rx="3.15" ry="3.50"/><ellipse cx="520.6" cy="394.4" rx="3.15" ry="3.50"/><ellipse cx="521.5" cy="389.3" rx="3.15" ry="3.50"/><ellipse cx="522.4" cy="386.5" rx="3.15" ry="3.50"/><ellipse cx="523.3" cy="387.5" rx="3.15" ry="3.50"/><ellipse cx="524.2" cy="392.7" rx="3.15" ry="3.50"/><ellipse cx="525.1" cy="394.4" rx="3.15" ry="3.50"/><ellipse cx="526.0" cy="389.9" rx="3.15" ry="3.50"/><ellipse cx="526.9" cy="389.1" rx="3.15" ry="3.50"/><ellipse cx="527.8" cy="386.0" rx="3.15" ry="3.50"/><ellipse cx="528.7" cy="386.0" rx="3.15" ry="3.50"/><ellipse cx="529.6" cy="407.2" rx="3.15" ry="3.50"/><ellipse cx="530.4" cy="393.0" rx="3.15" ry="3.50"/><ellipse cx="531.3" cy="390.6" rx="3.15" ry="3.50"/><ellipse cx="532.2" cy="395.5" rx="3.15" ry="3.50"/><ellipse cx="533.0" cy="392.3" rx="3.15" ry="3.50"/><ellipse cx="533.9" cy="396.1" rx="3.15" ry="3.50"/><ellipse cx="534.8" cy="386.6" rx="3.15" ry="3.50"/><ellipse cx="535.6" cy="391.4" rx="3.15" ry="3.50"/><ellipse cx="536.4" cy="399.8" rx="3.15" ry="3.50"/><ellipse cx="537.3" cy="397.3" rx="3.15" ry="3.50"/><ellipse cx="538.1" cy="393.2" rx="3.15" ry="3.50"/><ellipse cx="539.0" cy="399.8" rx="3.15" ry="3.50"/><ellipse cx="539.8" cy="397.4" rx="3.15" ry="3.50"/><ellipse cx="540.6" cy="404.8" rx="3.15" ry="3.50"/><ellipse cx="541.5" cy="406.1" rx="3.15" ry="3.50"/><ellipse cx="542.3" cy="388.7" rx="3.15" ry="3.50"/><ellipse cx="543.1" cy="401.4" rx="3.15" ry="3.50"/><ellipse cx="543.9" cy="408.2" rx="3.15" ry="3.50"/><ellipse cx="544.7" cy="401.9" rx="3.15" ry="3.50"/><ellipse cx="545.5" cy="401.8" rx="3.15" ry="3.50"/><ellipse cx="546.3" cy="402.2" rx="3.15" ry="3.50"/><ellipse cx="547.1" cy="404.3" rx="3.15" ry="3.50"/><ellipse cx="547.9" cy="395.6" rx="3.15" ry="3.50"/><ellipse cx="548.7" cy="398.1" rx="3.15" ry="3.50"/><ellipse cx="549.5" cy="397.1" rx="3.15" ry="3.50"/><ellipse cx="550.3" cy="395.1" rx="3.15" ry="3.50"/><ellipse cx="551.1" cy="403.3" rx="3.15" ry="3.50"/><ellipse cx="551.9" cy="404.4" rx="3.15" ry="3.50"/><ellipse cx="552.7" cy="396.6" rx="3.15" ry="3.50"/><ellipse cx="553.4" cy="402.4" rx="3.15" ry="3.50"/><ellipse cx="554.2" cy="391.8" rx="3.15" ry="3.50"/><ellipse cx="555.0" cy="399.1" rx="3.15" ry="3.50"/><ellipse cx="555.7" cy="396.9" rx="3.15" ry="3.50"/><ellipse cx="556.5" cy="391.1" rx="3.15" ry="3.50"/><ellipse cx="557.3" cy="405.2" rx="3.15" ry="3.50"/><ellipse cx="558.0" cy="388.9" rx="3.15" ry="3.50"/><ellipse cx="558.8" cy="390.7" rx="3.15" ry="3.50"/><ellipse cx="559.5" cy="398.9" rx="3.15" ry="3.50"/><ellipse cx="560.3" cy="391.3" rx="3.15" ry="3.50"/><ellipse cx="561.0" cy="403.1" rx="3.15" ry="3.50"/><ellipse cx="561.8" cy="397.3" rx="3.15" ry="3.50"/><ellipse cx="562.5" cy="399.9" rx="3.15" ry="3.50"/><ellipse cx="563.2" cy="401.7" rx="3.15" ry="3.50"/><ellipse cx="564.0" cy="405.9" rx="3.15" ry="3.50"/><ellipse cx="564.7" cy="395.4" rx="3.15" ry="3.50"/><ellipse cx="565.4" cy="408.2" rx="3.15" ry="3.50"/><ellipse cx="566.2" cy="404.4" rx="3.15" ry="3.50"/><ellipse cx="566.9" cy="399.2" rx="3.15" ry="3.50"/><ellipse cx="567.6" cy="393.4" rx="3.15" ry="3.50"/><ellipse cx="568.3" cy="409.9" rx="3.15" ry="3.50"/><ellipse cx="569.0" cy="402.5" rx="3.15" ry="3.50"/><ellipse cx="569.7" cy="401.4" rx="3.15" ry="3.50"/><ellipse cx="570.5" cy="404.4" rx="3.15" ry="3.50"/><ellipse cx="571.2" cy="403.4" rx="3.15" ry="3.50"/><ellipse cx="571.9" cy="398.3" rx="3.15" ry="3.50"/><ellipse cx="572.6" cy="393.1" rx="3.15" ry="3.50"/><ellipse cx="573.3" cy="389.1" rx="3.15" ry="3.50"/><ellipse cx="574.0" cy="393.2" rx="3.15" ry="3.50"/><ellipse cx="574.7" cy="391.1" rx="3.15" ry="3.50"/><ellipse cx="575.3" cy="395.9" rx="3.15" ry="3.50"/><ellipse cx="576.0" cy="393.3" rx="3.15" ry="3.50"/><ellipse cx="576.7" cy="397.5" rx="3.15" ry="3.50"/><ellipse cx="577.4" cy="415.4" rx="3.15" ry="3.50"/><ellipse cx="578.1" cy="415.6" rx="3.15" ry="3.50"/><ellipse cx="578.8" cy="397.0" rx="3.15" ry="3.50"/><ellipse cx="579.4" cy="397.6" rx="3.15" ry="3.50"/><ellipse cx="580.1" cy="395.0" rx="3.15" ry="3.50"/><ellipse cx="580.8" cy="399.0" rx="3.15" ry="3.50"/><ellipse cx="581.5" cy="399.0" rx="3.15" ry="3.50"/><ellipse cx="582.1" cy="401.0" rx="3.15" ry="3.50"/><ellipse cx="582.8" cy="399.6" rx="3.15" ry="3.50"/><ellipse cx="556.2" cy="416.7" rx="3.15" ry="3.50"/><ellipse cx="561.7" cy="427.0" rx="3.15" ry="3.50"/><ellipse cx="577.5" cy="410.8" rx="3.15" ry="3.50"/><ellipse cx="583.4" cy="415.1" rx="3.15" ry="3.50"/></g>
<g fill="#ff0000"><ellipse cx="76.9" cy="315.6" rx="2.55" ry="2.90"/><ellipse cx="85.9" cy="317.6" rx="2.55" ry="2.90"/><ellipse cx="94.4" cy="319.0" rx="2.55" ry="2.90"/><ellipse cx="102.6" cy="320.5" rx="2.55" ry="2.90"/><ellipse cx="110.5" cy="321.6" rx="2.55" ry="2.90"/><ellipse cx="118.1" cy="324.0" rx="2.55" ry="2.90"/><ellipse cx="125.3" cy="325.4" rx="2.55" ry="2.90"/><ellipse cx="132.3" cy="327.5" rx="2.55" ry="2.90"/><ellipse cx="139.1" cy="329.4" rx="2.55" ry="2.90"/><ellipse cx="145.6" cy="331.4" rx="2.55" ry="2.90"/><ellipse cx="152.0" cy="333.0" rx="2.55" ry="2.90"/><ellipse cx="158.1" cy="334.4" rx="2.55" ry="2.90"/><ellipse cx="164.0" cy="336.4" rx="2.55" ry="2.90"/><ellipse cx="169.8" cy="337.9" rx="2.55" ry="2.90"/><ellipse cx="175.3" cy="339.9" rx="2.55" ry="2.90"/><ellipse cx="180.8" cy="341.6" rx="2.55" ry="2.90"/><ellipse cx="186.0" cy="342.9" rx="2.55" ry="2.90"/><ellipse cx="191.2" cy="344.0" rx="2.55" ry="2.90"/><ellipse cx="196.2" cy="345.2" rx="2.55" ry="2.90"/><ellipse cx="201.1" cy="346.5" rx="2.55" ry="2.90"/><ellipse cx="205.8" cy="348.3" rx="2.55" ry="2.90"/><ellipse cx="210.5" cy="349.7" rx="2.55" ry="2.90"/><ellipse cx="215.0" cy="350.9" rx="2.55" ry="2.90"/><ellipse cx="219.4" cy="352.0" rx="2.55" ry="2.90"/><ellipse cx="223.8" cy="353.0" rx="2.55" ry="2.90"/><ellipse cx="228.0" cy="353.9" rx="2.55" ry="2.90"/><ellipse cx="232.1" cy="354.7" rx="2.55" ry="2.90"/><ellipse cx="236.2" cy="355.6" rx="2.55" ry="2.90"/><ellipse cx="240.2" cy="355.1" rx="2.55" ry="2.90"/><ellipse cx="244.1" cy="358.0" rx="2.55" ry="2.90"/><ellipse cx="247.9" cy="359.8" rx="2.55" ry="2.90"/><ellipse cx="251.6" cy="359.2" rx="2.55" ry="2.90"/><ellipse cx="255.3" cy="359.8" rx="2.55" ry="2.90"/><ellipse cx="258.9" cy="362.9" rx="2.55" ry="2.90"/><ellipse cx="262.4" cy="365.0" rx="2.55" ry="2.90"/><ellipse cx="265.9" cy="366.9" rx="2.55" ry="2.90"/><ellipse cx="269.3" cy="365.2" rx="2.55" ry="2.90"/><ellipse cx="272.7" cy="366.0" rx="2.55" ry="2.90"/><ellipse cx="276.0" cy="369.3" rx="2.55" ry="2.90"/><ellipse cx="279.2" cy="370.0" rx="2.55" ry="2.90"/><ellipse cx="282.4" cy="372.3" rx="2.55" ry="2.90"/><ellipse cx="285.5" cy="372.6" rx="2.55" ry="2.90"/><ellipse cx="288.6" cy="371.8" rx="2.55" ry="2.90"/><ellipse cx="291.6" cy="371.6" rx="2.55" ry="2.90"/><ellipse cx="294.6" cy="374.9" rx="2.55" ry="2.90"/><ellipse cx="297.6" cy="371.2" rx="2.55" ry="2.90"/><ellipse cx="300.5" cy="370.4" rx="2.55" ry="2.90"/><ellipse cx="303.3" cy="369.9" rx="2.55" ry="2.90"/><ellipse cx="306.1" cy="372.4" rx="2.55" ry="2.90"/><ellipse cx="308.9" cy="374.3" rx="2.55" ry="2.90"/><ellipse cx="311.6" cy="375.1" rx="2.55" ry="2.90"/><ellipse cx="314.3" cy="377.0" rx="2.55" ry="2.90"/><ellipse cx="317.0" cy="378.6" rx="2.55" ry="2.90"/><ellipse cx="319.6" cy="379.5" rx="2.55" ry="2.90"/><ellipse cx="322.2" cy="379.9" rx="2.55" ry="2.90"/><ellipse cx="324.7" cy="378.7" rx="2.55" ry="2.90"/><ellipse cx="327.3" cy="376.2" rx="2.55" ry="2.90"/><ellipse cx="329.8" cy="379.1" rx="2.55" ry="2.90"/><ellipse cx="332.2" cy="375.2" rx="2.55" ry="2.90"/><ellipse cx="334.6" cy="378.2" rx="2.55" ry="2.90"/><ellipse cx="337.0" cy="375.7" rx="2.55" ry="2.90"/><ellipse cx="339.4" cy="379.4" rx="2.55" ry="2.90"/><ellipse cx="341.7" cy="378.1" rx="2.55" ry="2.90"/><ellipse cx="344.0" cy="380.7" rx="2.55" ry="2.90"/><ellipse cx="346.3" cy="388.0" rx="2.55" ry="2.90"/><ellipse cx="348.6" cy="381.1" rx="2.55" ry="2.90"/><ellipse cx="350.8" cy="383.5" rx="2.55" ry="2.90"/><ellipse cx="353.0" cy="379.3" rx="2.55" ry="2.90"/><ellipse cx="355.2" cy="382.2" rx="2.55" ry="2.90"/><ellipse cx="357.3" cy="384.9" rx="2.55" ry="2.90"/><ellipse cx="359.5" cy="383.8" rx="2.55" ry="2.90"/><ellipse cx="361.6" cy="385.4" rx="2.55" ry="2.90"/><ellipse cx="363.6" cy="385.3" rx="2.55" ry="2.90"/><ellipse cx="365.7" cy="383.4" rx="2.55" ry="2.90"/><ellipse cx="367.7" cy="387.5" rx="2.55" ry="2.90"/><ellipse cx="369.8" cy="385.1" rx="2.55" ry="2.90"/><ellipse cx="371.8" cy="391.6" rx="2.55" ry="2.90"/><ellipse cx="373.7" cy="386.9" rx="2.55" ry="2.90"/><ellipse cx="375.7" cy="390.0" rx="2.55" ry="2.90"/><ellipse cx="377.6" cy="388.9" rx="2.55" ry="2.90"/><ellipse cx="379.6" cy="391.3" rx="2.55" ry="2.90"/><ellipse cx="381.4" cy="388.0" rx="2.55" ry="2.90"/><ellipse cx="383.3" cy="391.6" rx="2.55" ry="2.90"/><ellipse cx="385.2" cy="389.3" rx="2.55" ry="2.90"/><ellipse cx="387.0" cy="392.4" rx="2.55" ry="2.90"/><ellipse cx="388.9" cy="391.0" rx="2.55" ry="2.90"/><ellipse cx="390.7" cy="390.1" rx="2.55" ry="2.90"/><ellipse cx="392.5" cy="388.1" rx="2.55" ry="2.90"/><ellipse cx="394.2" cy="391.6" rx="2.55" ry="2.90"/><ellipse cx="396.0" cy="391.0" rx="2.55" ry="2.90"/><ellipse cx="397.7" cy="393.7" rx="2.55" ry="2.90"/><ellipse cx="399.5" cy="389.3" rx="2.55" ry="2.90"/><ellipse cx="401.2" cy="391.4" rx="2.55" ry="2.90"/><ellipse cx="402.9" cy="391.4" rx="2.55" ry="2.90"/><ellipse cx="404.6" cy="391.0" rx="2.55" ry="2.90"/><ellipse cx="406.2" cy="390.9" rx="2.55" ry="2.90"/><ellipse cx="407.9" cy="390.9" rx="2.55" ry="2.90"/><ellipse cx="409.5" cy="389.3" rx="2.55" ry="2.90"/><ellipse cx="411.2" cy="388.6" rx="2.55" ry="2.90"/><ellipse cx="412.8" cy="390.1" rx="2.55" ry="2.90"/><ellipse cx="414.4" cy="392.5" rx="2.55" ry="2.90"/><ellipse cx="416.0" cy="395.0" rx="2.55" ry="2.90"/><ellipse cx="417.5" cy="394.6" rx="2.55" ry="2.90"/><ellipse cx="419.1" cy="395.5" rx="2.55" ry="2.90"/><ellipse cx="420.6" cy="395.8" rx="2.55" ry="2.90"/><ellipse cx="422.2" cy="396.4" rx="2.55" ry="2.90"/><ellipse cx="423.7" cy="396.0" rx="2.55" ry="2.90"/><ellipse cx="425.2" cy="394.0" rx="2.55" ry="2.90"/><ellipse cx="426.7" cy="394.1" rx="2.55" ry="2.90"/><ellipse cx="428.2" cy="389.0" rx="2.55" ry="2.90"/><ellipse cx="429.7" cy="383.5" rx="2.55" ry="2.90"/><ellipse cx="431.1" cy="405.7" rx="2.55" ry="2.90"/><ellipse cx="432.6" cy="392.3" rx="2.55" ry="2.90"/><ellipse cx="434.0" cy="395.4" rx="2.55" ry="2.90"/><ellipse cx="435.5" cy="404.0" rx="2.55" ry="2.90"/><ellipse cx="436.9" cy="394.3" rx="2.55" ry="2.90"/><ellipse cx="438.3" cy="389.4" rx="2.55" ry="2.90"/><ellipse cx="439.7" cy="387.3" rx="2.55" ry="2.90"/><ellipse cx="441.1" cy="384.1" rx="2.55" ry="2.90"/><ellipse cx="442.5" cy="394.5" rx="2.55" ry="2.90"/><ellipse cx="443.8" cy="396.1" rx="2.55" ry="2.90"/><ellipse cx="445.2" cy="401.6" rx="2.55" ry="2.90"/><ellipse cx="446.6" cy="393.4" rx="2.55" ry="2.90"/><ellipse cx="447.9" cy="391.7" rx="2.55" ry="2.90"/><ellipse cx="449.2" cy="394.1" rx="2.55" ry="2.90"/><ellipse cx="450.6" cy="386.3" rx="2.55" ry="2.90"/><ellipse cx="451.9" cy="388.9" rx="2.55" ry="2.90"/><ellipse cx="453.2" cy="397.6" rx="2.55" ry="2.90"/><ellipse cx="454.5" cy="404.3" rx="2.55" ry="2.90"/><ellipse cx="455.8" cy="398.2" rx="2.55" ry="2.90"/><ellipse cx="457.0" cy="385.6" rx="2.55" ry="2.90"/><ellipse cx="458.3" cy="385.8" rx="2.55" ry="2.90"/><ellipse cx="459.6" cy="399.3" rx="2.55" ry="2.90"/><ellipse cx="460.8" cy="390.3" rx="2.55" ry="2.90"/><ellipse cx="462.1" cy="394.2" rx="2.55" ry="2.90"/><ellipse cx="463.3" cy="395.1" rx="2.55" ry="2.90"/><ellipse cx="464.6" cy="397.7" rx="2.55" ry="2.90"/><ellipse cx="465.8" cy="399.7" rx="2.55" ry="2.90"/><ellipse cx="467.0" cy="393.6" rx="2.55" ry="2.90"/><ellipse cx="468.2" cy="393.9" rx="2.55" ry="2.90"/><ellipse cx="469.4" cy="400.4" rx="2.55" ry="2.90"/><ellipse cx="470.6" cy="399.4" rx="2.55" ry="2.90"/><ellipse cx="471.8" cy="404.4" rx="2.55" ry="2.90"/><ellipse cx="473.0" cy="401.8" rx="2.55" ry="2.90"/><ellipse cx="474.1" cy="401.9" rx="2.55" ry="2.90"/><ellipse cx="475.3" cy="406.5" rx="2.55" ry="2.90"/><ellipse cx="476.5" cy="406.6" rx="2.55" ry="2.90"/><ellipse cx="477.6" cy="397.9" rx="2.55" ry="2.90"/><ellipse cx="478.7" cy="400.7" rx="2.55" ry="2.90"/><ellipse cx="479.9" cy="396.4" rx="2.55" ry="2.90"/><ellipse cx="481.0" cy="399.4" rx="2.55" ry="2.90"/><ellipse cx="482.1" cy="394.4" rx="2.55" ry="2.90"/><ellipse cx="483.3" cy="388.7" rx="2.55" ry="2.90"/><ellipse cx="484.4" cy="388.2" rx="2.55" ry="2.90"/><ellipse cx="485.5" cy="389.3" rx="2.55" ry="2.90"/><ellipse cx="486.6" cy="390.2" rx="2.55" ry="2.90"/><ellipse cx="487.7" cy="397.8" rx="2.55" ry="2.90"/><ellipse cx="488.7" cy="391.7" rx="2.55" ry="2.90"/><ellipse cx="489.8" cy="388.6" rx="2.55" ry="2.90"/><ellipse cx="490.9" cy="400.7" rx="2.55" ry="2.90"/><ellipse cx="492.0" cy="397.6" rx="2.55" ry="2.90"/><ellipse cx="493.0" cy="398.2" rx="2.55" ry="2.90"/><ellipse cx="494.1" cy="395.6" rx="2.55" ry="2.90"/><ellipse cx="495.1" cy="390.4" rx="2.55" ry="2.90"/><ellipse cx="496.2" cy="392.4" rx="2.55" ry="2.90"/><ellipse cx="497.2" cy="394.4" rx="2.55" ry="2.90"/><ellipse cx="498.2" cy="395.8" rx="2.55" ry="2.90"/><ellipse cx="499.3" cy="398.7" rx="2.55" ry="2.90"/><ellipse cx="500.3" cy="389.0" rx="2.55" ry="2.90"/><ellipse cx="501.3" cy="395.0" rx="2.55" ry="2.90"/><ellipse cx="502.3" cy="397.0" rx="2.55" ry="2.90"/><ellipse cx="503.3" cy="401.4" rx="2.55" ry="2.90"/><ellipse cx="504.3" cy="402.9" rx="2.55" ry="2.90"/><ellipse cx="505.3" cy="397.1" rx="2.55" ry="2.90"/><ellipse cx="506.3" cy="400.2" rx="2.55" ry="2.90"/><ellipse cx="507.3" cy="402.8" rx="2.55" ry="2.90"/><ellipse cx="508.3" cy="397.3" rx="2.55" ry="2.90"/><ellipse cx="509.3" cy="397.9" rx="2.55" ry="2.90"/><ellipse cx="510.2" cy="390.1" rx="2.55" ry="2.90"/><ellipse cx="511.2" cy="395.0" rx="2.55" ry="2.90"/><ellipse cx="512.2" cy="390.7" rx="2.55" ry="2.90"/><ellipse cx="513.1" cy="392.2" rx="2.55" ry="2.90"/><ellipse cx="514.1" cy="404.2" rx="2.55" ry="2.90"/><ellipse cx="515.0" cy="404.5" rx="2.55" ry="2.90"/><ellipse cx="516.0" cy="389.5" rx="2.55" ry="2.90"/><ellipse cx="516.9" cy="396.4" rx="2.55" ry="2.90"/><ellipse cx="517.8" cy="389.9" rx="2.55" ry="2.90"/><ellipse cx="518.8" cy="391.5" rx="2.55" ry="2.90"/><ellipse cx="519.7" cy="393.2" rx="2.55" ry="2.90"/><ellipse cx="520.6" cy="394.4" rx="2.55" ry="2.90"/><ellipse cx="521.5" cy="389.3" rx="2.55" ry="2.90"/><ellipse cx="522.4" cy="386.5" rx="2.55" ry="2.90"/><ellipse cx="523.3" cy="387.5" rx="2.55" ry="2.90"/><ellipse cx="524.2" cy="392.7" rx="2.55" ry="2.90"/><ellipse cx="525.1" cy="394.4" rx="2.55" ry="2.90"/><ellipse cx="526.0" cy="389.9" rx="2.55" ry="2.90"/><ellipse cx="526.9" cy="389.1" rx="2.55" ry="2.90"/><ellipse cx="527.8" cy="386.0" rx="2.55" ry="2.90"/><ellipse cx="528.7" cy="386.0" rx="2.55" ry="2.90"/><ellipse cx="529.6" cy="407.2" rx="2.55" ry="2.90"/><ellipse cx="530.4" cy="393.0" rx="2.55" ry="2.90"/><ellipse cx="531.3" cy="390.6" rx="2.55" ry="2.90"/><ellipse cx="532.2" cy="395.5" rx="2.55" ry="2.90"/><ellipse cx="533.0" cy="392.3" rx="2.55" ry="2.90"/><ellipse cx="533.9" cy="396.1" rx="2.55" ry="2.90"/><ellipse cx="534.8" cy="386.6" rx="2.55" ry="2.90"/><ellipse cx="535.6" cy="391.4" rx="2.55" ry="2.90"/><ellipse cx="536.4" cy="399.8" rx="2.55" ry="2.90"/><ellipse cx="537.3" cy="397.3" rx="2.55" ry="2.90"/><ellipse cx="538.1" cy="393.2" rx="2.55" ry="2.90"/><ellipse cx="539.0" cy="399.8" rx="2.55" ry="2.90"/><ellipse cx="539.8" cy="397.4" rx="2.55" ry="2.90"/><ellipse cx="540.6" cy="404.8" rx="2.55" ry="2.90"/><ellipse cx="541.5" cy="406.1" rx="2.55" ry="2.90"/><ellipse cx="542.3" cy="388.7" rx="2.55" ry="2.90"/><ellipse cx="543.1" cy="401.4" rx="2.55" ry="2.90"/><ellipse cx="543.9" cy="408.2" rx="2.55" ry="2.90"/><ellipse cx="544.7" cy="401.9" rx="2.55" ry="2.90"/><ellipse cx="545.5" cy="401.8" rx="2.55" ry="2.90"/><ellipse cx="546.3" cy="402.2" rx="2.55" ry="2.90"/><ellipse cx="547.1" cy="404.3" rx="2.55" ry="2.90"/><ellipse cx="547.9" cy="395.6" rx="2.55" ry="2.90"/><ellipse cx="548.7" cy="398.1" rx="2.55" ry="2.90"/><ellipse cx="549.5" cy="397.1" rx="2.55" ry="2.90"/><ellipse cx="550.3" cy="395.1" rx="2.55" ry="2.90"/><ellipse cx="551.1" cy="403.3" rx="2.55" ry="2.90"/><ellipse cx="551.9" cy="404.4" rx="2.55" ry="2.90"/><ellipse cx="552.7" cy="396.6" rx="2.55" ry="2.90"/><ellipse cx="553.4" cy="402.4" rx="2.55" ry="2.90"/><ellipse cx="554.2" cy="391.8" rx="2.55" ry="2.90"/><ellipse cx="555.0" cy="399.1" rx="2.55" ry="2.90"/><ellipse cx="555.7" cy="396.9" rx="2.55" ry="2.90"/><ellipse cx="556.5" cy="391.1" rx="2.55" ry="2.90"/><ellipse cx="557.3" cy="405.2" rx="2.55" ry="2.90"/><ellipse cx="558.0" cy="388.9" rx="2.55" ry="2.90"/><ellipse cx="558.8" cy="390.7" rx="2.55" ry="2.90"/><ellipse cx="559.5" cy="398.9" rx="2.55" ry="2.90"/><ellipse cx="560.3" cy="391.3" rx="2.55" ry="2.90"/><ellipse cx="561.0" cy="403.1" rx="2.55" ry="2.90"/><ellipse cx="561.8" cy="397.3" rx="2.55" ry="2.90"/><ellipse cx="562.5" cy="399.9" rx="2.55" ry="2.90"/><ellipse cx="563.2" cy="401.7" rx="2.55" ry="2.90"/><ellipse cx="564.0" cy="405.9" rx="2.55" ry="2.90"/><ellipse cx="564.7" cy="395.4" rx="2.55" ry="2.90"/><ellipse cx="565.4" cy="408.2" rx="2.55" ry="2.90"/><ellipse cx="566.2" cy="404.4" rx="2.55" ry="2.90"/><ellipse cx="566.9" cy="399.2" rx="2.55" ry="2.90"/><ellipse cx="567.6" cy="393.4" rx="2.55" ry="2.90"/><ellipse cx="568.3" cy="409.9" rx="2.55" ry="2.90"/><ellipse cx="569.0" cy="402.5" rx="2.55" ry="2.90"/><ellipse cx="569.7" cy="401.4" rx="2.55" ry="2.90"/><ellipse cx="570.5" cy="404.4" rx="2.55" ry="2.90"/><ellipse cx="571.2" cy="403.4" rx="2.55" ry="2.90"/><ellipse cx="571.9" cy="398.3" rx="2.55" ry="2.90"/><ellipse cx="572.6" cy="393.1" rx="2.55" ry="2.90"/><ellipse cx="573.3" cy="389.1" rx="2.55" ry="2.90"/><ellipse cx="574.0" cy="393.2" rx="2.55" ry="2.90"/><ellipse cx="574.7" cy="391.1" rx="2.55" ry="2.90"/><ellipse cx="575.3" cy="395.9" rx="2.55" ry="2.90"/><ellipse cx="576.0" cy="393.3" rx="2.55" ry="2.90"/><ellipse cx="576.7" cy="397.5" rx="2.55" ry="2.90"/><ellipse cx="577.4" cy="415.4" rx="2.55" ry="2.90"/><ellipse cx="578.1" cy="415.6" rx="2.55" ry="2.90"/><ellipse cx="578.8" cy="397.0" rx="2.55" ry="2.90"/><ellipse cx="579.4" cy="397.6" rx="2.55" ry="2.90"/><ellipse cx="580.1" cy="395.0" rx="2.55" ry="2.90"/><ellipse cx="580.8" cy="399.0" rx="2.55" ry="2.90"/><ellipse cx="581.5" cy="399.0" rx="2.55" ry="2.90"/><ellipse cx="582.1" cy="401.0" rx="2.55" ry="2.90"/><ellipse cx="582.8" cy="399.6" rx="2.55" ry="2.90"/><ellipse cx="556.2" cy="416.7" rx="2.55" ry="2.90"/><ellipse cx="561.7" cy="427.0" rx="2.55" ry="2.90"/><ellipse cx="577.5" cy="410.8" rx="2.55" ry="2.90"/><ellipse cx="583.4" cy="415.1" rx="2.55" ry="2.90"/></g>
<g fill="#000000"><ellipse cx="85.9" cy="307.6" rx="3.10" ry="3.45"/><ellipse cx="102.6" cy="312.9" rx="3.10" ry="3.45"/><ellipse cx="118.1" cy="318.4" rx="3.10" ry="3.45"/><ellipse cx="132.3" cy="323.9" rx="3.10" ry="3.45"/><ellipse cx="145.6" cy="330.6" rx="3.10" ry="3.45"/><ellipse cx="158.1" cy="341.0" rx="3.10" ry="3.45"/><ellipse cx="169.8" cy="347.9" rx="3.10" ry="3.45"/><ellipse cx="180.8" cy="350.0" rx="3.10" ry="3.45"/><ellipse cx="191.2" cy="348.3" rx="3.10" ry="3.45"/><ellipse cx="201.1" cy="347.7" rx="3.10" ry="3.45"/><ellipse cx="210.5" cy="349.3" rx="3.10" ry="3.45"/><ellipse cx="219.4" cy="352.9" rx="3.10" ry="3.45"/><ellipse cx="228.0" cy="352.7" rx="3.10" ry="3.45"/><ellipse cx="236.2" cy="354.0" rx="3.10" ry="3.45"/><ellipse cx="244.1" cy="353.5" rx="3.10" ry="3.45"/><ellipse cx="251.6" cy="354.2" rx="3.10" ry="3.45"/><ellipse cx="258.9" cy="356.8" rx="3.10" ry="3.45"/><ellipse cx="265.9" cy="359.1" rx="3.10" ry="3.45"/><ellipse cx="272.7" cy="360.7" rx="3.10" ry="3.45"/><ellipse cx="279.2" cy="359.7" rx="3.10" ry="3.45"/><ellipse cx="285.5" cy="362.1" rx="3.10" ry="3.45"/><ellipse cx="291.6" cy="364.7" rx="3.10" ry="3.45"/><ellipse cx="297.6" cy="368.2" rx="3.10" ry="3.45"/><ellipse cx="303.3" cy="396.7" rx="3.10" ry="3.45"/><ellipse cx="450.6" cy="364.4" rx="3.10" ry="3.45"/><ellipse cx="453.2" cy="357.6" rx="3.10" ry="3.45"/><ellipse cx="455.8" cy="352.7" rx="3.10" ry="3.45"/><ellipse cx="458.3" cy="349.9" rx="3.10" ry="3.45"/><ellipse cx="460.8" cy="348.2" rx="3.10" ry="3.45"/><ellipse cx="463.3" cy="347.1" rx="3.10" ry="3.45"/><ellipse cx="465.8" cy="346.3" rx="3.10" ry="3.45"/><ellipse cx="468.2" cy="345.6" rx="3.10" ry="3.45"/><ellipse cx="470.6" cy="345.0" rx="3.10" ry="3.45"/><ellipse cx="473.0" cy="344.7" rx="3.10" ry="3.45"/><ellipse cx="475.3" cy="344.7" rx="3.10" ry="3.45"/><ellipse cx="477.6" cy="344.7" rx="3.10" ry="3.45"/><ellipse cx="479.9" cy="344.7" rx="3.10" ry="3.45"/><ellipse cx="482.1" cy="344.8" rx="3.10" ry="3.45"/><ellipse cx="484.4" cy="345.0" rx="3.10" ry="3.45"/><ellipse cx="486.6" cy="345.3" rx="3.10" ry="3.45"/><ellipse cx="488.7" cy="345.7" rx="3.10" ry="3.45"/><ellipse cx="490.9" cy="346.2" rx="3.10" ry="3.45"/><ellipse cx="493.0" cy="346.7" rx="3.10" ry="3.45"/><ellipse cx="495.1" cy="347.1" rx="3.10" ry="3.45"/><ellipse cx="497.2" cy="347.3" rx="3.10" ry="3.45"/><ellipse cx="499.3" cy="347.2" rx="3.10" ry="3.45"/><ellipse cx="501.3" cy="346.9" rx="3.10" ry="3.45"/><ellipse cx="503.3" cy="346.6" rx="3.10" ry="3.45"/><ellipse cx="505.3" cy="346.2" rx="3.10" ry="3.45"/><ellipse cx="507.3" cy="345.7" rx="3.10" ry="3.45"/><ellipse cx="509.3" cy="345.3" rx="3.10" ry="3.45"/><ellipse cx="511.2" cy="344.9" rx="3.10" ry="3.45"/><ellipse cx="513.1" cy="344.6" rx="3.10" ry="3.45"/><ellipse cx="515.0" cy="344.2" rx="3.10" ry="3.45"/><ellipse cx="516.9" cy="343.8" rx="3.10" ry="3.45"/><ellipse cx="518.8" cy="343.5" rx="3.10" ry="3.45"/><ellipse cx="520.6" cy="343.2" rx="3.10" ry="3.45"/><ellipse cx="522.4" cy="342.9" rx="3.10" ry="3.45"/><ellipse cx="524.2" cy="342.6" rx="3.10" ry="3.45"/><ellipse cx="526.0" cy="342.3" rx="3.10" ry="3.45"/><ellipse cx="527.8" cy="342.0" rx="3.10" ry="3.45"/><ellipse cx="529.6" cy="341.8" rx="3.10" ry="3.45"/><ellipse cx="531.3" cy="341.5" rx="3.10" ry="3.45"/><ellipse cx="533.0" cy="341.3" rx="3.10" ry="3.45"/><ellipse cx="534.8" cy="341.0" rx="3.10" ry="3.45"/><ellipse cx="536.4" cy="340.7" rx="3.10" ry="3.45"/><ellipse cx="538.1" cy="340.4" rx="3.10" ry="3.45"/><ellipse cx="539.8" cy="340.2" rx="3.10" ry="3.45"/><ellipse cx="541.5" cy="339.8" rx="3.10" ry="3.45"/><ellipse cx="543.1" cy="339.5" rx="3.10" ry="3.45"/><ellipse cx="544.7" cy="339.2" rx="3.10" ry="3.45"/><ellipse cx="546.3" cy="338.8" rx="3.10" ry="3.45"/><ellipse cx="547.9" cy="338.4" rx="3.10" ry="3.45"/><ellipse cx="549.5" cy="338.0" rx="3.10" ry="3.45"/><ellipse cx="551.1" cy="337.6" rx="3.10" ry="3.45"/><ellipse cx="552.7" cy="337.3" rx="3.10" ry="3.45"/><ellipse cx="554.2" cy="336.9" rx="3.10" ry="3.45"/><ellipse cx="555.7" cy="336.6" rx="3.10" ry="3.45"/><ellipse cx="557.3" cy="336.3" rx="3.10" ry="3.45"/><ellipse cx="558.8" cy="336.0" rx="3.10" ry="3.45"/><ellipse cx="560.3" cy="335.7" rx="3.10" ry="3.45"/><ellipse cx="561.8" cy="335.5" rx="3.10" ry="3.45"/><ellipse cx="563.2" cy="335.3" rx="3.10" ry="3.45"/><ellipse cx="564.7" cy="335.2" rx="3.10" ry="3.45"/><ellipse cx="566.2" cy="335.1" rx="3.10" ry="3.45"/><ellipse cx="567.6" cy="335.0" rx="3.10" ry="3.45"/><ellipse cx="569.0" cy="335.0" rx="3.10" ry="3.45"/><ellipse cx="570.5" cy="335.0" rx="3.10" ry="3.45"/><ellipse cx="571.9" cy="335.1" rx="3.10" ry="3.45"/><ellipse cx="573.3" cy="335.2" rx="3.10" ry="3.45"/><ellipse cx="574.7" cy="335.3" rx="3.10" ry="3.45"/><ellipse cx="576.0" cy="335.4" rx="3.10" ry="3.45"/><ellipse cx="577.4" cy="335.5" rx="3.10" ry="3.45"/><ellipse cx="578.8" cy="335.7" rx="3.10" ry="3.45"/><ellipse cx="580.1" cy="335.9" rx="3.10" ry="3.45"/><ellipse cx="581.5" cy="336.1" rx="3.10" ry="3.45"/><ellipse cx="582.8" cy="336.5" rx="3.10" ry="3.45"/><ellipse cx="584.1" cy="336.9" rx="3.10" ry="3.45"/><ellipse cx="585.4" cy="337.3" rx="3.10" ry="3.45"/><ellipse cx="586.7" cy="337.8" rx="3.10" ry="3.45"/><ellipse cx="588.0" cy="338.4" rx="3.10" ry="3.45"/><ellipse cx="589.3" cy="338.9" rx="3.10" ry="3.45"/></g>
<g fill="#0022b0"><ellipse cx="85.9" cy="305.6" rx="3.10" ry="3.45"/><ellipse cx="102.6" cy="306.4" rx="3.10" ry="3.45"/><ellipse cx="118.1" cy="307.0" rx="3.10" ry="3.45"/><ellipse cx="132.3" cy="308.0" rx="3.10" ry="3.45"/><ellipse cx="145.6" cy="308.6" rx="3.10" ry="3.45"/><ellipse cx="158.1" cy="309.4" rx="3.10" ry="3.45"/><ellipse cx="169.8" cy="310.0" rx="3.10" ry="3.45"/><ellipse cx="180.8" cy="311.5" rx="3.10" ry="3.45"/><ellipse cx="191.2" cy="312.4" rx="3.10" ry="3.45"/><ellipse cx="201.1" cy="313.2" rx="3.10" ry="3.45"/><ellipse cx="210.5" cy="314.2" rx="3.10" ry="3.45"/><ellipse cx="219.4" cy="315.3" rx="3.10" ry="3.45"/><ellipse cx="228.0" cy="316.5" rx="3.10" ry="3.45"/><ellipse cx="236.2" cy="317.7" rx="3.10" ry="3.45"/><ellipse cx="244.1" cy="318.7" rx="3.10" ry="3.45"/><ellipse cx="251.6" cy="320.0" rx="3.10" ry="3.45"/><ellipse cx="258.9" cy="321.3" rx="3.10" ry="3.45"/><ellipse cx="265.9" cy="323.0" rx="3.10" ry="3.45"/><ellipse cx="272.7" cy="324.7" rx="3.10" ry="3.45"/><ellipse cx="279.2" cy="326.3" rx="3.10" ry="3.45"/><ellipse cx="285.5" cy="328.9" rx="3.10" ry="3.45"/><ellipse cx="291.6" cy="330.8" rx="3.10" ry="3.45"/><ellipse cx="297.6" cy="333.3" rx="3.10" ry="3.45"/><ellipse cx="303.3" cy="335.8" rx="3.10" ry="3.45"/><ellipse cx="308.9" cy="338.1" rx="3.10" ry="3.45"/><ellipse cx="314.3" cy="339.7" rx="3.10" ry="3.45"/><ellipse cx="319.6" cy="340.8" rx="3.10" ry="3.45"/><ellipse cx="324.7" cy="341.9" rx="3.10" ry="3.45"/><ellipse cx="329.8" cy="343.4" rx="3.10" ry="3.45"/><ellipse cx="334.6" cy="344.4" rx="3.10" ry="3.45"/><ellipse cx="339.4" cy="345.4" rx="3.10" ry="3.45"/><ellipse cx="344.0" cy="347.3" rx="3.10" ry="3.45"/><ellipse cx="348.6" cy="348.7" rx="3.10" ry="3.45"/><ellipse cx="353.0" cy="355.8" rx="3.10" ry="3.45"/><ellipse cx="357.3" cy="357.5" rx="3.10" ry="3.45"/><ellipse cx="361.6" cy="355.8" rx="3.10" ry="3.45"/><ellipse cx="365.7" cy="350.8" rx="3.10" ry="3.45"/><ellipse cx="369.8" cy="347.5" rx="3.10" ry="3.45"/><ellipse cx="373.7" cy="345.8" rx="3.10" ry="3.45"/><ellipse cx="377.6" cy="345.8" rx="3.10" ry="3.45"/><ellipse cx="381.4" cy="347.5" rx="3.10" ry="3.45"/><ellipse cx="385.2" cy="350.0" rx="3.10" ry="3.45"/><ellipse cx="388.9" cy="352.5" rx="3.10" ry="3.45"/><ellipse cx="392.5" cy="356.7" rx="3.10" ry="3.45"/><ellipse cx="396.0" cy="360.8" rx="3.10" ry="3.45"/><ellipse cx="399.5" cy="381.7" rx="3.10" ry="3.45"/><ellipse cx="416.0" cy="383.3" rx="3.10" ry="3.45"/><ellipse cx="419.1" cy="364.2" rx="3.10" ry="3.45"/><ellipse cx="422.2" cy="355.0" rx="3.10" ry="3.45"/><ellipse cx="425.2" cy="352.2" rx="3.10" ry="3.45"/><ellipse cx="428.2" cy="349.7" rx="3.10" ry="3.45"/><ellipse cx="431.1" cy="347.5" rx="3.10" ry="3.45"/><ellipse cx="434.0" cy="345.7" rx="3.10" ry="3.45"/><ellipse cx="436.9" cy="344.1" rx="3.10" ry="3.45"/><ellipse cx="439.7" cy="342.5" rx="3.10" ry="3.45"/><ellipse cx="442.5" cy="340.8" rx="3.10" ry="3.45"/><ellipse cx="445.2" cy="339.4" rx="3.10" ry="3.45"/><ellipse cx="447.9" cy="338.2" rx="3.10" ry="3.45"/><ellipse cx="450.6" cy="337.4" rx="3.10" ry="3.45"/><ellipse cx="453.2" cy="336.7" rx="3.10" ry="3.45"/><ellipse cx="455.8" cy="336.3" rx="3.10" ry="3.45"/><ellipse cx="458.3" cy="335.9" rx="3.10" ry="3.45"/><ellipse cx="460.8" cy="335.5" rx="3.10" ry="3.45"/><ellipse cx="463.3" cy="335.3" rx="3.10" ry="3.45"/><ellipse cx="465.8" cy="335.1" rx="3.10" ry="3.45"/><ellipse cx="468.2" cy="334.9" rx="3.10" ry="3.45"/><ellipse cx="470.6" cy="334.8" rx="3.10" ry="3.45"/><ellipse cx="473.0" cy="334.7" rx="3.10" ry="3.45"/><ellipse cx="475.3" cy="334.8" rx="3.10" ry="3.45"/><ellipse cx="477.6" cy="335.0" rx="3.10" ry="3.45"/><ellipse cx="479.9" cy="335.3" rx="3.10" ry="3.45"/><ellipse cx="482.1" cy="335.5" rx="3.10" ry="3.45"/><ellipse cx="484.4" cy="335.8" rx="3.10" ry="3.45"/><ellipse cx="486.6" cy="336.0" rx="3.10" ry="3.45"/><ellipse cx="488.7" cy="336.2" rx="3.10" ry="3.45"/><ellipse cx="490.9" cy="336.5" rx="3.10" ry="3.45"/><ellipse cx="493.0" cy="336.7" rx="3.10" ry="3.45"/><ellipse cx="495.1" cy="336.9" rx="3.10" ry="3.45"/><ellipse cx="497.2" cy="337.0" rx="3.10" ry="3.45"/><ellipse cx="499.3" cy="337.2" rx="3.10" ry="3.45"/><ellipse cx="501.3" cy="337.3" rx="3.10" ry="3.45"/><ellipse cx="503.3" cy="337.5" rx="3.10" ry="3.45"/><ellipse cx="505.3" cy="337.6" rx="3.10" ry="3.45"/><ellipse cx="507.3" cy="337.7" rx="3.10" ry="3.45"/><ellipse cx="509.3" cy="337.9" rx="3.10" ry="3.45"/><ellipse cx="511.2" cy="338.1" rx="3.10" ry="3.45"/><ellipse cx="513.1" cy="338.3" rx="3.10" ry="3.45"/><ellipse cx="515.0" cy="338.5" rx="3.10" ry="3.45"/><ellipse cx="516.9" cy="338.6" rx="3.10" ry="3.45"/><ellipse cx="518.8" cy="338.7" rx="3.10" ry="3.45"/><ellipse cx="520.6" cy="338.7" rx="3.10" ry="3.45"/><ellipse cx="522.4" cy="338.5" rx="3.10" ry="3.45"/><ellipse cx="524.2" cy="338.0" rx="3.10" ry="3.45"/><ellipse cx="526.0" cy="337.6" rx="3.10" ry="3.45"/><ellipse cx="527.8" cy="337.1" rx="3.10" ry="3.45"/><ellipse cx="529.6" cy="336.7" rx="3.10" ry="3.45"/><ellipse cx="531.3" cy="336.4" rx="3.10" ry="3.45"/><ellipse cx="533.0" cy="336.0" rx="3.10" ry="3.45"/><ellipse cx="534.8" cy="335.7" rx="3.10" ry="3.45"/><ellipse cx="536.4" cy="335.3" rx="3.10" ry="3.45"/><ellipse cx="538.1" cy="335.0" rx="3.10" ry="3.45"/><ellipse cx="539.8" cy="334.7" rx="3.10" ry="3.45"/><ellipse cx="541.5" cy="334.3" rx="3.10" ry="3.45"/><ellipse cx="543.1" cy="334.0" rx="3.10" ry="3.45"/><ellipse cx="544.7" cy="333.6" rx="3.10" ry="3.45"/><ellipse cx="546.3" cy="333.2" rx="3.10" ry="3.45"/><ellipse cx="547.9" cy="332.8" rx="3.10" ry="3.45"/><ellipse cx="549.5" cy="332.5" rx="3.10" ry="3.45"/><ellipse cx="551.1" cy="332.3" rx="3.10" ry="3.45"/><ellipse cx="552.7" cy="332.3" rx="3.10" ry="3.45"/><ellipse cx="554.2" cy="332.4" rx="3.10" ry="3.45"/><ellipse cx="555.7" cy="332.5" rx="3.10" ry="3.45"/><ellipse cx="557.3" cy="332.8" rx="3.10" ry="3.45"/><ellipse cx="558.8" cy="333.1" rx="3.10" ry="3.45"/><ellipse cx="560.3" cy="333.4" rx="3.10" ry="3.45"/><ellipse cx="561.8" cy="333.7" rx="3.10" ry="3.45"/><ellipse cx="563.2" cy="334.1" rx="3.10" ry="3.45"/><ellipse cx="564.7" cy="334.6" rx="3.10" ry="3.45"/><ellipse cx="566.2" cy="335.2" rx="3.10" ry="3.45"/><ellipse cx="567.6" cy="335.9" rx="3.10" ry="3.45"/><ellipse cx="569.0" cy="336.7" rx="3.10" ry="3.45"/><ellipse cx="570.5" cy="337.7" rx="3.10" ry="3.45"/><ellipse cx="571.9" cy="338.8" rx="3.10" ry="3.45"/><ellipse cx="573.3" cy="340.0" rx="3.10" ry="3.45"/><ellipse cx="574.7" cy="341.4" rx="3.10" ry="3.45"/><ellipse cx="576.0" cy="342.8" rx="3.10" ry="3.45"/><ellipse cx="577.4" cy="344.4" rx="3.10" ry="3.45"/><ellipse cx="578.8" cy="346.6" rx="3.10" ry="3.45"/><ellipse cx="580.1" cy="350.2" rx="3.10" ry="3.45"/><ellipse cx="581.5" cy="355.7" rx="3.10" ry="3.45"/><ellipse cx="582.8" cy="363.0" rx="3.10" ry="3.45"/></g>
<g fill="#0a3cff"><ellipse cx="85.9" cy="305.6" rx="2.60" ry="2.95"/><ellipse cx="102.6" cy="306.4" rx="2.60" ry="2.95"/><ellipse cx="118.1" cy="307.0" rx="2.60" ry="2.95"/><ellipse cx="132.3" cy="308.0" rx="2.60" ry="2.95"/><ellipse cx="145.6" cy="308.6" rx="2.60" ry="2.95"/><ellipse cx="158.1" cy="309.4" rx="2.60" ry="2.95"/><ellipse cx="169.8" cy="310.0" rx="2.60" ry="2.95"/><ellipse cx="180.8" cy="311.5" rx="2.60" ry="2.95"/><ellipse cx="191.2" cy="312.4" rx="2.60" ry="2.95"/><ellipse cx="201.1" cy="313.2" rx="2.60" ry="2.95"/><ellipse cx="210.5" cy="314.2" rx="2.60" ry="2.95"/><ellipse cx="219.4" cy="315.3" rx="2.60" ry="2.95"/><ellipse cx="228.0" cy="316.5" rx="2.60" ry="2.95"/><ellipse cx="236.2" cy="317.7" rx="2.60" ry="2.95"/><ellipse cx="244.1" cy="318.7" rx="2.60" ry="2.95"/><ellipse cx="251.6" cy="320.0" rx="2.60" ry="2.95"/><ellipse cx="258.9" cy="321.3" rx="2.60" ry="2.95"/><ellipse cx="265.9" cy="323.0" rx="2.60" ry="2.95"/><ellipse cx="272.7" cy="324.7" rx="2.60" ry="2.95"/><ellipse cx="279.2" cy="326.3" rx="2.60" ry="2.95"/><ellipse cx="285.5" cy="328.9" rx="2.60" ry="2.95"/><ellipse cx="291.6" cy="330.8" rx="2.60" ry="2.95"/><ellipse cx="297.6" cy="333.3" rx="2.60" ry="2.95"/><ellipse cx="303.3" cy="335.8" rx="2.60" ry="2.95"/><ellipse cx="308.9" cy="338.1" rx="2.60" ry="2.95"/><ellipse cx="314.3" cy="339.7" rx="2.60" ry="2.95"/><ellipse cx="319.6" cy="340.8" rx="2.60" ry="2.95"/><ellipse cx="324.7" cy="341.9" rx="2.60" ry="2.95"/><ellipse cx="329.8" cy="343.4" rx="2.60" ry="2.95"/><ellipse cx="334.6" cy="344.4" rx="2.60" ry="2.95"/><ellipse cx="339.4" cy="345.4" rx="2.60" ry="2.95"/><ellipse cx="344.0" cy="347.3" rx="2.60" ry="2.95"/><ellipse cx="348.6" cy="348.7" rx="2.60" ry="2.95"/><ellipse cx="353.0" cy="355.8" rx="2.60" ry="2.95"/><ellipse cx="357.3" cy="357.5" rx="2.60" ry="2.95"/><ellipse cx="361.6" cy="355.8" rx="2.60" ry="2.95"/><ellipse cx="365.7" cy="350.8" rx="2.60" ry="2.95"/><ellipse cx="369.8" cy="347.5" rx="2.60" ry="2.95"/><ellipse cx="373.7" cy="345.8" rx="2.60" ry="2.95"/><ellipse cx="377.6" cy="345.8" rx="2.60" ry="2.95"/><ellipse cx="381.4" cy="347.5" rx="2.60" ry="2.95"/><ellipse cx="385.2" cy="350.0" rx="2.60" ry="2.95"/><ellipse cx="388.9" cy="352.5" rx="2.60" ry="2.95"/><ellipse cx="392.5" cy="356.7" rx="2.60" ry="2.95"/><ellipse cx="396.0" cy="360.8" rx="2.60" ry="2.95"/><ellipse cx="399.5" cy="381.7" rx="2.60" ry="2.95"/><ellipse cx="416.0" cy="383.3" rx="2.60" ry="2.95"/><ellipse cx="419.1" cy="364.2" rx="2.60" ry="2.95"/><ellipse cx="422.2" cy="355.0" rx="2.60" ry="2.95"/><ellipse cx="425.2" cy="352.2" rx="2.60" ry="2.95"/><ellipse cx="428.2" cy="349.7" rx="2.60" ry="2.95"/><ellipse cx="431.1" cy="347.5" rx="2.60" ry="2.95"/><ellipse cx="434.0" cy="345.7" rx="2.60" ry="2.95"/><ellipse cx="436.9" cy="344.1" rx="2.60" ry="2.95"/><ellipse cx="439.7" cy="342.5" rx="2.60" ry="2.95"/><ellipse cx="442.5" cy="340.8" rx="2.60" ry="2.95"/><ellipse cx="445.2" cy="339.4" rx="2.60" ry="2.95"/><ellipse cx="447.9" cy="338.2" rx="2.60" ry="2.95"/><ellipse cx="450.6" cy="337.4" rx="2.60" ry="2.95"/><ellipse cx="453.2" cy="336.7" rx="2.60" ry="2.95"/><ellipse cx="455.8" cy="336.3" rx="2.60" ry="2.95"/><ellipse cx="458.3" cy="335.9" rx="2.60" ry="2.95"/><ellipse cx="460.8" cy="335.5" rx="2.60" ry="2.95"/><ellipse cx="463.3" cy="335.3" rx="2.60" ry="2.95"/><ellipse cx="465.8" cy="335.1" rx="2.60" ry="2.95"/><ellipse cx="468.2" cy="334.9" rx="2.60" ry="2.95"/><ellipse cx="470.6" cy="334.8" rx="2.60" ry="2.95"/><ellipse cx="473.0" cy="334.7" rx="2.60" ry="2.95"/><ellipse cx="475.3" cy="334.8" rx="2.60" ry="2.95"/><ellipse cx="477.6" cy="335.0" rx="2.60" ry="2.95"/><ellipse cx="479.9" cy="335.3" rx="2.60" ry="2.95"/><ellipse cx="482.1" cy="335.5" rx="2.60" ry="2.95"/><ellipse cx="484.4" cy="335.8" rx="2.60" ry="2.95"/><ellipse cx="486.6" cy="336.0" rx="2.60" ry="2.95"/><ellipse cx="488.7" cy="336.2" rx="2.60" ry="2.95"/><ellipse cx="490.9" cy="336.5" rx="2.60" ry="2.95"/><ellipse cx="493.0" cy="336.7" rx="2.60" ry="2.95"/><ellipse cx="495.1" cy="336.9" rx="2.60" ry="2.95"/><ellipse cx="497.2" cy="337.0" rx="2.60" ry="2.95"/><ellipse cx="499.3" cy="337.2" rx="2.60" ry="2.95"/><ellipse cx="501.3" cy="337.3" rx="2.60" ry="2.95"/><ellipse cx="503.3" cy="337.5" rx="2.60" ry="2.95"/><ellipse cx="505.3" cy="337.6" rx="2.60" ry="2.95"/><ellipse cx="507.3" cy="337.7" rx="2.60" ry="2.95"/><ellipse cx="509.3" cy="337.9" rx="2.60" ry="2.95"/><ellipse cx="511.2" cy="338.1" rx="2.60" ry="2.95"/><ellipse cx="513.1" cy="338.3" rx="2.60" ry="2.95"/><ellipse cx="515.0" cy="338.5" rx="2.60" ry="2.95"/><ellipse cx="516.9" cy="338.6" rx="2.60" ry="2.95"/><ellipse cx="518.8" cy="338.7" rx="2.60" ry="2.95"/><ellipse cx="520.6" cy="338.7" rx="2.60" ry="2.95"/><ellipse cx="522.4" cy="338.5" rx="2.60" ry="2.95"/><ellipse cx="524.2" cy="338.0" rx="2.60" ry="2.95"/><ellipse cx="526.0" cy="337.6" rx="2.60" ry="2.95"/><ellipse cx="527.8" cy="337.1" rx="2.60" ry="2.95"/><ellipse cx="529.6" cy="336.7" rx="2.60" ry="2.95"/><ellipse cx="531.3" cy="336.4" rx="2.60" ry="2.95"/><ellipse cx="533.0" cy="336.0" rx="2.60" ry="2.95"/><ellipse cx="534.8" cy="335.7" rx="2.60" ry="2.95"/><ellipse cx="536.4" cy="335.3" rx="2.60" ry="2.95"/><ellipse cx="538.1" cy="335.0" rx="2.60" ry="2.95"/><ellipse cx="539.8" cy="334.7" rx="2.60" ry="2.95"/><ellipse cx="541.5" cy="334.3" rx="2.60" ry="2.95"/><ellipse cx="543.1" cy="334.0" rx="2.60" ry="2.95"/><ellipse cx="544.7" cy="333.6" rx="2.60" ry="2.95"/><ellipse cx="546.3" cy="333.2" rx="2.60" ry="2.95"/><ellipse cx="547.9" cy="332.8" rx="2.60" ry="2.95"/><ellipse cx="549.5" cy="332.5" rx="2.60" ry="2.95"/><ellipse cx="551.1" cy="332.3" rx="2.60" ry="2.95"/><ellipse cx="552.7" cy="332.3" rx="2.60" ry="2.95"/><ellipse cx="554.2" cy="332.4" rx="2.60" ry="2.95"/><ellipse cx="555.7" cy="332.5" rx="2.60" ry="2.95"/><ellipse cx="557.3" cy="332.8" rx="2.60" ry="2.95"/><ellipse cx="558.8" cy="333.1" rx="2.60" ry="2.95"/><ellipse cx="560.3" cy="333.4" rx="2.60" ry="2.95"/><ellipse cx="561.8" cy="333.7" rx="2.60" ry="2.95"/><ellipse cx="563.2" cy="334.1" rx="2.60" ry="2.95"/><ellipse cx="564.7" cy="334.6" rx="2.60" ry="2.95"/><ellipse cx="566.2" cy="335.2" rx="2.60" ry="2.95"/><ellipse cx="567.6" cy="335.9" rx="2.60" ry="2.95"/><ellipse cx="569.0" cy="336.7" rx="2.60" ry="2.95"/><ellipse cx="570.5" cy="337.7" rx="2.60" ry="2.95"/><ellipse cx="571.9" cy="338.8" rx="2.60" ry="2.95"/><ellipse cx="573.3" cy="340.0" rx="2.60" ry="2.95"/><ellipse cx="574.7" cy="341.4" rx="2.60" ry="2.95"/><ellipse cx="576.0" cy="342.8" rx="2.60" ry="2.95"/><ellipse cx="577.4" cy="344.4" rx="2.60" ry="2.95"/><ellipse cx="578.8" cy="346.6" rx="2.60" ry="2.95"/><ellipse cx="580.1" cy="350.2" rx="2.60" ry="2.95"/><ellipse cx="581.5" cy="355.7" rx="2.60" ry="2.95"/><ellipse cx="582.8" cy="363.0" rx="2.60" ry="2.95"/></g>
<path d="M145.63,8.2v6 M145.63,137.6v6 M145.63,281.0v6 M145.63,137.6v-6 M145.63,281.0v-6 M145.63,431.2v-6 M201.07,8.2v6 M201.07,137.6v6 M201.07,281.0v6 M201.07,137.6v-6 M201.07,281.0v-6 M201.07,431.2v-6 M244.07,8.2v6 M244.07,137.6v6 M244.07,281.0v6 M244.07,137.6v-6 M244.07,281.0v-6 M244.07,431.2v-6 M279.20,8.2v6 M279.20,137.6v6 M279.20,281.0v6 M279.20,137.6v-6 M279.20,281.0v-6 M279.20,431.2v-6 M308.90,8.2v6 M308.90,137.6v6 M308.90,281.0v6 M308.90,137.6v-6 M308.90,281.0v-6 M308.90,431.2v-6 M334.63,8.2v6 M334.63,137.6v6 M334.63,281.0v6 M334.63,137.6v-6 M334.63,281.0v-6 M334.63,431.2v-6 M357.33,8.2v6 M357.33,137.6v6 M357.33,281.0v6 M357.33,137.6v-6 M357.33,281.0v-6 M357.33,431.2v-6 M377.63,8.2v6 M377.63,137.6v6 M377.63,281.0v6 M377.63,137.6v-6 M377.63,281.0v-6 M377.63,431.2v-6 M511.20,8.2v6 M511.20,137.6v6 M511.20,281.0v6 M511.20,137.6v-6 M511.20,281.0v-6 M511.20,431.2v-6 M589.33,8.2v6 M589.33,137.6v6 M589.33,281.0v6 M589.33,137.6v-6 M589.33,281.0v-6 M589.33,431.2v-6 M68.0,8.00h6 M589.5,8.00h-6 M68.0,18.80h3 M589.5,18.80h-3 M68.0,29.60h3 M589.5,29.60h-3 M68.0,40.40h3 M589.5,40.40h-3 M68.0,51.20h6 M589.5,51.20h-6 M68.0,62.00h3 M589.5,62.00h-3 M68.0,72.80h3 M589.5,72.80h-3 M68.0,83.60h3 M589.5,83.60h-3 M68.0,94.40h6 M589.5,94.40h-6 M68.0,105.20h3 M589.5,105.20h-3 M68.0,116.00h3 M589.5,116.00h-3 M68.0,126.80h3 M589.5,126.80h-3 M68.0,137.60h6 M589.5,137.60h-6 M68.0,137.40h6 M589.5,137.40h-6 M68.0,153.30h3 M589.5,153.30h-3 M68.0,169.20h6 M589.5,169.20h-6 M68.0,185.10h3 M589.5,185.10h-3 M68.0,201.00h6 M589.5,201.00h-6 M68.0,216.90h3 M589.5,216.90h-3 M68.0,232.80h6 M589.5,232.80h-6 M68.0,248.70h3 M589.5,248.70h-3 M68.0,264.60h6 M589.5,264.60h-6 M68.0,280.50h3 M589.5,280.50h-3 M68.0,281.00h3 M589.5,281.00h-3 M68.0,302.45h6 M589.5,302.45h-6 M68.0,323.90h3 M589.5,323.90h-3 M68.0,345.35h6 M589.5,345.35h-6 M68.0,366.80h3 M589.5,366.80h-3 M68.0,388.25h6 M589.5,388.25h-6 M68.0,409.70h3 M589.5,409.70h-3 M68.0,431.15h6 M589.5,431.15h-6" stroke="#000" stroke-width="1.2" fill="none"/>
<rect x="68.0" y="8.2" width="521.5" height="423.0" fill="none" stroke="#000" stroke-width="1.4"/>
<path d="M68.0,137.6H589.5M68.0,281.0H589.5" stroke="#000" stroke-width="1.4"/>
<g style="will-change:transform" font-family="Liberation Serif">
<g font-size="16.8">
<text x="116.4" y="36.1" fill="#000">Model A</text>
<text x="116.4" y="75.7" fill="#cc1420">Model B</text>
<text x="116.4" y="122.4" fill="#1630c8">Model C</text>
<text x="462.8" y="159.1" fill="#1630c8">Model C</text>
<text x="462.5" y="195.8" fill="#000">Model A</text>
<text x="462.5" y="229.3" fill="#cc1420">Model B</text>
<text x="309.8" y="256.6" fill="#1630c8">Model C</text>
<text x="285.4" y="322" fill="#1630c8">Model C</text>
<text x="130.7" y="367.9" fill="#000">Model A</text>
<text x="351.5" y="415" fill="#cc1420">Model B</text>
</g>
<g font-style="italic" font-size="17">
<text transform="translate(428.2,152.7) scale(1.1,1)" fill="#1630c8">T</text>
<text transform="translate(398.3,191.0) scale(1.1,1)" fill="#000">T</text>
<text transform="translate(427.7,191.0) scale(1.1,1)" fill="#000">T</text>
<text transform="translate(218.9,176.5) scale(1.1,1)" fill="#cc1420">T</text>
<text transform="translate(219.0,252.0) scale(1.1,1)" fill="#cc1420">T</text>
<text transform="translate(273.5,254.5) scale(1.1,1)" fill="#1630c8">T</text>
</g>
<g font-size="10.2">
<text x="437.8" y="159" fill="#1630c8">gas</text>
<text x="408.7" y="196.7" fill="#000">gas</text>
<text x="437.7" y="196.7" fill="#000">rad</text>
<text x="228.9" y="182.3" fill="#cc1420">gas</text>
<text x="228.6" y="257" fill="#cc1420">rad</text>
<text x="283.3" y="260.3" fill="#1630c8">rad</text>
</g>
<g font-size="18" fill="#000">
<text x="29.5" y="16.2">10</text>
<text x="29.5" y="56">10</text>
<text x="29.5" y="99.5">10</text>
<text x="29.5" y="142.7">10</text>
<text x="29.5" y="174.3">10</text>
<text x="29.5" y="206.6">10</text>
<text x="29.5" y="239.9">10</text>
<text x="29.5" y="271">10</text>
<text x="29.5" y="311.1">10</text>
<text x="29.5" y="350.8">10</text>
<text x="29.5" y="394.5">10</text>
<text x="29.5" y="434.3">10</text>
<text x="145.3" y="450" text-anchor="middle" font-size="19">3</text>
<text x="244" y="450" text-anchor="middle" font-size="19">5</text>
<text x="377.3" y="450" text-anchor="middle" font-size="19">10</text>
<text x="584.6" y="450" text-anchor="middle" font-size="19">30</text>
</g>
<g font-size="11" fill="#000">
<text x="48.5" y="10.0">0</text>
<text x="47.8" y="50.5">-4</text>
<text x="48.5" y="93.0">-8</text>
<text x="48.5" y="136.1">-12</text>
<text x="48.2" y="167.5">10</text>
<text x="48.4" y="199.9">8</text>
<text x="48.4" y="233.3">6</text>
<text x="48.4" y="264.5">4</text>
<text x="48.3" y="305.1">0</text>
<text x="48.8" y="344.3">-2</text>
<text x="48.8" y="388.0">-4</text>
<text x="48.8" y="427.8">-6</text>
</g>
<g font-size="17" fill="#000">
<text transform="translate(312,472) scale(1.1,1)" font-size="20"><tspan font-style="italic">r</tspan>/<tspan font-style="italic">R</tspan><tspan font-size="12.5" dy="6">S</tspan></text>
</g>
<g font-size="17" fill="#000">
<text transform="translate(17.4,109) rotate(-90)" font-size="19">ρ<tspan dx="3">[g cm</tspan><tspan font-size="13" dy="-7">-3</tspan><tspan dy="7">]</tspan></text>
<g font-size="18">
<text transform="translate(16.6,242.6) rotate(-90) scale(1.05,1)" font-style="italic">T</text>
<text transform="translate(22.6,232.8) rotate(-90)" font-size="12">gas</text>
<text transform="translate(16.6,217) rotate(-90)">,</text>
<text transform="translate(16.6,208.2) rotate(-90) scale(1.05,1)" font-style="italic">T</text>
<text transform="translate(22.6,197.6) rotate(-90)" font-size="12">rad</text>
<text transform="translate(16.4,177.8) rotate(-90)" font-size="18.5">[K]</text>
</g>
<g font-size="19" stroke="#000" stroke-width="0.35">
<text transform="translate(12.9,380.5) rotate(-90)" font-size="19">–</text>
<text transform="translate(13.3,373.2) rotate(-90)" font-style="italic" font-size="20">ʋ</text>
<text transform="translate(18.6,363.6) rotate(-90)" font-style="italic" font-size="12" stroke-width="0.2">r</text>
<text transform="translate(10.6,357.8) rotate(-90)" font-size="17" stroke-width="0.7">/</text>
<text transform="translate(13.3,350.7) rotate(-90)" font-style="italic" font-size="20">ʋ</text>
<text transform="translate(18.3,341.6) rotate(-90)" font-size="11.5" stroke-width="0.2">kep</text>
</g>
</g>
</g>

</svg>
</body></html>
